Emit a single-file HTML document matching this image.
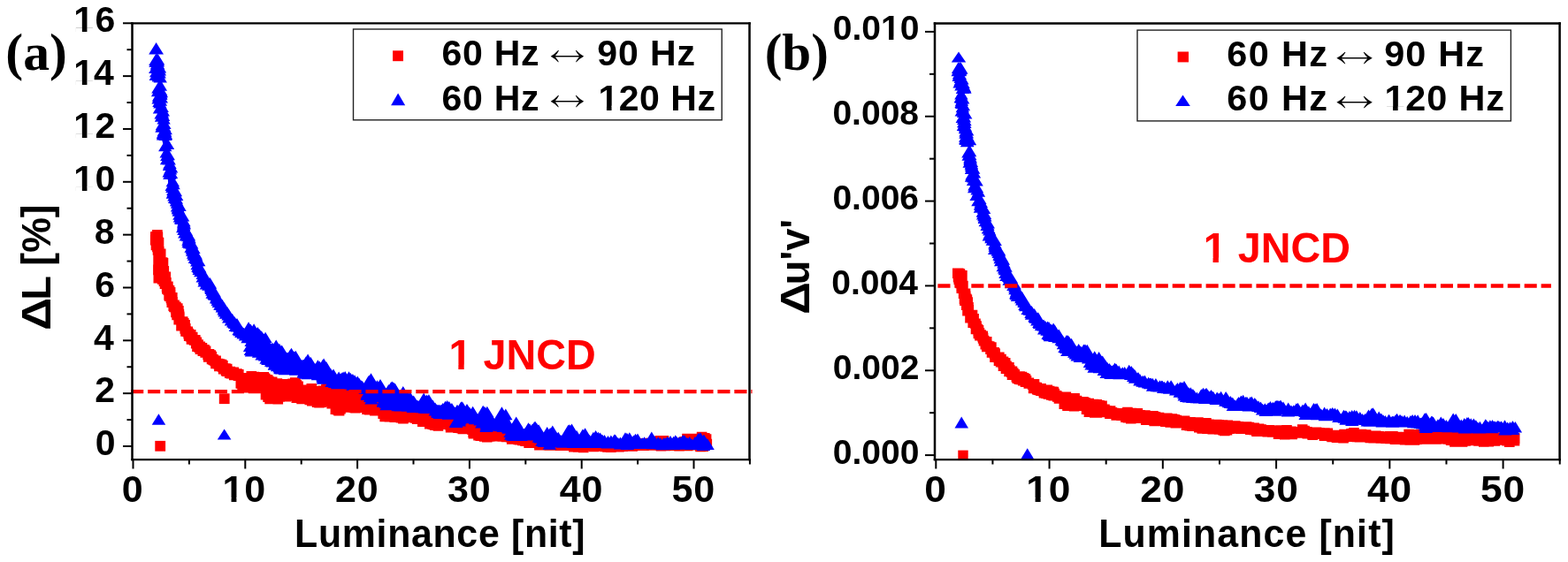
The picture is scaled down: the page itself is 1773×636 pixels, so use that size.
<!DOCTYPE html>
<html><head><meta charset="utf-8"><title>Figure</title>
<style>html,body{margin:0;padding:0;background:#fff;overflow:hidden;}svg{display:block;}</style>
</head><body>
<svg width="1773" height="636" viewBox="0 0 1773 636">
<rect width="100%" height="100%" fill="#fff"/>
<defs><clipPath id="c0"><path clip-rule="evenodd" d="M-2000 -2000H4000V2000H-2000ZM1.79 -4.70H9.23V1.19H1.79ZM14.65 -4.70H21.69V1.19H14.65Z"/></clipPath><clipPath id="c1"><path clip-rule="evenodd" d="M-2000 -2000H4000V2000H-2000ZM1.79 -4.70H9.23V1.19H1.79ZM14.65 -4.70H21.69V1.19H14.65Z"/></clipPath><clipPath id="c2"><path clip-rule="evenodd" d="M-2000 -2000H4000V2000H-2000ZM1.79 -4.70H9.23V1.19H1.79ZM14.65 -4.70H21.69V1.19H14.65Z"/></clipPath><clipPath id="c3"><path clip-rule="evenodd" d="M-2000 -2000H4000V2000H-2000ZM1.79 -4.70H9.23V1.19H1.79ZM14.65 -4.70H21.69V1.19H14.65Z"/></clipPath><clipPath id="c4"><path clip-rule="evenodd" d="M-2000 -2000H4000V2000H-2000ZM1.88 -4.93H9.70V1.25H1.88ZM15.38 -4.93H22.78V1.25H15.38Z"/></clipPath><clipPath id="c5"><path clip-rule="evenodd" d="M-2000 -2000H4000V2000H-2000ZM2.16 -5.66H11.14V1.44H2.16ZM17.66 -5.66H26.16V1.44H17.66Z"/></clipPath><clipPath id="c6"><path clip-rule="evenodd" d="M-2000 -2000H4000V2000H-2000ZM1.84 -4.84H9.51V1.23H1.84ZM15.09 -4.84H22.35V1.23H15.09Z"/></clipPath><clipPath id="c7"><path clip-rule="evenodd" d="M-2000 -2000H4000V2000H-2000ZM54.53 -4.48H61.64V1.14H54.53ZM66.80 -4.48H73.53V1.14H66.80Z"/></clipPath><clipPath id="c8"><path clip-rule="evenodd" d="M-2000 -2000H4000V2000H-2000ZM1.88 -4.93H9.70V1.25H1.88ZM15.38 -4.93H22.78V1.25H15.38Z"/></clipPath><clipPath id="c9"><path clip-rule="evenodd" d="M-2000 -2000H4000V2000H-2000ZM2.16 -5.66H11.14V1.44H2.16ZM17.66 -5.66H26.16V1.44H17.66Z"/></clipPath><clipPath id="c10"><path clip-rule="evenodd" d="M-2000 -2000H4000V2000H-2000ZM1.86 -4.89H9.60V1.24H1.86ZM15.24 -4.89H22.56V1.24H15.24Z"/></clipPath></defs>
<polygon fill="#ff0000" points="175.1,265.1 175.1,279.9 176.3,280.6 176.6,280.8 176.9,281.1 177.2,281.4 177.5,281.7 177.7,282.0 177.8,282.4 178.0,282.7 178.1,283.1 178.2,283.5 178.2,283.9 178.6,300.0 180.5,301.6 180.8,301.9 181.0,302.2 181.2,302.5 181.4,302.8 181.6,303.2 181.7,303.6 181.8,303.9 181.9,304.3 181.9,304.7 181.9,310.0 181.9,310.4 181.8,310.8 181.7,311.1 181.6,311.5 181.5,311.8 181.3,312.2 181.0,312.5 180.8,312.8 180.5,313.0 180.2,313.3 179.9,313.5 179.5,313.6 179.2,313.8 178.8,313.9 177.2,314.3 177.2,316.8 180.5,317.0 180.9,317.0 181.3,317.1 181.7,317.3 182.1,317.4 182.4,317.6 182.8,317.9 183.1,318.1 183.4,318.4 183.6,318.7 183.8,319.1 184.0,319.5 184.1,319.8 186.4,327.4 186.5,327.8 188.3,336.7 192.8,345.7 197.6,355.1 197.8,355.5 199.3,359.6 199.3,359.9 199.4,360.2 201.4,370.0 207.8,377.4 208.0,377.6 215.0,387.1 215.3,387.5 219.7,395.1 228.6,403.0 228.8,403.2 239.2,413.6 248.2,420.3 258.4,426.0 267.5,429.4 267.9,429.5 268.2,429.7 268.5,429.9 268.8,430.2 269.1,430.4 269.3,430.7 269.5,431.1 269.7,431.4 269.9,431.8 272.8,440.0 277.0,440.0 277.5,440.0 296.4,442.5 296.8,442.6 297.2,442.7 297.6,442.9 297.9,443.1 298.3,443.3 298.6,443.5 298.9,443.8 299.1,444.2 299.4,444.5 299.5,444.9 299.7,445.2 299.8,445.6 299.9,446.0 300.7,453.0 314.5,454.8 325.5,451.6 325.9,451.5 326.3,451.4 326.7,451.4 327.1,451.4 327.6,451.5 344.1,455.6 353.1,457.8 370.3,459.0 370.6,459.1 371.0,459.1 371.4,459.2 371.7,459.4 375.9,461.4 376.3,461.6 376.6,461.8 376.9,462.1 377.2,462.4 377.5,462.7 377.7,463.0 377.9,463.4 379.6,467.4 384.3,467.4 384.3,466.4 384.3,466.0 384.4,465.6 384.5,465.2 384.6,464.8 384.8,464.5 385.0,464.1 385.2,463.8 385.5,463.5 385.8,463.3 386.1,463.0 386.5,462.8 386.9,462.7 387.2,462.5 387.6,462.5 388.0,462.4 388.4,462.4 388.8,462.4 410.0,465.2 410.2,465.3 427.2,468.2 427.6,468.2 427.9,468.4 428.3,468.5 428.6,468.7 429.0,468.9 429.3,469.2 429.5,469.5 429.8,469.8 430.0,470.1 430.2,470.5 430.3,470.8 431.0,472.9 439.8,475.1 452.3,476.0 452.4,476.0 460.4,476.8 460.9,476.9 473.6,479.8 491.6,483.9 502.5,483.9 502.9,483.9 503.2,484.0 503.6,484.1 503.9,484.2 504.3,484.3 508.0,486.2 527.2,489.7 527.6,489.8 528.0,489.9 528.4,490.1 528.7,490.3 529.0,490.5 532.7,493.5 542.7,496.7 553.4,496.7 571.2,496.4 571.6,496.4 572.0,496.5 572.3,496.5 572.7,496.6 585.8,501.4 597.7,501.4 598.0,501.4 598.4,501.5 598.7,501.5 599.1,501.6 607.3,504.6 629.3,505.8 650.5,506.4 678.1,505.8 678.3,505.8 702.4,506.5 778.3,506.5 782.6,505.6 783.0,505.5 783.4,505.5 791.0,505.5 791.3,505.5 799.7,506.2 799.7,503.6 799.0,494.7 773.9,494.7 761.7,500.6 761.4,500.7 761.0,500.9 760.7,500.9 760.3,501.0 759.9,501.0 759.5,501.0 759.1,500.9 758.8,500.8 758.4,500.7 758.1,500.5 751.7,497.0 741.2,497.0 700.6,503.0 700.2,503.0 699.9,503.0 619.9,500.0 619.5,500.0 619.2,499.9 579.2,491.9 578.7,491.8 548.9,481.8 489.1,465.9 459.2,459.9 459.0,459.9 429.0,451.9 428.5,451.7 399.0,439.9 370.3,436.1 358.3,439.3 358.0,439.3 357.6,439.4 357.2,439.4 356.8,439.4 356.5,439.3 348.3,437.5 346.3,440.2 346.0,440.5 345.8,440.8 345.4,441.0 345.1,441.2 344.8,441.4 344.4,441.6 344.1,441.7 343.7,441.8 343.3,441.8 342.9,441.8 342.5,441.8 342.1,441.7 341.8,441.6 341.4,441.4 341.1,441.3 340.8,441.0 340.5,440.8 340.2,440.5 339.9,440.2 339.7,439.9 339.5,439.6 339.4,439.2 339.2,438.9 337.6,432.9 334.5,432.3 319.5,432.3 319.1,432.3 318.7,432.2 318.3,432.1 317.9,432.0 309.8,428.5 298.7,424.1 280.0,424.1 279.6,424.1 279.2,424.0 278.8,423.9 278.5,423.8 275.6,422.6 275.2,422.4 274.9,422.2 274.6,422.0 272.2,420.0 269.1,418.7 268.7,418.4 261.6,414.2 261.2,414.0 253.2,408.1 249.7,405.9 249.2,405.6 243.4,400.8 243.4,400.8 236.4,394.9 236.0,394.5 226.6,384.0 217.3,374.6 217.0,374.3 216.8,374.0 216.5,373.6 213.1,366.9 208.5,359.0 203.8,351.4 203.5,350.9 200.8,344.6 197.7,339.9 197.5,339.6 197.3,339.2 197.2,338.9 197.1,338.5 194.9,327.9 191.7,320.8 191.6,320.4 189.2,312.9 187.4,308.0 187.3,307.7 187.2,307.4 185.3,298.0 185.3,297.9 183.5,288.5 180.6,274.6 178.8,268.1 178.7,267.7 178.6,267.3 178.5,265.1"/>
<path fill="#ff0000" d="M172.1 260.0L183.7 260.0L183.7 271.6L172.1 271.6ZM172.5 262.2L184.1 262.2L184.1 273.8L172.5 273.8ZM172.2 264.6L183.8 264.6L183.8 276.2L172.2 276.2ZM173.2 268.4L184.8 268.4L184.8 280.0L173.2 280.0ZM171.6 270.5L183.2 270.5L183.2 282.1L171.6 282.1ZM173.3 273.5L184.9 273.5L184.9 285.1L173.3 285.1ZM171.1 270.4L182.7 270.4L182.7 282.0L171.1 282.0ZM175.9 281.6L187.5 281.6L187.5 293.2L175.9 293.2ZM174.5 283.7L186.1 283.7L186.1 295.3L174.5 295.3ZM174.6 287.4L186.2 287.4L186.2 299.0L174.6 299.0ZM174.9 289.8L186.5 289.8L186.5 301.4L174.9 301.4ZM175.6 292.5L187.2 292.5L187.2 304.1L175.6 304.1ZM177.9 291.2L189.5 291.2L189.5 302.8L177.9 302.8ZM178.7 291.9L190.3 291.9L190.3 303.5L178.7 303.5ZM179.5 300.9L191.1 300.9L191.1 312.5L179.5 312.5ZM179.4 307.8L191.0 307.8L191.0 319.4L179.4 319.4ZM176.5 306.8L188.1 306.8L188.1 318.4L176.5 318.4ZM173.5 308.9L185.1 308.9L185.1 320.5L173.5 320.5ZM181.3 311.8L192.9 311.8L192.9 323.4L181.3 323.4ZM173.1 299.6L184.7 299.6L184.7 311.2L173.1 311.2ZM181.5 307.4L193.1 307.4L193.1 319.0L181.5 319.0ZM182.1 314.1L193.7 314.1L193.7 325.7L182.1 325.7ZM184.1 318.6L195.7 318.6L195.7 330.2L184.1 330.2ZM184.5 322.4L196.1 322.4L196.1 334.0L184.5 334.0ZM185.5 323.7L197.1 323.7L197.1 335.3L185.5 335.3ZM185.3 328.1L196.9 328.1L196.9 339.7L185.3 339.7ZM185.9 329.4L197.5 329.4L197.5 341.0L185.9 341.0ZM189.0 331.1L200.6 331.1L200.6 342.7L189.0 342.7ZM188.2 333.1L199.8 333.1L199.8 344.7L188.2 344.7ZM189.3 335.9L200.9 335.9L200.9 347.5L189.3 347.5ZM191.3 339.6L202.9 339.6L202.9 351.2L191.3 351.2ZM193.1 341.5L204.7 341.5L204.7 353.1L193.1 353.1ZM195.0 343.2L206.6 343.2L206.6 354.8L195.0 354.8ZM196.1 346.1L207.7 346.1L207.7 357.7L196.1 357.7ZM196.6 350.1L208.2 350.1L208.2 361.7L196.6 361.7ZM197.1 354.1L208.7 354.1L208.7 365.7L197.1 365.7ZM199.5 358.4L211.1 358.4L211.1 370.0L199.5 370.0ZM200.2 360.1L211.8 360.1L211.8 371.7L200.2 371.7ZM199.2 362.9L210.8 362.9L210.8 374.5L199.2 374.5ZM201.1 361.8L212.7 361.8L212.7 373.4L201.1 373.4ZM203.3 362.1L214.9 362.1L214.9 373.7L203.3 373.7ZM203.4 366.2L215.0 366.2L215.0 377.8L203.4 377.8ZM206.4 369.6L218.0 369.6L218.0 381.2L206.4 381.2ZM207.4 371.8L219.0 371.8L219.0 383.4L207.4 383.4ZM209.9 373.1L221.5 373.1L221.5 384.7L209.9 384.7ZM211.9 375.7L223.5 375.7L223.5 387.3L211.9 387.3ZM213.7 379.2L225.3 379.2L225.3 390.8L213.7 390.8ZM215.9 383.0L227.5 383.0L227.5 394.6L215.9 394.6ZM218.3 384.3L229.9 384.3L229.9 395.9L218.3 395.9ZM217.2 386.5L228.8 386.5L228.8 398.1L217.2 398.1ZM220.5 386.6L232.1 386.6L232.1 398.2L220.5 398.2ZM220.6 389.3L232.2 389.3L232.2 400.9L220.6 400.9ZM225.2 390.0L236.8 390.0L236.8 401.6L225.2 401.6ZM226.8 391.4L238.4 391.4L238.4 403.0L226.8 403.0ZM229.3 395.7L240.9 395.7L240.9 407.3L229.3 407.3ZM229.9 398.1L241.5 398.1L241.5 409.7L229.9 409.7ZM233.5 397.8L245.1 397.8L245.1 409.4L233.5 409.4ZM235.1 401.0L246.7 401.0L246.7 412.6L235.1 412.6ZM237.3 402.6L248.9 402.6L248.9 414.2L237.3 414.2ZM238.2 405.6L249.8 405.6L249.8 417.2L238.2 417.2ZM240.8 405.8L252.4 405.8L252.4 417.4L240.8 417.4ZM242.1 408.7L253.7 408.7L253.7 420.3L242.1 420.3ZM245.8 409.1L257.4 409.1L257.4 420.7L245.8 420.7ZM246.8 412.0L258.4 412.0L258.4 423.6L246.8 423.6ZM249.8 413.9L261.4 413.9L261.4 425.5L249.8 425.5ZM251.1 414.4L262.7 414.4L262.7 426.0L251.1 426.0ZM253.9 416.5L265.5 416.5L265.5 428.1L253.9 428.1ZM255.6 416.9L267.2 416.9L267.2 428.5L255.6 428.5ZM258.9 418.7L270.5 418.7L270.5 430.3L258.9 430.3ZM262.2 417.3L273.8 417.3L273.8 428.9L262.2 428.9ZM269.6 426.5L281.2 426.5L281.2 438.1L269.6 438.1ZM270.2 428.9L281.8 428.9L281.8 440.5L270.2 440.5ZM269.6 431.3L281.2 431.3L281.2 442.9L269.6 442.9ZM273.0 433.0L284.6 433.0L284.6 444.6L273.0 444.6ZM266.5 428.1L278.1 428.1L278.1 439.7L266.5 439.7ZM268.3 430.9L279.9 430.9L279.9 442.5L268.3 442.5ZM273.0 430.1L284.6 430.1L284.6 441.7L273.0 441.7ZM276.0 429.2L287.6 429.2L287.6 440.8L276.0 440.8ZM278.3 431.4L289.9 431.4L289.9 443.0L278.3 443.0ZM282.7 430.6L294.3 430.6L294.3 442.2L282.7 442.2ZM285.5 431.7L297.1 431.7L297.1 443.3L285.5 443.3ZM288.7 431.3L300.3 431.3L300.3 442.9L288.7 442.9ZM295.1 432.5L306.7 432.5L306.7 444.1L295.1 444.1ZM299.4 443.2L311.0 443.2L311.0 454.8L299.4 454.8ZM299.3 445.4L310.9 445.4L310.9 457.0L299.3 457.0ZM299.3 445.7L310.9 445.7L310.9 457.3L299.3 457.3ZM294.7 440.8L306.3 440.8L306.3 452.4L294.7 452.4ZM297.3 443.5L308.9 443.5L308.9 455.1L297.3 455.1ZM299.4 443.7L311.0 443.7L311.0 455.3L299.4 455.3ZM304.1 443.3L315.7 443.3L315.7 454.9L304.1 454.9ZM306.4 445.4L318.0 445.4L318.0 457.0L306.4 457.0ZM308.5 445.8L320.1 445.8L320.1 457.4L308.5 457.4ZM308.1 443.5L319.7 443.5L319.7 455.1L308.1 455.1ZM310.4 443.1L322.0 443.1L322.0 454.7L310.4 454.7ZM313.4 442.8L325.0 442.8L325.0 454.4L313.4 454.4ZM317.4 442.8L329.0 442.8L329.0 454.4L317.4 454.4ZM324.7 442.2L336.3 442.2L336.3 453.8L324.7 453.8ZM327.8 441.4L339.4 441.4L339.4 453.0L327.8 453.0ZM329.5 444.5L341.1 444.5L341.1 456.1L329.5 456.1ZM332.9 443.6L344.5 443.6L344.5 455.2L332.9 455.2ZM335.3 445.7L346.9 445.7L346.9 457.3L335.3 457.3ZM339.7 445.4L351.3 445.4L351.3 457.0L339.7 457.0ZM342.0 445.0L353.6 445.0L353.6 456.6L342.0 456.6ZM344.5 446.6L356.1 446.6L356.1 458.2L344.5 458.2ZM347.0 448.0L358.6 448.0L358.6 459.6L347.0 459.6ZM349.8 447.4L361.4 447.4L361.4 459.0L349.8 459.0ZM352.8 449.5L364.4 449.5L364.4 461.1L352.8 461.1ZM355.2 449.9L366.8 449.9L366.8 461.5L355.2 461.5ZM357.5 449.5L369.1 449.5L369.1 461.1L357.5 461.1ZM361.8 448.5L373.4 448.5L373.4 460.1L361.8 460.1ZM366.2 447.7L377.8 447.7L377.8 459.3L366.2 459.3ZM369.4 450.9L381.0 450.9L381.0 462.5L369.4 462.5ZM375.7 455.0L387.3 455.0L387.3 466.6L375.7 466.6ZM377.4 458.8L389.0 458.8L389.0 470.4L377.4 470.4ZM376.2 458.0L387.8 458.0L387.8 469.6L376.2 469.6ZM373.6 457.5L385.2 457.5L385.2 469.1L373.6 469.1ZM377.8 458.9L389.4 458.9L389.4 470.5L377.8 470.5ZM379.2 456.8L390.8 456.8L390.8 468.4L379.2 468.4ZM383.5 452.8L395.1 452.8L395.1 464.4L383.5 464.4ZM386.9 454.5L398.5 454.5L398.5 466.1L386.9 466.1ZM390.7 455.1L402.3 455.1L402.3 466.7L390.7 466.7ZM394.4 455.3L406.0 455.3L406.0 466.9L394.4 466.9ZM396.1 455.8L407.7 455.8L407.7 467.4L396.1 467.4ZM400.0 455.4L411.6 455.4L411.6 467.0L400.0 467.0ZM403.1 455.2L414.7 455.2L414.7 466.8L403.1 466.8ZM406.9 454.3L418.5 454.3L418.5 465.9L406.9 465.9ZM409.2 457.3L420.8 457.3L420.8 468.9L409.2 468.9ZM411.8 457.8L423.4 457.8L423.4 469.4L411.8 469.4ZM414.1 457.4L425.7 457.4L425.7 469.0L414.1 469.0ZM418.1 458.8L429.7 458.8L429.7 470.4L418.1 470.4ZM420.4 458.8L432.0 458.8L432.0 470.4L420.4 470.4ZM429.4 465.7L441.0 465.7L441.0 477.3L429.4 477.3ZM427.6 462.1L439.2 462.1L439.2 473.7L427.6 473.7ZM427.4 462.4L439.0 462.4L439.0 474.0L427.4 474.0ZM430.7 465.3L442.3 465.3L442.3 476.9L430.7 476.9ZM434.1 464.4L445.7 464.4L445.7 476.0L434.1 476.0ZM434.6 465.9L446.2 465.9L446.2 477.5L434.6 477.5ZM438.0 464.8L449.6 464.8L449.6 476.4L438.0 476.4ZM440.5 466.3L452.1 466.3L452.1 477.9L440.5 477.9ZM444.4 465.7L456.0 465.7L456.0 477.3L444.4 477.3ZM447.6 467.0L459.2 467.0L459.2 478.6L447.6 478.6ZM450.1 467.9L461.7 467.9L461.7 479.5L450.1 479.5ZM453.4 466.3L465.0 466.3L465.0 477.9L453.4 477.9ZM457.1 466.7L468.7 466.7L468.7 478.3L457.1 478.3ZM459.6 466.5L471.2 466.5L471.2 478.1L459.6 478.1ZM464.0 467.1L475.6 467.1L475.6 478.7L464.0 478.7ZM465.9 468.4L477.5 468.4L477.5 480.0L465.9 480.0ZM468.6 468.5L480.2 468.5L480.2 480.1L468.6 480.1ZM472.0 471.3L483.6 471.3L483.6 482.9L472.0 482.9ZM473.6 471.4L485.2 471.4L485.2 483.0L473.6 483.0ZM477.6 471.2L489.2 471.2L489.2 482.8L477.6 482.8ZM480.0 473.8L491.6 473.8L491.6 485.4L480.0 485.4ZM483.5 474.5L495.1 474.5L495.1 486.1L483.5 486.1ZM485.8 475.3L497.4 475.3L497.4 486.9L485.8 486.9ZM487.0 474.2L498.6 474.2L498.6 485.8L487.0 485.8ZM489.7 476.1L501.3 476.1L501.3 487.7L489.7 487.7ZM493.3 474.5L504.9 474.5L504.9 486.1L493.3 486.1ZM499.2 473.7L510.8 473.7L510.8 485.3L499.2 485.3ZM503.5 475.7L515.1 475.7L515.1 487.3L503.5 487.3ZM503.8 477.8L515.4 477.8L515.4 489.4L503.8 489.4ZM505.7 477.0L517.3 477.0L517.3 488.6L505.7 488.6ZM508.9 476.9L520.5 476.9L520.5 488.5L508.9 488.5ZM512.3 478.3L523.9 478.3L523.9 489.9L512.3 489.9ZM515.6 478.7L527.2 478.7L527.2 490.3L515.6 490.3ZM517.5 479.7L529.1 479.7L529.1 491.3L517.5 491.3ZM523.3 478.3L534.9 478.3L534.9 489.9L523.3 489.9ZM528.0 480.2L539.6 480.2L539.6 491.8L528.0 491.8ZM529.3 483.4L540.9 483.4L540.9 495.0L529.3 495.0ZM529.6 484.8L541.2 484.8L541.2 496.4L529.6 496.4ZM532.6 484.9L544.2 484.9L544.2 496.5L532.6 496.5ZM535.2 486.9L546.8 486.9L546.8 498.5L535.2 498.5ZM537.5 487.3L549.1 487.3L549.1 498.9L537.5 498.9ZM538.5 486.9L550.1 486.9L550.1 498.5L538.5 498.5ZM541.8 488.1L553.4 488.1L553.4 499.7L541.8 499.7ZM545.0 489.0L556.6 489.0L556.6 500.6L545.0 500.6ZM547.7 488.2L559.3 488.2L559.3 499.8L547.7 499.8ZM551.4 486.3L563.0 486.3L563.0 497.9L551.4 497.9ZM553.1 487.9L564.7 487.9L564.7 499.5L553.1 499.5ZM555.9 488.0L567.5 488.0L567.5 499.6L555.9 499.6ZM560.1 486.2L571.7 486.2L571.7 497.8L560.1 497.8ZM562.5 488.2L574.1 488.2L574.1 499.8L562.5 499.8ZM566.1 486.8L577.7 486.8L577.7 498.4L566.1 498.4ZM571.8 488.8L583.4 488.8L583.4 500.4L571.8 500.4ZM574.3 489.9L585.9 489.9L585.9 501.5L574.3 501.5ZM576.3 490.2L587.9 490.2L587.9 501.8L576.3 501.8ZM580.0 491.4L591.6 491.4L591.6 503.0L580.0 503.0ZM580.7 491.6L592.3 491.6L592.3 503.2L580.7 503.2ZM582.1 491.9L593.7 491.9L593.7 503.5L582.1 503.5ZM585.1 492.7L596.7 492.7L596.7 504.3L585.1 504.3ZM588.3 493.5L599.9 493.5L599.9 505.1L588.3 505.1ZM593.1 492.1L604.7 492.1L604.7 503.7L593.1 503.7ZM597.2 492.8L608.8 492.8L608.8 504.4L597.2 504.4ZM600.1 494.5L611.7 494.5L611.7 506.1L600.1 506.1ZM602.3 494.1L613.9 494.1L613.9 505.7L602.3 505.7ZM603.9 495.7L615.5 495.7L615.5 507.3L603.9 507.3ZM607.3 495.6L618.9 495.6L618.9 507.2L607.3 507.2ZM610.2 496.9L621.8 496.9L621.8 508.5L610.2 508.5ZM613.1 495.2L624.7 495.2L624.7 506.8L613.1 506.8ZM616.3 497.0L627.9 497.0L627.9 508.6L616.3 508.6ZM618.3 495.0L629.9 495.0L629.9 506.6L618.3 506.6ZM621.2 494.8L632.8 494.8L632.8 506.4L621.2 506.4ZM625.1 497.9L636.7 497.9L636.7 509.5L625.1 509.5ZM627.0 496.3L638.6 496.3L638.6 507.9L627.0 507.9ZM629.9 498.1L641.5 498.1L641.5 509.7L629.9 509.7ZM634.0 497.5L645.6 497.5L645.6 509.1L634.0 509.1ZM636.9 498.3L648.5 498.3L648.5 509.9L636.9 509.9ZM639.2 496.8L650.8 496.8L650.8 508.4L639.2 508.4ZM641.5 498.3L653.1 498.3L653.1 509.9L641.5 509.9ZM645.4 496.1L657.0 496.1L657.0 507.7L645.4 507.7ZM648.9 498.5L660.5 498.5L660.5 510.1L648.9 510.1ZM651.0 496.6L662.6 496.6L662.6 508.2L651.0 508.2ZM654.0 496.8L665.6 496.8L665.6 508.4L654.0 508.4ZM656.5 498.4L668.1 498.4L668.1 510.0L656.5 510.0ZM659.4 498.3L671.0 498.3L671.0 509.9L659.4 509.9ZM663.1 497.2L674.7 497.2L674.7 508.8L663.1 508.8ZM666.2 498.0L677.8 498.0L677.8 509.6L666.2 509.6ZM668.5 497.9L680.1 497.9L680.1 509.5L668.5 509.5ZM676.1 498.1L687.7 498.1L687.7 509.7L676.1 509.7ZM684.1 497.4L695.7 497.4L695.7 509.0L684.1 509.0ZM687.4 497.6L699.0 497.6L699.0 509.2L687.4 509.2ZM690.5 498.6L702.1 498.6L702.1 510.2L690.5 510.2ZM695.8 497.8L707.4 497.8L707.4 509.4L695.8 509.4ZM699.6 498.1L711.2 498.1L711.2 509.7L699.6 509.7ZM701.6 498.7L713.2 498.7L713.2 510.3L701.6 510.3ZM705.2 498.9L716.8 498.9L716.8 510.5L705.2 510.5ZM708.9 496.7L720.5 496.7L720.5 508.3L708.9 508.3ZM711.5 496.5L723.1 496.5L723.1 508.1L711.5 508.1ZM714.4 498.1L726.0 498.1L726.0 509.7L714.4 509.7ZM717.4 497.8L729.0 497.8L729.0 509.4L717.4 509.4ZM721.0 496.7L732.6 496.7L732.6 508.3L721.0 508.3ZM722.7 496.3L734.3 496.3L734.3 507.9L722.7 507.9ZM726.6 496.8L738.2 496.8L738.2 508.4L726.6 508.4ZM729.7 498.1L741.3 498.1L741.3 509.7L729.7 509.7ZM732.9 496.4L744.5 496.4L744.5 508.0L732.9 508.0ZM735.5 496.9L747.1 496.9L747.1 508.5L735.5 508.5ZM738.7 498.1L750.3 498.1L750.3 509.7L738.7 509.7ZM741.6 498.8L753.2 498.8L753.2 510.4L741.6 510.4ZM743.9 497.9L755.5 497.9L755.5 509.5L743.9 509.5ZM746.3 498.3L757.9 498.3L757.9 509.9L746.3 509.9ZM750.4 497.4L762.0 497.4L762.0 509.0L750.4 509.0ZM752.7 496.1L764.3 496.1L764.3 507.7L752.7 507.7ZM756.5 498.3L768.1 498.3L768.1 509.9L756.5 509.9ZM759.5 497.6L771.1 497.6L771.1 509.2L759.5 509.2ZM762.2 498.2L773.8 498.2L773.8 509.8L762.2 509.8ZM766.1 497.4L777.7 497.4L777.7 509.0L766.1 509.0ZM768.5 496.9L780.1 496.9L780.1 508.5L768.5 508.5ZM771.8 498.6L783.4 498.6L783.4 510.2L771.8 510.2ZM772.5 495.8L784.1 495.8L784.1 507.4L772.5 507.4ZM775.4 496.5L787.0 496.5L787.0 508.1L775.4 508.1ZM779.3 497.6L790.9 497.6L790.9 509.2L779.3 509.2ZM782.8 497.8L794.4 497.8L794.4 509.4L782.8 509.4ZM786.1 495.1L797.7 495.1L797.7 506.7L786.1 506.7ZM789.7 496.7L801.3 496.7L801.3 508.3L789.7 508.3ZM793.5 496.8L805.1 496.8L805.1 508.4L793.5 508.4ZM786.2 499.6L797.8 499.6L797.8 511.2L786.2 511.2ZM789.4 499.4L801.0 499.4L801.0 511.0L789.4 511.0ZM790.6 496.7L802.2 496.7L802.2 508.3L790.6 508.3ZM790.3 493.7L801.9 493.7L801.9 505.3L790.3 505.3ZM791.0 489.9L802.6 489.9L802.6 501.5L791.0 501.5ZM787.8 488.8L799.4 488.8L799.4 500.4L787.8 500.4ZM792.8 491.2L804.4 491.2L804.4 502.8L792.8 502.8ZM789.3 492.0L800.9 492.0L800.9 503.6L789.3 503.6ZM787.0 492.5L798.6 492.5L798.6 504.1L787.0 504.1ZM784.0 490.7L795.6 490.7L795.6 502.3L784.0 502.3ZM781.1 490.7L792.7 490.7L792.7 502.3L781.1 502.3ZM778.2 492.7L789.8 492.7L789.8 504.3L778.2 504.3ZM774.8 493.3L786.4 493.3L786.4 504.9L774.8 504.9ZM771.2 490.7L782.8 490.7L782.8 502.3L771.2 502.3ZM769.1 494.1L780.7 494.1L780.7 505.7L769.1 505.7ZM769.9 494.7L781.5 494.7L781.5 506.3L769.9 506.3ZM767.0 494.7L778.6 494.7L778.6 506.3L767.0 506.3ZM763.1 495.9L774.7 495.9L774.7 507.5L763.1 507.5ZM762.2 499.0L773.8 499.0L773.8 510.6L762.2 510.6ZM755.6 498.4L767.2 498.4L767.2 510.0L755.6 510.0ZM746.7 498.6L758.3 498.6L758.3 510.2L746.7 510.2ZM745.7 495.6L757.3 495.6L757.3 507.2L745.7 507.2ZM744.9 494.9L756.5 494.9L756.5 506.5L744.9 506.5ZM744.6 493.0L756.2 493.0L756.2 504.6L744.6 504.6ZM741.0 493.1L752.6 493.1L752.6 504.7L741.0 504.7ZM738.2 494.6L749.8 494.6L749.8 506.2L738.2 506.2ZM735.6 493.8L747.2 493.8L747.2 505.4L735.6 505.4ZM733.0 495.0L744.6 495.0L744.6 506.6L733.0 506.6ZM729.8 495.8L741.4 495.8L741.4 507.4L729.8 507.4ZM726.6 497.9L738.2 497.9L738.2 509.5L726.6 509.5ZM723.8 495.9L735.4 495.9L735.4 507.5L723.8 507.5ZM722.2 498.3L733.8 498.3L733.8 509.9L722.2 509.9ZM717.9 497.9L729.5 497.9L729.5 509.5L717.9 509.5ZM715.6 497.1L727.2 497.1L727.2 508.7L715.6 508.7ZM712.1 498.5L723.7 498.5L723.7 510.1L712.1 510.1ZM709.4 499.2L721.0 499.2L721.0 510.8L709.4 510.8ZM705.9 498.4L717.5 498.4L717.5 510.0L705.9 510.0ZM698.3 499.3L709.9 499.3L709.9 510.9L698.3 510.9ZM694.2 500.0L705.8 500.0L705.8 511.6L694.2 511.6ZM690.1 499.2L701.7 499.2L701.7 510.8L690.1 510.8ZM687.2 499.0L698.8 499.0L698.8 510.6L687.2 510.6ZM685.0 500.5L696.6 500.5L696.6 512.1L685.0 512.1ZM681.2 500.2L692.8 500.2L692.8 511.8L681.2 511.8ZM678.5 499.6L690.1 499.6L690.1 511.2L678.5 511.2ZM675.8 499.1L687.4 499.1L687.4 510.7L675.8 510.7ZM670.1 498.4L681.7 498.4L681.7 510.0L670.1 510.0ZM665.7 499.6L677.3 499.6L677.3 511.2L665.7 511.2ZM662.8 498.3L674.4 498.3L674.4 509.9L662.8 509.9ZM660.4 498.3L672.0 498.3L672.0 509.9L660.4 509.9ZM656.7 498.5L668.3 498.5L668.3 510.1L656.7 510.1ZM653.9 500.7L665.5 500.7L665.5 512.3L653.9 512.3ZM651.6 498.8L663.2 498.8L663.2 510.4L651.6 510.4ZM647.8 500.1L659.4 500.1L659.4 511.7L647.8 511.7ZM645.4 498.1L657.0 498.1L657.0 509.7L645.4 509.7ZM643.0 499.8L654.6 499.8L654.6 511.4L643.0 511.4ZM640.1 497.3L651.7 497.3L651.7 508.9L640.1 508.9ZM636.2 498.1L647.8 498.1L647.8 509.7L636.2 509.7ZM633.0 497.4L644.6 497.4L644.6 509.0L633.0 509.0ZM629.8 496.9L641.4 496.9L641.4 508.5L629.8 508.5ZM627.8 498.3L639.4 498.3L639.4 509.9L627.8 509.9ZM625.1 497.1L636.7 497.1L636.7 508.7L625.1 508.7ZM620.9 498.2L632.5 498.2L632.5 509.8L620.9 509.8ZM618.7 496.5L630.3 496.5L630.3 508.1L618.7 508.1ZM615.5 498.1L627.1 498.1L627.1 509.7L615.5 509.7ZM611.5 496.7L623.1 496.7L623.1 508.3L611.5 508.3ZM607.7 497.2L619.3 497.2L619.3 508.8L607.7 508.8ZM604.1 497.9L615.7 497.9L615.7 509.5L604.1 509.5ZM601.5 495.5L613.1 495.5L613.1 507.1L601.5 507.1ZM598.9 494.6L610.5 494.6L610.5 506.2L598.9 506.2ZM596.7 494.4L608.3 494.4L608.3 506.0L596.7 506.0ZM592.3 495.4L603.9 495.4L603.9 507.0L592.3 507.0ZM591.0 493.2L602.6 493.2L602.6 504.8L591.0 504.8ZM587.8 492.6L599.4 492.6L599.4 504.2L587.8 504.2ZM584.8 492.0L596.4 492.0L596.4 503.6L584.8 503.6ZM582.1 492.0L593.7 492.0L593.7 503.6L582.1 503.6ZM578.1 491.2L589.7 491.2L589.7 502.8L578.1 502.8ZM575.1 490.6L586.7 490.6L586.7 502.2L575.1 502.2ZM572.9 491.1L584.5 491.1L584.5 502.7L572.9 502.7ZM568.4 488.5L580.0 488.5L580.0 500.1L568.4 500.1ZM566.8 488.6L578.4 488.6L578.4 500.2L566.8 500.2ZM563.0 487.6L574.6 487.6L574.6 499.2L563.0 499.2ZM559.4 486.6L571.0 486.6L571.0 498.2L559.4 498.2ZM557.3 484.3L568.9 484.3L568.9 495.9L557.3 495.9ZM554.2 485.5L565.8 485.5L565.8 497.1L554.2 497.1ZM552.8 482.9L564.4 482.9L564.4 494.5L552.8 494.5ZM548.1 483.9L559.7 483.9L559.7 495.5L548.1 495.5ZM546.7 482.3L558.3 482.3L558.3 493.9L546.7 493.9ZM543.6 481.8L555.2 481.8L555.2 493.4L543.6 493.4ZM540.8 479.0L552.4 479.0L552.4 490.6L540.8 490.6ZM538.3 480.0L549.9 480.0L549.9 491.6L538.3 491.6ZM534.8 479.1L546.4 479.1L546.4 490.7L534.8 490.7ZM532.5 477.0L544.1 477.0L544.1 488.6L532.5 488.6ZM528.4 477.0L540.0 477.0L540.0 488.6L528.4 488.6ZM526.4 476.0L538.0 476.0L538.0 487.6L526.4 487.6ZM523.0 475.7L534.6 475.7L534.6 487.3L523.0 487.3ZM520.0 473.9L531.6 473.9L531.6 485.5L520.0 485.5ZM517.0 474.0L528.6 474.0L528.6 485.6L517.0 485.6ZM513.9 473.7L525.5 473.7L525.5 485.3L513.9 485.3ZM511.0 473.3L522.6 473.3L522.6 484.9L511.0 484.9ZM508.1 471.5L519.7 471.5L519.7 483.1L508.1 483.1ZM505.9 471.2L517.5 471.2L517.5 482.8L505.9 482.8ZM502.8 469.4L514.4 469.4L514.4 481.0L502.8 481.0ZM500.7 468.1L512.3 468.1L512.3 479.7L500.7 479.7ZM496.5 469.9L508.1 469.9L508.1 481.5L496.5 481.5ZM495.0 466.6L506.6 466.6L506.6 478.2L495.0 478.2ZM492.2 466.5L503.8 466.5L503.8 478.1L492.2 478.1ZM488.6 467.7L500.2 467.7L500.2 479.3L488.6 479.3ZM486.8 464.8L498.4 464.8L498.4 476.4L486.8 476.4ZM483.5 465.0L495.1 465.0L495.1 476.6L483.5 476.6ZM480.3 462.6L491.9 462.6L491.9 474.2L480.3 474.2ZM478.4 463.0L490.0 463.0L490.0 474.6L478.4 474.6ZM474.2 463.8L485.8 463.8L485.8 475.4L474.2 475.4ZM472.8 461.0L484.4 461.0L484.4 472.6L472.8 472.6ZM469.5 460.5L481.1 460.5L481.1 472.1L469.5 472.1ZM466.2 461.4L477.8 461.4L477.8 473.0L466.2 473.0ZM462.9 459.2L474.5 459.2L474.5 470.8L462.9 470.8ZM460.7 458.9L472.3 458.9L472.3 470.5L460.7 470.5ZM457.4 459.8L469.0 459.8L469.0 471.4L457.4 471.4ZM454.4 458.4L466.0 458.4L466.0 470.0L454.4 470.0ZM450.1 457.5L461.7 457.5L461.7 469.1L450.1 469.1ZM447.8 458.4L459.4 458.4L459.4 470.0L447.8 470.0ZM444.2 455.5L455.8 455.5L455.8 467.1L444.2 467.1ZM441.4 457.0L453.0 457.0L453.0 468.6L441.4 468.6ZM439.3 453.9L450.9 453.9L450.9 465.5L439.3 465.5ZM436.5 455.7L448.1 455.7L448.1 467.3L436.5 467.3ZM432.8 452.6L444.4 452.6L444.4 464.2L432.8 464.2ZM430.3 452.3L441.9 452.3L441.9 463.9L430.3 463.9ZM427.3 453.4L438.9 453.4L438.9 465.0L427.3 465.0ZM424.4 450.0L436.0 450.0L436.0 461.6L424.4 461.6ZM422.1 450.2L433.7 450.2L433.7 461.8L422.1 461.8ZM417.6 450.0L429.2 450.0L429.2 461.6L417.6 461.6ZM414.5 448.0L426.1 448.0L426.1 459.6L414.5 459.6ZM413.1 446.1L424.7 446.1L424.7 457.7L413.1 457.7ZM410.0 445.1L421.6 445.1L421.6 456.7L410.0 456.7ZM406.0 444.2L417.6 444.2L417.6 455.8L406.0 455.8ZM402.9 445.0L414.5 445.0L414.5 456.6L402.9 456.6ZM401.4 442.5L413.0 442.5L413.0 454.1L401.4 454.1ZM398.5 442.2L410.1 442.2L410.1 453.8L398.5 453.8ZM395.9 441.4L407.5 441.4L407.5 453.0L395.9 453.0ZM391.9 439.7L403.5 439.7L403.5 451.3L391.9 451.3ZM392.2 437.3L403.8 437.3L403.8 448.9L392.2 448.9ZM388.8 436.1L400.4 436.1L400.4 447.7L388.8 447.7ZM386.1 436.7L397.7 436.7L397.7 448.3L386.1 448.3ZM382.3 436.5L393.9 436.5L393.9 448.1L382.3 448.1ZM379.6 435.3L391.2 435.3L391.2 446.9L379.6 446.9ZM376.7 435.3L388.3 435.3L388.3 446.9L376.7 446.9ZM373.6 434.1L385.2 434.1L385.2 445.7L373.6 445.7ZM370.7 433.9L382.3 433.9L382.3 445.5L370.7 445.5ZM368.2 434.5L379.8 434.5L379.8 446.1L368.2 446.1ZM365.7 435.3L377.3 435.3L377.3 446.9L365.7 446.9ZM364.6 433.3L376.2 433.3L376.2 444.9L364.6 444.9ZM363.1 434.4L374.7 434.4L374.7 446.0L363.1 446.0ZM359.9 436.6L371.5 436.6L371.5 448.2L359.9 448.2ZM357.2 437.2L368.8 437.2L368.8 448.8L357.2 448.8ZM353.7 436.7L365.3 436.7L365.3 448.3L353.7 448.3ZM346.8 438.6L358.4 438.6L358.4 450.2L346.8 450.2ZM343.5 436.5L355.1 436.5L355.1 448.1L343.5 448.1ZM342.2 435.4L353.8 435.4L353.8 447.0L342.2 447.0ZM346.5 434.0L358.1 434.0L358.1 445.6L346.5 445.6ZM345.6 436.0L357.2 436.0L357.2 447.6L345.6 447.6ZM333.9 441.7L345.5 441.7L345.5 453.3L333.9 453.3ZM328.9 429.6L340.5 429.6L340.5 441.2L328.9 441.2ZM328.0 427.3L339.6 427.3L339.6 438.9L328.0 438.9ZM331.3 431.6L342.9 431.6L342.9 443.2L331.3 443.2ZM329.6 430.2L341.2 430.2L341.2 441.8L329.6 441.8ZM327.8 430.1L339.4 430.1L339.4 441.7L327.8 441.7ZM325.2 428.6L336.8 428.6L336.8 440.2L325.2 440.2ZM321.3 428.9L332.9 428.9L332.9 440.5L321.3 440.5ZM317.9 429.6L329.5 429.6L329.5 441.2L317.9 441.2ZM315.3 428.9L326.9 428.9L326.9 440.5L315.3 440.5ZM309.3 429.0L320.9 429.0L320.9 440.6L309.3 440.6ZM307.6 428.3L319.2 428.3L319.2 439.9L307.6 439.9ZM303.3 428.3L314.9 428.3L314.9 439.9L303.3 439.9ZM301.9 426.5L313.5 426.5L313.5 438.1L301.9 438.1ZM297.9 425.6L309.5 425.6L309.5 437.2L297.9 437.2ZM296.7 424.0L308.3 424.0L308.3 435.6L296.7 435.6ZM293.9 422.6L305.5 422.6L305.5 434.2L293.9 434.2ZM292.4 421.0L304.0 421.0L304.0 432.6L292.4 432.6ZM289.6 420.9L301.2 420.9L301.2 432.5L289.6 432.5ZM287.3 421.7L298.9 421.7L298.9 433.3L287.3 433.3ZM283.9 422.3L295.5 422.3L295.5 433.9L283.9 433.9ZM281.6 420.7L293.2 420.7L293.2 432.3L281.6 432.3ZM278.5 420.1L290.1 420.1L290.1 431.7L278.5 431.7ZM275.4 422.0L287.0 422.0L287.0 433.6L275.4 433.6ZM267.0 422.0L278.6 422.0L278.6 433.6L267.0 433.6ZM263.7 419.3L275.3 419.3L275.3 430.9L263.7 430.9ZM264.0 418.0L275.6 418.0L275.6 429.6L264.0 429.6ZM260.8 417.6L272.4 417.6L272.4 429.2L260.8 429.2ZM258.4 415.4L270.0 415.4L270.0 427.0L258.4 427.0ZM254.5 414.7L266.1 414.7L266.1 426.3L254.5 426.3ZM250.9 411.8L262.5 411.8L262.5 423.4L250.9 423.4ZM249.1 411.2L260.7 411.2L260.7 422.8L249.1 422.8ZM246.1 408.0L257.7 408.0L257.7 419.6L246.1 419.6ZM244.8 406.8L256.4 406.8L256.4 418.4L244.8 418.4ZM242.7 406.2L254.3 406.2L254.3 417.8L242.7 417.8ZM238.3 402.4L249.9 402.4L249.9 414.0L238.3 414.0ZM235.6 401.7L247.2 401.7L247.2 413.3L235.6 413.3ZM233.7 400.7L245.3 400.7L245.3 412.3L233.7 412.3ZM232.4 396.3L244.0 396.3L244.0 407.9L232.4 407.9ZM230.7 395.1L242.3 395.1L242.3 406.7L230.7 406.7ZM226.4 393.2L238.0 393.2L238.0 404.8L226.4 404.8ZM223.5 391.4L235.1 391.4L235.1 403.0L223.5 403.0ZM222.7 388.0L234.3 388.0L234.3 399.6L222.7 399.6ZM219.6 387.4L231.2 387.4L231.2 399.0L219.6 399.0ZM217.8 384.9L229.4 384.9L229.4 396.5L217.8 396.5ZM216.5 381.6L228.1 381.6L228.1 393.2L216.5 393.2ZM215.0 378.9L226.6 378.9L226.6 390.5L215.0 390.5ZM210.7 378.2L222.3 378.2L222.3 389.8L210.7 389.8ZM209.8 375.0L221.4 375.0L221.4 386.6L209.8 386.6ZM207.9 374.4L219.5 374.4L219.5 386.0L207.9 386.0ZM204.2 369.1L215.8 369.1L215.8 380.7L204.2 380.7ZM204.0 365.9L215.6 365.9L215.6 377.5L204.0 377.5ZM203.1 362.2L214.7 362.2L214.7 373.8L203.1 373.8ZM202.0 360.0L213.6 360.0L213.6 371.6L202.0 371.6ZM200.9 358.3L212.5 358.3L212.5 369.9L200.9 369.9ZM196.4 355.8L208.0 355.8L208.0 367.4L196.4 367.4ZM197.0 352.6L208.6 352.6L208.6 364.2L197.0 364.2ZM194.3 350.7L205.9 350.7L205.9 362.3L194.3 362.3ZM193.2 347.7L204.8 347.7L204.8 359.3L193.2 359.3ZM192.9 343.1L204.5 343.1L204.5 354.7L192.9 354.7ZM191.2 341.7L202.8 341.7L202.8 353.3L191.2 353.3ZM190.4 340.5L202.0 340.5L202.0 352.1L190.4 352.1ZM188.5 336.4L200.1 336.4L200.1 348.0L188.5 348.0ZM187.6 331.3L199.2 331.3L199.2 342.9L187.6 342.9ZM186.9 328.3L198.5 328.3L198.5 339.9L186.9 339.9ZM186.8 325.1L198.4 325.1L198.4 336.7L186.8 336.7ZM185.7 323.1L197.3 323.1L197.3 334.7L185.7 334.7ZM183.1 321.2L194.7 321.2L194.7 332.8L183.1 332.8ZM182.8 319.0L194.4 319.0L194.4 330.6L182.8 330.6ZM180.7 315.5L192.3 315.5L192.3 327.1L180.7 327.1ZM179.6 312.3L191.2 312.3L191.2 323.9L179.6 323.9ZM177.8 310.2L189.4 310.2L189.4 321.8L177.8 321.8ZM177.2 307.2L188.8 307.2L188.8 318.8L177.2 318.8ZM177.8 304.2L189.4 304.2L189.4 315.8L177.8 315.8ZM175.6 300.3L187.2 300.3L187.2 311.9L175.6 311.9ZM176.4 297.1L188.0 297.1L188.0 308.7L176.4 308.7ZM176.4 291.3L188.0 291.3L188.0 302.9L176.4 302.9ZM173.3 288.1L184.9 288.1L184.9 299.7L173.3 299.7ZM173.9 284.9L185.5 284.9L185.5 296.5L173.9 296.5ZM174.1 281.9L185.7 281.9L185.7 293.5L174.1 293.5ZM174.0 279.1L185.6 279.1L185.6 290.7L174.0 290.7ZM172.7 277.2L184.3 277.2L184.3 288.8L172.7 288.8ZM172.1 273.6L183.7 273.6L183.7 285.2L172.1 285.2ZM170.7 271.6L182.3 271.6L182.3 283.2L170.7 283.2ZM171.0 268.2L182.6 268.2L182.6 279.8L171.0 279.8ZM169.9 265.8L181.5 265.8L181.5 277.4L169.9 277.4ZM170.2 261.9L181.8 261.9L181.8 273.5L170.2 273.5ZM173.7 269.0L185.3 269.0L185.3 280.6L173.7 280.6ZM172.6 263.3L184.2 263.3L184.2 274.9L172.6 274.9ZM170.0 263.0L181.6 263.0L181.6 274.6L170.0 274.6Z"/>
<rect fill="#ff0000" x="175.3" y="498.9" width="11.8" height="11.8"/>
<rect fill="#ff0000" x="247.8" y="445.3" width="11.8" height="11.8"/>
<polygon fill="#0000ff" points="176.5,65.4 174.6,66.6 173.4,68.0 173.4,74.8 174.4,84.6 174.4,84.8 174.6,87.9 179.1,88.5 179.2,88.6 179.5,88.5 183.3,88.1 182.7,86.4 182.6,85.8 181.1,78.8 181.1,78.7 180.1,72.8 178.9,68.2 177.5,66.2"/>
<polygon fill="#0000ff" points="179.4,99.0 176.0,105.0 177.2,113.0 177.2,113.4 177.7,122.6 179.1,131.9 180.5,141.3 180.5,141.5 180.8,144.6 180.8,144.6 181.6,153.6 184.4,162.7 184.5,163.1 184.6,163.4 184.6,163.7 185.0,172.9 186.5,182.1 186.5,182.1 187.8,191.5 189.4,199.7 189.5,200.1 190.3,208.9 191.6,218.0 194.4,227.1 194.5,227.5 196.4,236.8 198.6,246.1 199.6,248.7 199.7,248.9 201.4,255.3 202.4,257.9 202.5,258.3 205.3,267.6 209.0,276.8 209.1,277.2 211.9,286.4 215.4,295.1 217.4,297.3 217.6,297.6 217.8,297.9 218.0,298.2 218.1,298.6 218.3,298.9 218.3,299.3 219.4,305.1 221.6,308.6 221.8,308.9 227.0,319.5 233.3,330.0 233.5,330.3 238.7,340.7 246.1,351.1 246.2,351.2 250.4,357.8 258.5,369.3 266.4,378.4 278.0,387.9 278.3,388.2 278.6,388.4 278.8,388.8 279.0,389.1 279.2,389.4 279.3,389.8 279.4,390.2 279.5,390.6 279.5,391.0 279.5,391.4 278.9,397.7 289.6,403.6 290.0,403.8 290.3,404.1 298.4,411.1 307.3,417.8 315.7,420.9 329.3,422.0 329.7,422.1 336.7,423.3 337.0,423.3 337.4,423.4 337.7,423.6 342.2,425.7 360.6,430.3 360.9,430.4 361.3,430.6 361.6,430.8 362.0,431.0 362.3,431.2 362.6,431.5 362.7,431.7 369.2,432.8 369.6,432.8 369.9,433.0 370.3,433.1 370.7,433.3 371.0,433.6 371.3,433.9 374.4,437.0 388.5,437.6 388.9,437.6 389.3,437.7 394.8,439.2 410.0,441.2 410.4,441.3 410.8,441.4 411.1,441.6 411.5,441.7 411.8,441.9 412.1,442.2 412.4,442.4 412.6,442.7 412.9,443.0 413.1,443.4 413.2,443.7 413.3,444.1 413.4,444.4 413.5,444.8 413.5,445.2 413.5,451.4 426.8,452.5 427.2,452.6 427.6,452.6 427.9,452.8 428.3,452.9 428.6,453.1 428.9,453.3 429.2,453.6 429.5,453.9 429.7,454.2 430.0,454.5 430.1,454.8 430.3,455.2 430.4,455.5 431.2,459.0 438.5,461.0 456.5,462.4 456.9,462.5 457.2,462.5 460.7,463.4 487.2,465.5 487.6,465.6 488.0,465.6 488.4,465.8 488.7,465.9 489.1,466.1 489.4,466.4 489.7,466.6 489.9,466.9 490.2,467.2 490.4,467.5 490.6,467.9 490.7,468.3 491.3,470.1 511.3,471.9 511.6,472.0 512.0,472.1 512.4,472.2 512.7,472.3 513.1,472.5 513.4,472.8 513.7,473.0 513.9,473.3 514.2,473.6 514.4,473.9 514.5,474.3 514.7,474.6 514.8,475.0 514.9,475.4 514.9,475.7 514.9,476.1 514.9,476.5 514.2,481.1 519.3,481.1 519.8,479.0 520.0,478.6 520.1,478.3 520.3,477.9 520.6,477.6 520.8,477.3 521.1,477.0 521.5,476.8 521.8,476.6 522.2,476.4 522.5,476.3 522.9,476.2 523.3,476.1 523.7,476.1 524.1,476.1 524.5,476.2 541.5,479.8 541.9,479.9 542.3,480.0 542.6,480.2 543.0,480.4 543.3,480.6 543.6,480.9 543.8,481.2 544.1,481.5 544.3,481.9 544.4,482.2 544.5,482.6 545.1,484.7 573.3,485.3 573.7,485.3 574.1,485.4 574.4,485.5 574.8,485.6 575.1,485.8 575.5,486.0 575.8,486.2 576.1,486.5 576.3,486.8 576.6,487.1 576.7,487.4 576.9,487.8 577.0,488.2 577.1,488.5 577.2,488.9 577.2,489.3 577.2,489.7 577.1,490.1 577.0,490.5 575.7,494.9 580.1,495.2 605.6,495.0 606.0,495.0 606.4,495.1 606.8,495.2 607.1,495.3 607.5,495.5 607.8,495.7 608.2,495.9 608.4,496.2 608.7,496.5 608.9,496.8 609.2,497.2 609.3,497.5 609.4,497.9 609.5,498.3 609.6,498.7 609.9,502.6 640.0,503.0 670.0,503.3 670.1,503.3 700.1,503.9 760.0,505.0 798.6,505.1 792.3,494.5 786.1,497.6 785.7,497.7 785.3,497.9 784.9,498.0 784.5,498.0 784.1,498.0 783.6,497.9 772.6,496.1 764.0,495.6 758.9,496.9 758.5,497.0 743.4,499.4 743.0,499.4 742.7,499.4 742.3,499.4 741.9,499.3 741.5,499.2 741.2,499.1 740.8,498.9 740.5,498.7 740.2,498.4 739.9,498.2 739.7,497.9 737.2,494.7 735.6,494.7 730.0,498.7 729.7,498.9 729.3,499.1 729.0,499.2 728.6,499.3 728.2,499.4 727.8,499.4 727.4,499.4 727.0,499.3 726.6,499.2 726.2,499.1 725.9,499.0 720.5,496.2 718.7,495.5 716.7,497.9 716.5,498.2 716.2,498.5 715.9,498.7 715.5,498.9 715.2,499.1 714.8,499.2 714.4,499.3 714.0,499.4 713.6,499.4 713.3,499.4 712.9,499.3 712.5,499.2 712.1,499.1 711.8,499.0 711.4,498.8 711.1,498.5 710.8,498.3 710.6,498.0 710.3,497.7 708.7,495.3 705.0,498.7 704.8,499.0 704.4,499.2 704.1,499.4 703.8,499.5 703.4,499.6 703.0,499.7 702.6,499.8 702.3,499.8 701.9,499.8 701.5,499.7 701.1,499.6 700.8,499.5 700.4,499.3 700.1,499.1 699.8,498.9 696.5,496.3 691.7,498.5 691.3,498.7 690.9,498.8 690.5,498.9 690.2,498.9 689.8,498.9 689.4,498.8 689.0,498.8 688.6,498.6 688.2,498.5 677.1,493.0 672.3,492.6 670.0,495.4 669.7,495.7 669.4,495.9 669.1,496.2 668.7,496.4 668.4,496.5 668.0,496.6 667.6,496.7 667.2,496.8 666.8,496.8 666.5,496.8 666.1,496.7 665.7,496.6 665.3,496.5 665.0,496.3 664.6,496.1 664.3,495.9 664.0,495.6 663.8,495.3 659.4,489.8 655.7,493.3 655.4,493.5 655.1,493.7 654.8,493.9 654.4,494.0 654.0,494.2 653.7,494.2 653.3,494.3 652.9,494.3 652.5,494.3 652.1,494.2 651.8,494.1 651.4,494.0 651.1,493.8 650.8,493.6 650.4,493.4 650.2,493.1 649.9,492.8 644.3,486.0 639.8,491.6 639.6,491.9 639.3,492.2 639.0,492.4 638.6,492.6 638.3,492.8 637.9,492.9 637.5,493.0 637.1,493.1 636.7,493.1 636.3,493.1 635.9,493.0 629.6,491.7 629.2,491.6 628.8,491.5 628.4,491.3 628.1,491.1 622.0,486.7 618.1,490.6 617.8,490.9 617.5,491.1 617.2,491.3 616.8,491.5 616.4,491.6 616.0,491.7 615.6,491.8 615.2,491.8 614.8,491.8 614.4,491.7 614.0,491.6 613.7,491.4 613.3,491.3 613.0,491.0 612.6,490.8 612.4,490.5 612.1,490.2 605.7,481.7 601.8,481.7 596.8,482.8 593.6,484.8 593.3,485.0 592.9,485.2 592.5,485.3 592.1,485.4 591.7,485.5 591.3,485.5 590.9,485.5 590.5,485.4 590.2,485.3 589.8,485.2 589.4,485.0 589.1,484.8 588.8,484.5 588.5,484.2 588.2,483.9 583.8,478.2 579.1,480.2 578.7,480.3 578.3,480.4 577.9,480.5 577.5,480.5 577.2,480.5 576.8,480.4 576.4,480.3 576.0,480.2 575.7,480.1 575.4,479.9 575.0,479.7 574.7,479.4 574.5,479.1 574.2,478.8 574.0,478.5 567.8,467.7 561.5,472.7 561.1,472.9 560.8,473.1 560.4,473.2 560.1,473.4 559.7,473.4 559.3,473.5 558.9,473.5 558.5,473.5 558.1,473.4 557.7,473.3 557.4,473.1 557.0,473.0 556.7,472.8 556.4,472.5 547.9,465.1 545.0,468.1 544.7,468.4 544.4,468.6 544.0,468.8 543.7,469.0 543.3,469.1 543.0,469.2 542.6,469.3 542.2,469.3 541.8,469.3 541.4,469.2 541.1,469.2 540.7,469.0 540.3,468.9 540.0,468.7 539.7,468.5 534.3,464.4 522.5,458.6 518.7,460.9 518.4,461.1 518.0,461.2 517.6,461.4 517.2,461.4 516.9,461.5 516.5,461.5 516.1,461.5 515.7,461.4 515.3,461.3 515.0,461.1 514.6,461.0 506.2,456.1 497.9,458.5 497.5,458.6 497.2,458.7 496.8,458.7 496.4,458.7 496.0,458.6 495.6,458.5 495.2,458.4 486.7,454.8 486.4,454.6 486.1,454.4 485.8,454.2 481.3,450.7 478.2,453.4 477.9,453.7 477.6,453.9 477.2,454.1 476.9,454.2 476.5,454.3 476.1,454.4 475.7,454.4 475.3,454.4 474.9,454.3 474.5,454.2 474.1,454.1 467.0,451.3 466.7,451.2 466.4,451.0 466.1,450.8 465.8,450.5 457.3,442.7 457.1,442.6 452.8,443.4 452.4,443.5 452.0,443.5 451.6,443.5 451.1,443.4 450.8,443.3 450.4,443.2 450.0,443.0 449.7,442.7 449.3,442.5 449.0,442.2 444.1,436.8 435.6,441.6 435.2,441.8 434.8,441.9 434.5,442.0 434.1,442.1 433.7,442.1 433.3,442.1 432.9,442.0 432.5,441.9 432.1,441.8 431.7,441.6 431.4,441.4 431.1,441.2 430.8,440.9 430.5,440.6 430.3,440.3 426.8,435.2 426.0,435.8 425.6,436.0 425.3,436.2 425.0,436.3 424.6,436.4 424.2,436.5 423.8,436.5 423.4,436.5 423.1,436.5 422.7,436.4 422.3,436.3 422.0,436.1 421.6,435.9 421.3,435.7 421.0,435.5 420.8,435.2 420.5,434.9 420.3,434.6 417.6,430.2 415.5,432.8 415.3,433.1 415.0,433.4 414.7,433.6 414.4,433.8 414.0,434.0 413.6,434.1 413.3,434.2 412.9,434.3 412.5,434.3 412.1,434.3 411.7,434.2 411.4,434.2 411.0,434.0 410.6,433.9 410.3,433.7 404.6,430.2 404.5,430.2 395.4,424.3 385.9,423.1 382.4,424.2 382.0,424.3 381.6,424.4 381.2,424.4 380.8,424.4 380.4,424.3 380.0,424.2 379.6,424.1 379.3,423.9 378.9,423.7 371.9,418.8 371.6,418.5 371.3,418.2 371.0,417.9 365.8,411.0 360.4,411.0 356.8,411.6 356.4,411.7 356.0,411.7 355.6,411.7 355.2,411.6 354.8,411.5 354.4,411.3 354.1,411.2 353.7,410.9 353.4,410.7 353.1,410.4 348.9,405.7 341.8,407.5 341.4,407.6 341.0,407.6 340.6,407.6 340.3,407.6 339.9,407.5 339.5,407.4 339.1,407.2 338.8,407.1 338.5,406.9 338.2,406.6 337.9,406.3 337.6,406.1 337.4,405.7 334.9,401.8 330.3,398.4 326.1,399.2 325.8,399.3 325.4,399.3 325.0,399.3 324.7,399.2 324.3,399.2 324.0,399.0 321.1,397.9 320.7,397.8 320.4,397.6 320.1,397.4 319.8,397.2 319.6,396.9 312.9,389.7 304.5,388.8 304.1,388.7 303.7,388.6 303.3,388.5 303.0,388.3 302.6,388.1 302.3,387.9 302.0,387.6 301.8,387.3 301.5,387.0 301.3,386.6 301.2,386.3 299.6,382.3 294.0,377.2 287.0,371.4 283.4,368.7 282.2,370.5 282.0,370.9 281.7,371.1 281.4,371.4 281.1,371.6 280.8,371.8 280.5,372.0 280.1,372.1 279.7,372.2 279.4,372.3 279.0,372.3 278.6,372.3 278.2,372.2 277.8,372.2 277.5,372.0 277.1,371.9 270.0,368.4 269.7,368.2 269.4,368.0 269.1,367.7 268.8,367.5 268.6,367.2 268.4,366.8 268.2,366.5 267.2,364.4 260.6,358.2 260.3,357.9 260.1,357.6 251.1,345.1 251.0,345.1 243.7,334.4 243.6,334.2 237.2,323.5 237.0,323.2 231.7,312.5 231.6,312.2 229.9,308.1 229.9,308.1 227.3,301.5 226.1,298.8 226.0,298.3 223.2,289.0 219.5,279.8 215.7,270.4 215.7,270.4 212.0,260.9 211.9,260.8 209.3,253.5 207.2,248.9 207.0,248.5 206.9,248.1 204.6,238.7 202.2,229.4 199.5,220.0 199.4,219.9 197.0,210.4 196.9,209.9 195.9,202.1 195.9,201.8 195.4,192.8 193.2,183.6 193.1,183.1 192.2,174.0 189.9,164.9 189.8,164.5 189.8,164.1 189.3,154.8 187.9,145.6 187.9,145.4 187.6,142.4 186.2,133.1 186.2,132.9 185.2,123.4 185.2,123.4 184.3,114.0 183.5,105.5"/>
<path fill="#0000ff" d="M177.2 62.8L184.9 75.4L169.5 75.4ZM176.9 60.6L184.6 73.2L169.2 73.2ZM175.9 61.4L183.6 74.0L168.2 74.0ZM176.0 63.5L183.7 76.1L168.3 76.1ZM178.5 63.0L186.2 75.6L170.8 75.6ZM178.7 65.8L186.4 78.4L171.0 78.4ZM178.1 67.8L185.8 80.4L170.4 80.4ZM180.5 70.0L188.2 82.6L172.8 82.6ZM180.4 72.8L188.1 85.4L172.7 85.4ZM180.2 75.9L187.9 88.5L172.5 88.5ZM179.3 79.8L187.0 92.4L171.6 92.4ZM176.7 74.7L184.4 87.3L169.0 87.3ZM176.3 78.4L184.0 91.0L168.6 91.0ZM181.3 90.1L189.0 102.7L173.6 102.7ZM179.5 92.6L187.2 105.2L171.8 105.2ZM178.6 96.6L186.3 109.2L170.9 109.2ZM180.2 100.9L187.9 113.5L172.5 113.5ZM181.6 98.9L189.3 111.5L173.9 111.5ZM181.7 100.5L189.4 113.1L174.0 113.1ZM182.3 103.8L190.0 116.4L174.6 116.4ZM181.4 107.1L189.1 119.7L173.7 119.7ZM183.2 114.4L190.9 127.0L175.5 127.0ZM182.6 115.9L190.3 128.5L174.9 128.5ZM184.3 118.8L192.0 131.4L176.6 131.4ZM183.3 121.0L191.0 133.6L175.6 133.6ZM184.6 124.3L192.3 136.9L176.9 136.9ZM185.1 128.0L192.8 140.6L177.4 140.6ZM185.9 133.4L193.6 146.0L178.2 146.0ZM185.7 136.4L193.4 149.0L178.0 149.0ZM187.2 139.6L194.9 152.2L179.5 152.2ZM186.7 142.2L194.4 154.8L179.0 154.8ZM187.5 145.2L195.2 157.8L179.8 157.8ZM187.1 146.5L194.8 159.1L179.4 159.1ZM189.5 156.4L197.2 169.0L181.8 169.0ZM190.2 168.6L197.9 181.2L182.5 181.2ZM191.2 173.9L198.9 186.5L183.5 186.5ZM192.0 178.3L199.7 190.9L184.3 190.9ZM191.7 180.4L199.4 193.0L184.0 193.0ZM193.6 182.8L201.3 195.4L185.9 195.4ZM193.5 189.3L201.2 201.9L185.8 201.9ZM195.3 198.6L203.0 211.2L187.6 211.2ZM196.1 201.7L203.8 214.3L188.4 214.3ZM195.9 208.3L203.6 220.9L188.2 220.9ZM198.4 209.6L206.1 222.2L190.7 222.2ZM199.7 214.4L207.4 227.0L192.0 227.0ZM199.3 218.1L207.0 230.7L191.6 230.7ZM199.8 221.0L207.5 233.6L192.1 233.6ZM201.9 224.5L209.6 237.1L194.2 237.1ZM203.0 226.3L210.7 238.9L195.3 238.9ZM201.7 229.9L209.4 242.5L194.0 242.5ZM204.3 235.6L212.0 248.2L196.6 248.2ZM206.6 237.8L214.3 250.4L198.9 250.4ZM205.5 241.3L213.2 253.9L197.8 253.9ZM207.9 243.7L215.6 256.3L200.2 256.3ZM207.6 246.8L215.3 259.4L199.9 259.4ZM207.7 248.5L215.4 261.1L200.0 261.1ZM209.4 252.6L217.1 265.2L201.7 265.2ZM210.4 254.1L218.1 266.7L202.7 266.7ZM212.1 258.3L219.8 270.9L204.4 270.9ZM213.5 259.9L221.2 272.5L205.8 272.5ZM213.9 262.3L221.6 274.9L206.2 274.9ZM213.0 265.5L220.7 278.1L205.3 278.1ZM214.6 268.6L222.3 281.2L206.9 281.2ZM216.9 272.6L224.6 285.2L209.2 285.2ZM217.3 274.9L225.0 287.5L209.6 287.5ZM217.6 277.1L225.3 289.7L209.9 289.7ZM218.6 280.1L226.3 292.7L210.9 292.7ZM219.4 282.1L227.1 294.7L211.7 294.7ZM221.5 284.7L229.2 297.3L213.8 297.3ZM220.4 285.5L228.1 298.1L212.7 298.1ZM224.7 288.7L232.4 301.3L217.0 301.3ZM225.2 295.6L232.9 308.2L217.5 308.2ZM225.2 296.4L232.9 309.0L217.5 309.0ZM225.8 296.0L233.5 308.6L218.1 308.6ZM227.3 300.3L235.0 312.9L219.6 312.9ZM229.2 303.5L236.9 316.1L221.5 316.1ZM230.2 305.5L237.9 318.1L222.5 318.1ZM231.6 309.5L239.3 322.1L223.9 322.1ZM232.7 310.6L240.4 323.2L225.0 323.2ZM234.4 312.4L242.1 325.0L226.7 325.0ZM237.5 314.1L245.2 326.7L229.8 326.7ZM238.5 317.6L246.2 330.2L230.8 330.2ZM239.2 320.4L246.9 333.0L231.5 333.0ZM242.2 323.6L249.9 336.2L234.5 336.2ZM242.1 326.3L249.8 338.9L234.4 338.9ZM245.1 329.3L252.8 341.9L237.4 341.9ZM244.7 330.8L252.4 343.4L237.0 343.4ZM246.2 333.5L253.9 346.1L238.5 346.1ZM248.6 335.3L256.3 347.9L240.9 347.9ZM250.3 338.4L258.0 351.0L242.6 351.0ZM251.3 340.9L259.0 353.5L243.6 353.5ZM253.1 343.8L260.8 356.4L245.4 356.4ZM254.6 345.9L262.3 358.5L246.9 358.5ZM255.5 348.2L263.2 360.8L247.8 360.8ZM258.0 349.8L265.7 362.4L250.3 362.4ZM258.7 353.0L266.4 365.6L251.0 365.6ZM261.4 356.0L269.1 368.6L253.7 368.6ZM263.9 358.0L271.6 370.6L256.2 370.6ZM265.4 358.3L273.1 370.9L257.7 370.9ZM266.4 362.3L274.1 374.9L258.7 374.9ZM268.2 362.8L275.9 375.4L260.5 375.4ZM270.9 366.1L278.6 378.7L263.2 378.7ZM271.3 367.6L279.0 380.2L263.6 380.2ZM272.9 369.5L280.6 382.1L265.2 382.1ZM275.1 370.9L282.8 383.5L267.4 383.5ZM277.5 372.8L285.2 385.4L269.8 385.4ZM280.0 375.6L287.7 388.2L272.3 388.2ZM284.1 379.4L291.8 392.0L276.4 392.0ZM283.4 389.4L291.1 402.0L275.7 402.0ZM284.4 390.9L292.1 403.5L276.7 403.5ZM283.5 385.1L291.2 397.7L275.8 397.7ZM282.6 385.3L290.3 397.9L274.9 397.9ZM284.3 388.3L292.0 400.9L276.6 400.9ZM288.8 388.3L296.5 400.9L281.1 400.9ZM290.5 389.0L298.2 401.6L282.8 401.6ZM292.6 392.2L300.3 404.8L284.9 404.8ZM296.1 394.8L303.8 407.4L288.4 407.4ZM299.6 395.8L307.3 408.4L291.9 408.4ZM301.1 399.1L308.8 411.7L293.4 411.7ZM302.9 400.4L310.6 413.0L295.2 413.0ZM306.6 402.1L314.3 414.7L298.9 414.7ZM308.1 402.9L315.8 415.5L300.4 415.5ZM310.5 405.7L318.2 418.3L302.8 418.3ZM310.5 406.1L318.2 418.7L302.8 418.7ZM313.6 407.7L321.3 420.3L305.9 420.3ZM316.1 408.8L323.8 421.4L308.4 421.4ZM316.8 410.6L324.5 423.2L309.1 423.2ZM318.9 410.8L326.6 423.4L311.2 423.4ZM322.4 411.7L330.1 424.3L314.7 424.3ZM325.8 411.4L333.5 424.0L318.1 424.0ZM328.8 410.9L336.5 423.5L321.1 423.5ZM332.7 411.0L340.4 423.6L325.0 423.6ZM334.6 412.2L342.3 424.8L326.9 424.8ZM340.0 411.2L347.7 423.8L332.3 423.8ZM343.4 414.3L351.1 426.9L335.7 426.9ZM343.8 415.1L351.5 427.7L336.1 427.7ZM345.8 416.2L353.5 428.8L338.1 428.8ZM348.7 416.6L356.4 429.2L341.0 429.2ZM352.1 416.0L359.8 428.6L344.4 428.6ZM356.2 415.9L363.9 428.5L348.5 428.5ZM359.5 417.6L367.2 430.2L351.8 430.2ZM365.1 420.3L372.8 432.9L357.4 432.9ZM364.9 418.6L372.6 431.2L357.2 431.2ZM365.5 422.1L373.2 434.7L357.8 434.7ZM370.5 421.5L378.2 434.1L362.8 434.1ZM377.2 424.3L384.9 436.9L369.5 436.9ZM378.6 426.4L386.3 439.0L370.9 439.0ZM375.1 425.3L382.8 437.9L367.4 437.9ZM378.8 426.2L386.5 438.8L371.1 438.8ZM381.6 427.7L389.3 440.3L373.9 440.3ZM383.6 425.8L391.3 438.4L375.9 438.4ZM387.1 427.0L394.8 439.6L379.4 439.6ZM390.0 427.6L397.7 440.2L382.3 440.2ZM394.9 426.8L402.6 439.4L387.2 439.4ZM397.1 427.9L404.8 440.5L389.4 440.5ZM399.1 429.4L406.8 442.0L391.4 442.0ZM403.3 427.7L411.0 440.3L395.6 440.3ZM405.2 430.7L412.9 443.3L397.5 443.3ZM408.5 430.2L416.2 442.8L400.8 442.8ZM418.4 434.7L426.1 447.3L410.7 447.3ZM418.6 442.4L426.3 455.0L410.9 455.0ZM419.9 444.9L427.6 457.5L412.2 457.5ZM415.2 439.0L422.9 451.6L407.5 451.6ZM413.1 433.3L420.8 445.9L405.4 445.9ZM415.3 440.4L423.0 453.0L407.6 453.0ZM419.1 442.4L426.8 455.0L411.4 455.0ZM422.0 441.5L429.7 454.1L414.3 454.1ZM425.0 442.4L432.7 455.0L417.3 455.0ZM434.7 443.8L442.4 456.4L427.0 456.4ZM437.0 451.7L444.7 464.3L429.3 464.3ZM433.4 447.2L441.1 459.8L425.7 459.8ZM433.5 448.2L441.2 460.8L425.8 460.8ZM436.3 449.2L444.0 461.8L428.6 461.8ZM439.0 450.3L446.7 462.9L431.3 462.9ZM441.7 451.6L449.4 464.2L434.0 464.2ZM443.7 450.7L451.4 463.3L436.0 463.3ZM446.7 451.4L454.4 464.0L439.0 464.0ZM450.1 452.7L457.8 465.3L442.4 465.3ZM453.1 452.9L460.8 465.5L445.4 465.5ZM455.6 450.9L463.3 463.5L447.9 463.5ZM461.2 451.6L468.9 464.2L453.5 464.2ZM461.7 453.1L469.4 465.7L454.0 465.7ZM464.5 452.2L472.2 464.8L456.8 464.8ZM467.2 454.5L474.9 467.1L459.5 467.1ZM471.0 453.5L478.7 466.1L463.3 466.1ZM473.9 454.3L481.6 466.9L466.2 466.9ZM477.6 454.6L485.3 467.2L469.9 467.2ZM480.5 455.1L488.2 467.7L472.8 467.7ZM482.6 455.3L490.3 467.9L474.9 467.9ZM486.4 454.1L494.1 466.7L478.7 466.7ZM496.3 457.7L504.0 470.3L488.6 470.3ZM494.8 458.9L502.5 471.5L487.1 471.5ZM492.2 457.9L499.9 470.5L484.5 470.5ZM495.0 460.5L502.7 473.1L487.3 473.1ZM497.2 461.3L504.9 473.9L489.5 473.9ZM501.5 459.6L509.2 472.2L493.8 472.2ZM503.6 459.0L511.3 471.6L495.9 471.6ZM507.3 462.1L515.0 474.7L499.6 474.7ZM510.4 461.5L518.1 474.1L502.7 474.1ZM519.9 468.0L527.6 480.6L512.2 480.6ZM515.5 470.8L523.2 483.4L507.8 483.4ZM512.5 462.2L520.2 474.8L504.8 474.8ZM515.9 471.5L523.6 484.1L508.2 484.1ZM519.3 469.8L527.0 482.4L511.6 482.4ZM518.8 469.2L526.5 481.8L511.1 481.8ZM526.8 465.5L534.5 478.1L519.1 478.1ZM528.7 466.7L536.4 479.3L521.0 479.3ZM533.0 465.8L540.7 478.4L525.3 478.4ZM535.3 466.2L543.0 478.8L527.6 478.8ZM537.5 467.6L545.2 480.2L529.8 480.2ZM543.0 469.0L550.7 481.6L535.3 481.6ZM550.1 476.3L557.8 488.9L542.4 488.9ZM550.4 473.2L558.1 485.8L542.7 485.8ZM544.8 472.0L552.5 484.6L537.1 484.6ZM546.7 471.9L554.4 484.5L539.0 484.5ZM550.2 475.2L557.9 487.8L542.5 487.8ZM552.7 473.4L560.4 486.0L545.0 486.0ZM556.5 474.9L564.2 487.5L548.8 487.5ZM560.1 473.7L567.8 486.3L552.4 486.3ZM562.6 475.1L570.3 487.7L554.9 487.7ZM566.1 475.7L573.8 488.3L558.4 488.3ZM569.2 476.4L576.9 489.0L561.5 489.0ZM572.3 475.1L580.0 487.7L564.6 487.7ZM581.6 486.3L589.3 498.9L573.9 498.9ZM577.0 482.5L584.7 495.1L569.3 495.1ZM575.2 478.2L582.9 490.8L567.5 490.8ZM577.7 485.2L585.4 497.8L570.0 497.8ZM579.8 486.1L587.5 498.7L572.1 498.7ZM582.1 486.5L589.8 499.1L574.4 499.1ZM586.7 486.3L594.4 498.9L579.0 498.9ZM589.0 486.3L596.7 498.9L581.3 498.9ZM592.6 485.3L600.3 497.9L584.9 497.9ZM594.2 484.2L601.9 496.8L586.5 496.8ZM598.4 483.5L606.1 496.1L590.7 496.1ZM600.3 485.6L608.0 498.2L592.6 498.2ZM604.2 485.9L611.9 498.5L596.5 498.5ZM615.8 492.8L623.5 505.4L608.1 505.4ZM621.3 496.2L629.0 508.8L613.6 508.8ZM612.9 492.5L620.6 505.1L605.2 505.1ZM609.4 488.1L617.1 500.7L601.7 500.7ZM611.4 489.0L619.1 501.6L603.7 501.6ZM615.1 493.4L622.8 506.0L607.4 506.0ZM617.2 493.0L624.9 505.6L609.5 505.6ZM620.8 493.5L628.5 506.1L613.1 506.1ZM624.0 492.9L631.7 505.5L616.3 505.5ZM627.0 491.2L634.7 503.8L619.3 503.8ZM630.6 493.7L638.3 506.3L622.9 506.3ZM633.6 493.7L641.3 506.3L625.9 506.3ZM636.7 494.2L644.4 506.8L629.0 506.8ZM638.6 491.6L646.3 504.2L630.9 504.2ZM642.2 492.6L649.9 505.2L634.5 505.2ZM644.4 494.2L652.1 506.8L636.7 506.8ZM648.7 494.4L656.4 507.0L641.0 507.0ZM650.3 493.6L658.0 506.2L642.6 506.2ZM654.5 492.8L662.2 505.4L646.8 505.4ZM657.8 492.4L665.5 505.0L650.1 505.0ZM659.8 491.9L667.5 504.5L652.1 504.5ZM662.6 494.5L670.3 507.1L654.9 507.1ZM666.7 492.1L674.4 504.7L659.0 504.7ZM669.2 493.6L676.9 506.2L661.5 506.2ZM671.4 494.3L679.1 506.9L663.7 506.9ZM674.2 494.5L681.9 507.1L666.5 507.1ZM678.0 492.2L685.7 504.8L670.3 504.8ZM681.7 493.7L689.4 506.3L674.0 506.3ZM684.3 493.9L692.0 506.5L676.6 506.5ZM687.5 493.1L695.2 505.7L679.8 505.7ZM690.9 492.6L698.6 505.2L683.2 505.2ZM693.3 493.7L701.0 506.3L685.6 506.3ZM695.4 494.1L703.1 506.7L687.7 506.7ZM698.9 494.9L706.6 507.5L691.2 507.5ZM701.4 494.4L709.1 507.0L693.7 507.0ZM704.4 493.8L712.1 506.4L696.7 506.4ZM707.7 492.4L715.4 505.0L700.0 505.0ZM711.3 494.3L719.0 506.9L703.6 506.9ZM713.8 494.7L721.5 507.3L706.1 507.3ZM716.4 492.6L724.1 505.2L708.7 505.2ZM720.7 494.0L728.4 506.6L713.0 506.6ZM723.2 495.4L730.9 508.0L715.5 508.0ZM726.0 495.4L733.7 508.0L718.3 508.0ZM728.6 494.3L736.3 506.9L720.9 506.9ZM731.3 495.4L739.0 508.0L723.6 508.0ZM735.4 494.8L743.1 507.4L727.7 507.4ZM738.6 495.7L746.3 508.3L730.9 508.3ZM740.2 493.2L747.9 505.8L732.5 505.8ZM744.2 494.2L751.9 506.8L736.5 506.8ZM747.0 495.8L754.7 508.4L739.3 508.4ZM750.8 495.0L758.5 507.6L743.1 507.6ZM753.7 496.0L761.4 508.6L746.0 508.6ZM755.5 495.0L763.2 507.6L747.8 507.6ZM758.5 493.8L766.2 506.4L750.8 506.4ZM761.4 496.3L769.1 508.9L753.7 508.9ZM764.2 496.0L771.9 508.6L756.5 508.6ZM768.6 493.9L776.3 506.5L760.9 506.5ZM771.1 495.6L778.8 508.2L763.4 508.2ZM773.0 494.1L780.7 506.7L765.3 506.7ZM776.1 496.2L783.8 508.8L768.4 508.8ZM779.7 494.0L787.4 506.6L772.0 506.6ZM782.2 496.4L789.9 509.0L774.5 509.0ZM786.5 496.4L794.2 509.0L778.8 509.0ZM789.2 496.3L796.9 508.9L781.5 508.9ZM791.5 496.2L799.2 508.8L783.8 508.8ZM794.7 493.8L802.4 506.4L787.0 506.4ZM798.4 495.3L806.1 507.9L790.7 507.9ZM800.1 496.3L807.8 508.9L792.4 508.9ZM795.5 497.4L803.2 510.0L787.8 510.0ZM794.6 494.5L802.3 507.1L786.9 507.1ZM793.4 492.0L801.1 504.6L785.7 504.6ZM792.0 489.2L799.7 501.8L784.3 501.8ZM789.8 489.8L797.5 502.4L782.1 502.4ZM795.9 491.4L803.6 504.0L788.2 504.0ZM793.2 492.6L800.9 505.2L785.5 505.2ZM789.8 494.6L797.5 507.2L782.1 507.2ZM785.9 494.0L793.6 506.6L778.2 506.6ZM779.1 495.7L786.8 508.3L771.4 508.3ZM777.0 494.8L784.7 507.4L769.3 507.4ZM774.0 492.3L781.7 504.9L766.3 504.9ZM772.1 492.0L779.8 504.6L764.4 504.6ZM769.1 494.6L776.8 507.2L761.4 507.2ZM765.3 494.1L773.0 506.7L757.6 506.7ZM763.8 492.3L771.5 504.9L756.1 504.9ZM761.6 493.7L769.3 506.3L753.9 506.3ZM758.0 493.1L765.7 505.7L750.3 505.7ZM754.6 493.7L762.3 506.3L746.9 506.3ZM752.6 495.6L760.3 508.2L744.9 508.2ZM749.2 496.7L756.9 509.3L741.5 509.3ZM746.8 495.3L754.5 507.9L739.1 507.9ZM739.2 492.3L746.9 504.9L731.5 504.9ZM736.8 488.6L744.5 501.2L729.1 501.2ZM736.5 490.3L744.2 502.9L728.8 502.9ZM735.9 490.9L743.6 503.5L728.2 503.5ZM736.2 489.8L743.9 502.4L728.5 502.4ZM734.9 492.1L742.6 504.7L727.2 504.7ZM726.8 495.2L734.5 507.8L719.1 507.8ZM722.7 493.5L730.4 506.1L715.0 506.1ZM720.3 492.3L728.0 504.9L712.6 504.9ZM718.3 491.9L726.0 504.5L710.6 504.5ZM718.5 490.7L726.2 503.3L710.8 503.3ZM721.0 490.5L728.7 503.1L713.3 503.1ZM709.4 496.3L717.1 508.9L701.7 508.9ZM707.0 489.2L714.7 501.8L699.3 501.8ZM711.8 489.2L719.5 501.8L704.1 501.8ZM708.9 489.8L716.6 502.4L701.2 502.4ZM707.4 492.7L715.1 505.3L699.7 505.3ZM701.6 495.9L709.3 508.5L693.9 508.5ZM694.6 491.4L702.3 504.0L686.9 504.0ZM695.6 491.4L703.3 504.0L687.9 504.0ZM696.4 492.6L704.1 505.2L688.7 505.2ZM693.9 493.2L701.6 505.8L686.2 505.8ZM687.3 495.0L695.0 507.6L679.6 507.6ZM683.5 492.0L691.2 504.6L675.8 504.6ZM681.0 491.5L688.7 504.1L673.3 504.1ZM678.7 489.4L686.4 502.0L671.0 502.0ZM676.5 488.7L684.2 501.3L668.8 501.3ZM673.7 490.7L681.4 503.3L666.0 503.3ZM672.2 491.2L679.9 503.8L664.5 503.8ZM673.6 486.9L681.3 499.5L665.9 499.5ZM670.9 488.8L678.6 501.4L663.2 501.4ZM662.2 487.0L669.9 499.6L654.5 499.6ZM658.9 485.5L666.6 498.1L651.2 498.1ZM652.1 487.1L659.8 499.7L644.4 499.7ZM661.3 486.8L669.0 499.4L653.6 499.4ZM661.6 484.3L669.3 496.9L653.9 496.9ZM659.3 485.9L667.0 498.5L651.6 498.5ZM652.7 491.6L660.4 504.2L645.0 504.2ZM647.8 485.2L655.5 497.8L640.1 497.8ZM645.3 483.1L653.0 495.7L637.6 495.7ZM642.5 480.8L650.2 493.4L634.8 493.4ZM644.2 480.6L651.9 493.2L636.5 493.2ZM646.5 479.6L654.2 492.2L638.8 492.2ZM643.9 480.3L651.6 492.9L636.2 492.9ZM642.9 483.6L650.6 496.2L635.2 496.2ZM639.8 488.9L647.5 501.5L632.1 501.5ZM631.3 488.8L639.0 501.4L623.6 501.4ZM628.5 488.5L636.2 501.1L620.8 501.1ZM624.7 484.8L632.4 497.4L617.0 497.4ZM622.1 483.9L629.8 496.5L614.4 496.5ZM618.7 483.0L626.4 495.6L611.0 495.6ZM624.8 481.4L632.5 494.0L617.1 494.0ZM623.4 483.9L631.1 496.5L615.7 496.5ZM622.2 484.7L629.9 497.3L614.5 497.3ZM611.5 488.8L619.2 501.4L603.8 501.4ZM609.1 480.2L616.8 492.8L601.4 492.8ZM606.7 478.5L614.4 491.1L599.0 491.1ZM605.0 476.6L612.7 489.2L597.3 489.2ZM604.9 478.7L612.6 491.3L597.2 491.3ZM603.8 477.7L611.5 490.3L596.1 490.3ZM602.0 479.4L609.7 492.0L594.3 492.0ZM599.1 479.4L606.8 492.0L591.4 492.0ZM597.5 478.2L605.2 490.8L589.8 490.8ZM597.5 480.5L605.2 493.1L589.8 493.1ZM587.0 481.7L594.7 494.3L579.3 494.3ZM585.5 475.0L593.2 487.6L577.8 487.6ZM583.7 471.5L591.4 484.1L576.0 484.1ZM582.8 474.9L590.5 487.5L575.1 487.5ZM584.8 473.7L592.5 486.3L577.1 486.3ZM583.6 476.9L591.3 489.5L575.9 489.5ZM574.7 477.1L582.4 489.7L567.0 489.7ZM572.0 468.7L579.7 481.3L564.3 481.3ZM569.5 466.8L577.2 479.4L561.8 479.4ZM569.5 464.1L577.2 476.7L561.8 476.7ZM567.4 460.3L575.1 472.9L559.7 472.9ZM571.8 462.6L579.5 475.2L564.1 475.2ZM568.9 463.7L576.6 476.3L561.2 476.3ZM566.0 464.2L573.7 476.8L558.3 476.8ZM564.0 466.7L571.7 479.3L556.3 479.3ZM554.3 466.3L562.0 478.9L546.6 478.9ZM552.9 465.1L560.6 477.7L545.2 477.7ZM549.4 462.5L557.1 475.1L541.7 475.1ZM548.1 460.0L555.8 472.6L540.4 472.6ZM546.2 458.8L553.9 471.4L538.5 471.4ZM550.8 459.7L558.5 472.3L543.1 472.3ZM547.9 460.2L555.6 472.8L540.2 472.8ZM546.8 461.0L554.5 473.6L539.1 473.6ZM536.6 462.9L544.3 475.5L528.9 475.5ZM534.6 459.7L542.3 472.3L526.9 472.3ZM531.3 461.1L539.0 473.7L523.6 473.7ZM529.7 459.4L537.4 472.0L522.0 472.0ZM528.0 457.0L535.7 469.6L520.3 469.6ZM524.6 458.3L532.3 470.9L516.9 470.9ZM521.3 454.5L529.0 467.1L513.6 467.1ZM523.2 455.0L530.9 467.6L515.5 467.6ZM522.2 454.2L529.9 466.8L514.5 466.8ZM517.0 457.7L524.7 470.3L509.3 470.3ZM510.9 455.9L518.6 468.5L503.2 468.5ZM507.9 454.1L515.6 466.7L500.2 466.7ZM505.9 453.9L513.6 466.5L498.2 466.5ZM505.6 453.0L513.3 465.6L497.9 465.6ZM505.8 455.1L513.5 467.7L498.1 467.7ZM503.5 453.7L511.2 466.3L495.8 466.3ZM500.7 456.0L508.4 468.6L493.0 468.6ZM492.1 455.5L499.8 468.1L484.4 468.1ZM489.4 452.4L497.1 465.0L481.7 465.0ZM486.1 451.9L493.8 464.5L478.4 464.5ZM484.4 449.0L492.1 461.6L476.7 461.6ZM480.8 448.1L488.5 460.7L473.1 460.7ZM479.2 444.6L486.9 457.2L471.5 457.2ZM484.9 446.2L492.6 458.8L477.2 458.8ZM482.6 446.6L490.3 459.2L474.9 459.2ZM478.8 451.3L486.5 463.9L471.1 463.9ZM469.5 450.2L477.2 462.8L461.8 462.8ZM467.7 447.4L475.4 460.0L460.0 460.0ZM463.8 443.4L471.5 456.0L456.1 456.0ZM460.1 443.7L467.8 456.3L452.4 456.3ZM459.6 440.8L467.3 453.4L451.9 453.4ZM456.4 438.2L464.1 450.8L448.7 450.8ZM455.8 436.9L463.5 449.5L448.1 449.5ZM457.1 440.3L464.8 452.9L449.4 452.9ZM455.4 440.5L463.1 453.1L447.7 453.1ZM446.2 435.3L453.9 447.9L438.5 447.9ZM444.9 432.3L452.6 444.9L437.2 444.9ZM442.1 432.2L449.8 444.8L434.4 444.8ZM443.3 431.5L451.0 444.1L435.6 444.1ZM446.6 433.6L454.3 446.2L438.9 446.2ZM441.8 433.7L449.5 446.3L434.1 446.3ZM439.4 435.1L447.1 447.7L431.7 447.7ZM434.8 437.7L442.5 450.3L427.1 450.3ZM427.8 432.9L435.5 445.5L420.1 445.5ZM426.5 430.3L434.2 442.9L418.8 442.9ZM423.2 429.7L430.9 442.3L415.5 442.3ZM430.0 429.0L437.7 441.6L422.3 441.6ZM426.2 433.0L433.9 445.6L418.5 445.6ZM418.0 426.9L425.7 439.5L410.3 439.5ZM416.6 425.3L424.3 437.9L408.9 437.9ZM419.9 423.8L427.6 436.4L412.2 436.4ZM419.5 422.3L427.2 434.9L411.8 434.9ZM417.7 424.4L425.4 437.0L410.0 437.0ZM409.8 430.9L417.5 443.5L402.1 443.5ZM406.2 427.8L413.9 440.4L398.5 440.4ZM404.3 425.6L412.0 438.2L396.6 438.2ZM401.1 424.3L408.8 436.9L393.4 436.9ZM398.9 423.1L406.6 435.7L391.2 435.7ZM396.5 422.1L404.2 434.7L388.8 434.7ZM394.5 420.3L402.2 432.9L386.8 432.9ZM393.7 422.9L401.4 435.5L386.0 435.5ZM390.2 420.1L397.9 432.7L382.5 432.7ZM388.1 420.6L395.8 433.2L380.4 433.2ZM386.3 421.6L394.0 434.2L378.6 434.2ZM383.1 420.4L390.8 433.0L375.4 433.0ZM377.0 417.5L384.7 430.1L369.3 430.1ZM374.1 417.0L381.8 429.6L366.4 429.6ZM370.6 413.3L378.3 425.9L362.9 425.9ZM369.1 409.3L376.8 421.9L361.4 421.9ZM366.7 409.3L374.4 421.9L359.0 421.9ZM366.1 405.4L373.8 418.0L358.4 418.0ZM365.0 407.7L372.7 420.3L357.3 420.3ZM364.8 407.1L372.5 419.7L357.1 419.7ZM361.3 408.6L369.0 421.2L353.6 421.2ZM359.4 407.3L367.1 419.9L351.7 419.9ZM351.4 404.0L359.1 416.6L343.7 416.6ZM348.6 403.1L356.3 415.7L340.9 415.7ZM348.1 400.5L355.8 413.1L340.4 413.1ZM349.6 402.9L357.3 415.5L341.9 415.5ZM348.4 402.0L356.1 414.6L340.7 414.6ZM345.8 403.6L353.5 416.2L338.1 416.2ZM338.1 405.5L345.8 418.1L330.4 418.1ZM334.3 396.8L342.0 409.4L326.6 409.4ZM332.7 397.4L340.4 410.0L325.0 410.0ZM330.5 396.2L338.2 408.8L322.8 408.8ZM329.5 393.8L337.2 406.4L321.8 406.4ZM330.8 396.9L338.5 409.5L323.1 409.5ZM328.1 395.4L335.8 408.0L320.4 408.0ZM322.6 397.1L330.3 409.7L314.9 409.7ZM318.7 390.5L326.4 403.1L311.0 403.1ZM316.0 388.8L323.7 401.4L308.3 401.4ZM312.1 386.8L319.8 399.4L304.4 399.4ZM312.2 384.4L319.9 397.0L304.5 397.0ZM310.9 387.9L318.6 400.5L303.2 400.5ZM308.1 387.7L315.8 400.3L300.4 400.3ZM304.2 386.3L311.9 398.9L296.5 398.9ZM299.7 378.7L307.4 391.3L292.0 391.3ZM300.1 375.7L307.8 388.3L292.4 388.3ZM297.5 376.8L305.2 389.4L289.8 389.4ZM295.7 374.2L303.4 386.8L288.0 386.8ZM293.5 372.2L301.2 384.8L285.8 384.8ZM291.4 369.9L299.1 382.5L283.7 382.5ZM288.5 369.5L296.2 382.1L280.8 382.1ZM287.1 366.3L294.8 378.9L279.4 378.9ZM283.1 366.8L290.8 379.4L275.4 379.4ZM281.1 364.3L288.8 376.9L273.4 376.9ZM280.3 365.6L288.0 378.2L272.6 378.2ZM283.7 367.1L291.4 379.7L276.0 379.7ZM273.5 368.7L281.2 381.3L265.8 381.3ZM270.0 366.7L277.7 379.3L262.3 379.3ZM268.0 359.9L275.7 372.5L260.3 372.5ZM265.6 359.3L273.3 371.9L257.9 371.9ZM263.8 357.6L271.5 370.2L256.1 370.2ZM262.8 354.9L270.5 367.5L255.1 367.5ZM260.6 352.5L268.3 365.1L252.9 365.1ZM258.7 349.5L266.4 362.1L251.0 362.1ZM257.0 346.9L264.7 359.5L249.3 359.5ZM254.0 345.9L261.7 358.5L246.3 358.5ZM253.6 342.0L261.3 354.6L245.9 354.6ZM251.5 338.9L259.2 351.5L243.8 351.5ZM248.9 338.2L256.6 350.8L241.2 350.8ZM247.3 335.3L255.0 347.9L239.6 347.9ZM246.5 331.5L254.2 344.1L238.8 344.1ZM245.0 329.8L252.7 342.4L237.3 342.4ZM242.9 327.1L250.6 339.7L235.2 339.7ZM240.2 325.1L247.9 337.7L232.5 337.7ZM239.9 322.1L247.6 334.7L232.2 334.7ZM238.8 319.1L246.5 331.7L231.1 331.7ZM235.9 316.2L243.6 328.8L228.2 328.8ZM233.3 314.9L241.0 327.5L225.6 327.5ZM231.1 312.0L238.8 324.6L223.4 324.6ZM231.5 308.7L239.2 321.3L223.8 321.3ZM229.2 306.8L236.9 319.4L221.5 319.4ZM229.5 302.8L237.2 315.4L221.8 315.4ZM226.8 300.7L234.5 313.3L219.1 313.3ZM225.2 298.5L232.9 311.1L217.5 311.1ZM223.9 295.2L231.6 307.8L216.2 307.8ZM223.1 292.6L230.8 305.2L215.4 305.2ZM222.7 288.8L230.4 301.4L215.0 301.4ZM222.5 286.3L230.2 298.9L214.8 298.9ZM221.7 282.8L229.4 295.4L214.0 295.4ZM221.2 280.8L228.9 293.4L213.5 293.4ZM219.3 278.0L227.0 290.6L211.6 290.6ZM218.9 274.3L226.6 286.9L211.2 286.9ZM216.1 273.2L223.8 285.8L208.4 285.8ZM216.7 268.8L224.4 281.4L209.0 281.4ZM213.1 267.7L220.8 280.3L205.4 280.3ZM213.8 263.1L221.5 275.7L206.1 275.7ZM212.8 260.7L220.5 273.3L205.1 273.3ZM210.3 259.8L218.0 272.4L202.6 272.4ZM208.8 257.0L216.5 269.6L201.1 269.6ZM207.9 253.4L215.6 266.0L200.2 266.0ZM206.7 250.6L214.4 263.2L199.0 263.2ZM208.3 246.6L216.0 259.2L200.6 259.2ZM207.7 245.1L215.4 257.7L200.0 257.7ZM204.5 240.9L212.2 253.5L196.8 253.5ZM203.4 239.0L211.1 251.6L195.7 251.6ZM202.9 236.1L210.6 248.7L195.2 248.7ZM202.2 232.2L209.9 244.8L194.5 244.8ZM201.4 229.0L209.1 241.6L193.7 241.6ZM200.5 226.9L208.2 239.5L192.8 239.5ZM200.5 223.1L208.2 235.7L192.8 235.7ZM199.7 220.3L207.4 232.9L192.0 232.9ZM197.6 217.5L205.3 230.1L189.9 230.1ZM196.9 214.9L204.6 227.5L189.2 227.5ZM195.3 212.2L203.0 224.8L187.6 224.8ZM196.2 209.8L203.9 222.4L188.5 222.4ZM194.9 205.5L202.6 218.1L187.2 218.1ZM194.2 203.3L201.9 215.9L186.5 215.9ZM191.9 190.3L199.6 202.9L184.2 202.9ZM191.2 187.8L198.9 200.4L183.5 200.4ZM192.6 185.0L200.3 197.6L184.9 197.6ZM191.7 180.0L199.4 192.6L184.0 192.6ZM188.6 173.6L196.3 186.2L180.9 186.2ZM188.8 169.4L196.5 182.0L181.1 182.0ZM189.8 167.8L197.5 180.4L182.1 180.4ZM188.2 165.8L195.9 178.4L180.5 178.4ZM186.8 158.7L194.5 171.3L179.1 171.3ZM184.5 145.9L192.2 158.5L176.8 158.5ZM184.4 144.1L192.1 156.7L176.7 156.7ZM185.4 141.3L193.1 153.9L177.7 153.9ZM183.0 137.1L190.7 149.7L175.3 149.7ZM183.4 134.6L191.1 147.2L175.7 147.2ZM182.5 125.1L190.2 137.7L174.8 137.7ZM182.1 122.0L189.8 134.6L174.4 134.6ZM180.5 115.8L188.2 128.4L172.8 128.4ZM181.7 114.1L189.4 126.7L174.0 126.7ZM180.9 110.0L188.6 122.6L173.2 122.6ZM180.0 108.3L187.7 120.9L172.3 120.9ZM179.1 104.9L186.8 117.5L171.4 117.5ZM179.6 102.2L187.3 114.8L171.9 114.8ZM181.7 99.8L189.4 112.4L174.0 112.4ZM182.4 97.7L190.1 110.3L174.7 110.3ZM181.6 95.3L189.3 107.9L173.9 107.9ZM178.9 93.0L186.6 105.6L171.2 105.6ZM177.7 77.6L185.4 90.2L170.0 90.2ZM181.2 80.8L188.9 93.4L173.5 93.4ZM178.3 76.0L186.0 88.6L170.6 88.6ZM178.8 73.6L186.5 86.2L171.1 86.2ZM175.8 70.3L183.5 82.9L168.1 82.9ZM177.4 68.0L185.1 80.6L169.7 80.6ZM177.4 65.8L185.1 78.4L169.7 78.4ZM177.4 62.7L185.1 75.3L169.7 75.3ZM178.6 60.9L186.3 73.5L170.9 73.5Z"/>
<polygon fill="#0000ff" points="176.6,48.0 168.2,61.4 185.0,61.4"/>
<polygon fill="#0000ff" points="177.6,60.9 169.9,73.5 185.3,73.5"/>
<polygon fill="#0000ff" points="179.4,468.3 171.7,480.7 187.2,480.7"/>
<polygon fill="#0000ff" points="253.6,485.4 245.8,497.5 261.4,497.5"/>
<line x1="148.15" y1="443.2" x2="850.5" y2="443.2" stroke="#ff0000" stroke-width="4.3" stroke-dasharray="14.1 4.85"/>
<line x1="149.50" y1="25.15" x2="149.50" y2="521.25" stroke="#000" stroke-width="2.50"/>
<line x1="847.50" y1="25.15" x2="847.50" y2="521.25" stroke="#000" stroke-width="2.50"/>
<line x1="148.25" y1="26.30" x2="848.75" y2="26.30" stroke="#000" stroke-width="2.30"/>
<line x1="148.25" y1="520.10" x2="848.75" y2="520.10" stroke="#000" stroke-width="2.30"/>
<line x1="139.00" y1="505.00" x2="149.50" y2="505.00" stroke="#000" stroke-width="2.00"/>
<line x1="143.50" y1="475.08" x2="149.50" y2="475.08" stroke="#000" stroke-width="2.00"/>
<line x1="139.00" y1="445.16" x2="149.50" y2="445.16" stroke="#000" stroke-width="2.00"/>
<line x1="143.50" y1="415.24" x2="149.50" y2="415.24" stroke="#000" stroke-width="2.00"/>
<line x1="139.00" y1="385.32" x2="149.50" y2="385.32" stroke="#000" stroke-width="2.00"/>
<line x1="143.50" y1="355.40" x2="149.50" y2="355.40" stroke="#000" stroke-width="2.00"/>
<line x1="139.00" y1="325.48" x2="149.50" y2="325.48" stroke="#000" stroke-width="2.00"/>
<line x1="143.50" y1="295.56" x2="149.50" y2="295.56" stroke="#000" stroke-width="2.00"/>
<line x1="139.00" y1="265.64" x2="149.50" y2="265.64" stroke="#000" stroke-width="2.00"/>
<line x1="143.50" y1="235.72" x2="149.50" y2="235.72" stroke="#000" stroke-width="2.00"/>
<line x1="139.00" y1="205.80" x2="149.50" y2="205.80" stroke="#000" stroke-width="2.00"/>
<line x1="143.50" y1="175.88" x2="149.50" y2="175.88" stroke="#000" stroke-width="2.00"/>
<line x1="139.00" y1="145.96" x2="149.50" y2="145.96" stroke="#000" stroke-width="2.00"/>
<line x1="143.50" y1="116.04" x2="149.50" y2="116.04" stroke="#000" stroke-width="2.00"/>
<line x1="139.00" y1="86.12" x2="149.50" y2="86.12" stroke="#000" stroke-width="2.00"/>
<line x1="143.50" y1="56.20" x2="149.50" y2="56.20" stroke="#000" stroke-width="2.00"/>
<line x1="139.00" y1="26.28" x2="149.50" y2="26.28" stroke="#000" stroke-width="2.00"/>
<line x1="150.50" y1="520.00" x2="150.50" y2="530.50" stroke="#000" stroke-width="2.00"/>
<line x1="213.90" y1="520.00" x2="213.90" y2="525.50" stroke="#000" stroke-width="2.00"/>
<line x1="277.30" y1="520.00" x2="277.30" y2="530.50" stroke="#000" stroke-width="2.00"/>
<line x1="340.70" y1="520.00" x2="340.70" y2="525.50" stroke="#000" stroke-width="2.00"/>
<line x1="404.10" y1="520.00" x2="404.10" y2="530.50" stroke="#000" stroke-width="2.00"/>
<line x1="467.50" y1="520.00" x2="467.50" y2="525.50" stroke="#000" stroke-width="2.00"/>
<line x1="530.90" y1="520.00" x2="530.90" y2="530.50" stroke="#000" stroke-width="2.00"/>
<line x1="594.30" y1="520.00" x2="594.30" y2="525.50" stroke="#000" stroke-width="2.00"/>
<line x1="657.70" y1="520.00" x2="657.70" y2="530.50" stroke="#000" stroke-width="2.00"/>
<line x1="721.10" y1="520.00" x2="721.10" y2="525.50" stroke="#000" stroke-width="2.00"/>
<line x1="784.50" y1="520.00" x2="784.50" y2="530.50" stroke="#000" stroke-width="2.00"/>
<line x1="847.90" y1="520.00" x2="847.90" y2="525.50" stroke="#000" stroke-width="2.00"/>
<text transform="translate(107.69,515.20) scale(1.0300,1)" font-family="'Liberation Sans', Arial, Helvetica, sans-serif" font-size="39.80" font-weight="bold" fill="#000">0</text>
<text transform="translate(107.28,455.36) scale(1.0300,1)" font-family="'Liberation Sans', Arial, Helvetica, sans-serif" font-size="39.80" font-weight="bold" fill="#000">2</text>
<text transform="translate(106.05,395.52) scale(1.0300,1)" font-family="'Liberation Sans', Arial, Helvetica, sans-serif" font-size="39.80" font-weight="bold" fill="#000">4</text>
<text transform="translate(107.28,335.68) scale(1.0300,1)" font-family="'Liberation Sans', Arial, Helvetica, sans-serif" font-size="39.80" font-weight="bold" fill="#000">6</text>
<text transform="translate(106.87,275.84) scale(1.0300,1)" font-family="'Liberation Sans', Arial, Helvetica, sans-serif" font-size="39.80" font-weight="bold" fill="#000">8</text>
<text transform="translate(83.34,216.00) scale(1.0300,1)" font-family="'Liberation Sans', Arial, Helvetica, sans-serif" font-size="39.80" font-weight="bold" fill="#000" clip-path="url(#c0)" letter-spacing="1.355">10</text>
<text transform="translate(83.34,156.16) scale(1.0300,1)" font-family="'Liberation Sans', Arial, Helvetica, sans-serif" font-size="39.80" font-weight="bold" fill="#000" clip-path="url(#c1)" letter-spacing="1.355">12</text>
<text transform="translate(83.34,96.32) scale(1.0300,1)" font-family="'Liberation Sans', Arial, Helvetica, sans-serif" font-size="39.80" font-weight="bold" fill="#000" clip-path="url(#c2)" letter-spacing="-0.237">14</text>
<text transform="translate(83.34,36.48) scale(1.0300,1)" font-family="'Liberation Sans', Arial, Helvetica, sans-serif" font-size="39.80" font-weight="bold" fill="#000" clip-path="url(#c3)" letter-spacing="1.355">16</text>
<text transform="translate(137.66,567.90) scale(1.0300,1)" font-family="'Liberation Sans', Arial, Helvetica, sans-serif" font-size="41.80" font-weight="bold" fill="#000">0</text>
<text transform="translate(251.57,567.90) scale(1.0300,1)" font-family="'Liberation Sans', Arial, Helvetica, sans-serif" font-size="41.80" font-weight="bold" fill="#000" clip-path="url(#c4)" letter-spacing="0.777">10</text>
<text transform="translate(379.02,567.90) scale(1.0300,1)" font-family="'Liberation Sans', Arial, Helvetica, sans-serif" font-size="41.80" font-weight="bold" fill="#000" letter-spacing="0.777">20</text>
<text transform="translate(506.04,567.90) scale(1.0300,1)" font-family="'Liberation Sans', Arial, Helvetica, sans-serif" font-size="41.80" font-weight="bold" fill="#000" letter-spacing="0.777">30</text>
<text transform="translate(632.84,567.90) scale(1.0300,1)" font-family="'Liberation Sans', Arial, Helvetica, sans-serif" font-size="41.80" font-weight="bold" fill="#000" letter-spacing="0.777">40</text>
<text transform="translate(759.42,567.90) scale(1.0300,1)" font-family="'Liberation Sans', Arial, Helvetica, sans-serif" font-size="41.80" font-weight="bold" fill="#000" letter-spacing="0.777">50</text>
<text transform="translate(333.10,618.60) scale(0.9850,1)" font-family="'Liberation Sans', Arial, Helvetica, sans-serif" font-size="43.50" font-weight="bold" fill="#000" letter-spacing="0.700">Luminance [nit]</text>
<text transform="translate(57.10,373.74) rotate(-90) scale(1.0920,1)" font-family="'Liberation Sans', Arial, Helvetica, sans-serif" font-size="46.80" font-weight="bold" fill="#000">&#916;</text>
<text transform="translate(57.10,339.60) rotate(-90) scale(0.9690,1)" font-family="'Liberation Sans', Arial, Helvetica, sans-serif" font-size="46.10" font-weight="bold" fill="#000">L [%]</text>
<text transform="translate(6.36,78.90) scale(1.0250,1)" font-family="'Liberation Serif', 'Times New Roman', serif" font-size="58.20" font-weight="bold" fill="#000">(a)</text>
<text transform="translate(507.49,418.30) scale(0.9740,1)" font-family="'Liberation Sans', Arial, Helvetica, sans-serif" font-size="48.00" font-weight="bold" fill="#ff0000" clip-path="url(#c5)">1 JNCD</text>
<rect x="399.5" y="33" width="416.7" height="102.8" fill="#fff" stroke="#222" stroke-width="1.4"/>
<rect fill="#ff0000" x="444.1" y="57.3" width="11.9" height="11.9"/>
<polygon fill="#0000ff" points="450.1,105.6 442.1,119.3 458.2,119.3"/>
<text transform="translate(499.56,73.60)" font-family="'Liberation Sans', Arial, Helvetica, sans-serif" font-size="41.00" font-weight="bold" fill="#000" letter-spacing="0.690">60 Hz</text>
<text transform="translate(609.24,74.40) scale(1.0450,1)" font-family="'Liberation Serif', 'Times New Roman', serif" font-size="62.00" font-weight="normal" fill="#000" stroke="#fff" stroke-width="1.2">&#8596;</text>
<text transform="translate(675.26,73.60)" font-family="'Liberation Sans', Arial, Helvetica, sans-serif" font-size="41.00" font-weight="bold" fill="#000" letter-spacing="0.890">90 Hz</text>
<text transform="translate(499.56,124.60)" font-family="'Liberation Sans', Arial, Helvetica, sans-serif" font-size="41.00" font-weight="bold" fill="#000" letter-spacing="0.690">60 Hz</text>
<text transform="translate(609.24,125.00) scale(1.0450,1)" font-family="'Liberation Serif', 'Times New Roman', serif" font-size="62.00" font-weight="normal" fill="#000" stroke="#fff" stroke-width="1.2">&#8596;</text>
<text transform="translate(676.44,124.60)" font-family="'Liberation Sans', Arial, Helvetica, sans-serif" font-size="41.00" font-weight="bold" fill="#000" clip-path="url(#c6)" letter-spacing="0.506">120 Hz</text>
<polygon fill="#ff0000" points="1082.3,307.3 1082.3,317.1 1083.6,319.9 1083.8,320.3 1083.9,320.8 1085.7,329.2 1085.7,329.2 1088.1,340.7 1092.0,352.2 1096.7,363.8 1101.9,375.4 1108.3,387.1 1113.0,395.6 1115.8,397.5 1116.1,397.7 1116.4,397.9 1116.6,398.2 1116.9,398.5 1117.1,398.8 1120.2,404.2 1126.7,409.4 1127.0,409.7 1134.0,416.8 1134.3,417.0 1141.2,425.3 1150.3,433.1 1160.9,437.1 1161.2,437.2 1161.5,437.4 1161.8,437.5 1162.1,437.8 1171.4,445.7 1184.8,449.8 1185.1,449.9 1199.2,455.5 1199.6,455.7 1199.9,455.9 1200.2,456.1 1200.5,456.4 1200.8,456.7 1201.1,457.0 1201.3,457.4 1203.1,461.1 1220.3,462.4 1220.7,462.5 1221.1,462.6 1221.5,462.7 1221.9,462.9 1222.2,463.1 1222.5,463.3 1222.8,463.6 1227.6,468.3 1246.0,470.9 1258.6,472.3 1259.0,472.4 1277.2,476.0 1330.4,481.5 1330.7,481.6 1331.0,481.6 1347.7,486.2 1387.0,490.0 1406.5,487.7 1407.0,487.7 1407.4,487.7 1407.8,487.8 1408.2,487.9 1417.0,490.7 1449.7,492.1 1452.6,491.6 1453.0,491.5 1453.4,491.5 1453.8,491.5 1454.2,491.6 1454.6,491.7 1454.9,491.9 1455.3,492.0 1455.6,492.3 1456.0,492.5 1458.7,494.9 1467.6,492.3 1468.0,492.2 1468.4,492.1 1468.8,492.1 1469.2,492.1 1486.8,494.3 1486.9,494.3 1519.1,499.2 1530.5,496.6 1530.9,496.5 1531.3,496.5 1531.6,496.5 1569.1,498.7 1569.5,498.7 1580.2,500.4 1599.2,500.7 1627.7,499.1 1628.1,499.1 1628.6,499.2 1643.5,501.7 1701.2,501.7 1714.4,499.7 1714.4,493.4 1649.9,492.0 1649.8,492.0 1602.3,489.8 1591.9,489.8 1586.5,492.0 1586.1,492.1 1585.7,492.2 1585.3,492.3 1584.8,492.3 1559.9,491.3 1559.6,491.3 1543.0,489.1 1531.4,487.5 1514.3,489.7 1513.9,489.7 1513.5,489.7 1513.1,489.6 1503.4,488.0 1485.0,486.9 1484.6,486.9 1484.2,486.8 1483.9,486.7 1473.8,483.2 1450.6,486.9 1450.2,486.9 1449.7,486.9 1449.3,486.8 1421.9,481.8 1382.1,478.7 1381.9,478.7 1348.0,474.1 1329.5,471.8 1329.4,471.8 1310.0,469.0 1290.2,466.2 1289.8,466.1 1289.4,466.0 1289.1,465.8 1287.0,464.8 1266.7,464.8 1266.3,464.8 1265.8,464.7 1265.4,464.6 1265.0,464.4 1247.1,456.1 1232.0,453.3 1231.6,453.2 1231.2,453.1 1219.2,448.4 1200.2,446.3 1199.8,446.2 1199.4,446.1 1199.0,446.0 1198.7,445.8 1198.4,445.6 1198.1,445.4 1197.8,445.1 1192.9,440.2 1176.9,436.3 1176.6,436.2 1176.3,436.1 1176.0,435.9 1175.7,435.7 1167.2,430.0 1166.8,429.8 1166.5,429.5 1161.7,424.6 1151.5,422.1 1151.2,422.0 1150.9,421.8 1150.5,421.7 1150.2,421.5 1149.9,421.3 1149.7,421.0 1141.2,412.5 1140.9,412.3 1140.7,412.0 1137.5,407.3 1137.5,407.2 1135.4,404.1 1127.6,398.9 1127.3,398.7 1127.0,398.5 1126.8,398.2 1126.5,397.9 1126.3,397.6 1120.9,388.0 1118.9,385.8 1118.6,385.4 1118.4,385.1 1113.9,377.1 1106.4,367.9 1106.2,367.7 1106.0,367.4 1105.9,367.0 1100.6,355.2 1100.5,355.1 1095.5,342.5 1095.4,342.2 1095.3,341.9 1092.7,330.9 1089.2,319.3 1089.1,318.9 1089.0,318.5 1087.9,307.8 1087.5,307.3"/>
<path fill="#ff0000" d="M1078.6 303.8L1090.2 303.8L1090.2 315.4L1078.6 315.4ZM1078.6 306.8L1090.2 306.8L1090.2 318.4L1078.6 318.4ZM1078.5 310.7L1090.1 310.7L1090.1 322.3L1078.5 322.3ZM1080.3 310.2L1091.9 310.2L1091.9 321.8L1080.3 321.8ZM1081.9 312.9L1093.5 312.9L1093.5 324.5L1081.9 324.5ZM1083.1 317.8L1094.7 317.8L1094.7 329.4L1083.1 329.4ZM1082.5 319.5L1094.1 319.5L1094.1 331.1L1082.5 331.1ZM1085.7 326.5L1097.3 326.5L1097.3 338.1L1085.7 338.1ZM1086.0 329.5L1097.6 329.5L1097.6 341.1L1086.0 341.1ZM1086.9 332.6L1098.5 332.6L1098.5 344.2L1086.9 344.2ZM1087.6 333.6L1099.2 333.6L1099.2 345.2L1087.6 345.2ZM1088.4 336.3L1100.0 336.3L1100.0 347.9L1088.4 347.9ZM1088.4 339.6L1100.0 339.6L1100.0 351.2L1088.4 351.2ZM1089.2 342.1L1100.8 342.1L1100.8 353.7L1089.2 353.7ZM1089.5 345.0L1101.1 345.0L1101.1 356.6L1089.5 356.6ZM1093.7 350.8L1105.3 350.8L1105.3 362.4L1093.7 362.4ZM1095.3 355.0L1106.9 355.0L1106.9 366.6L1095.3 366.6ZM1095.3 358.5L1106.9 358.5L1106.9 370.1L1095.3 370.1ZM1097.2 360.4L1108.8 360.4L1108.8 372.0L1097.2 372.0ZM1098.3 363.3L1109.9 363.3L1109.9 374.9L1098.3 374.9ZM1099.6 366.7L1111.2 366.7L1111.2 378.3L1099.6 378.3ZM1100.7 368.0L1112.3 368.0L1112.3 379.6L1100.7 379.6ZM1101.6 370.9L1113.2 370.9L1113.2 382.5L1101.6 382.5ZM1103.3 373.3L1114.9 373.3L1114.9 384.9L1103.3 384.9ZM1105.5 375.3L1117.1 375.3L1117.1 386.9L1105.5 386.9ZM1106.9 379.7L1118.5 379.7L1118.5 391.3L1106.9 391.3ZM1109.9 381.0L1121.5 381.0L1121.5 392.6L1109.9 392.6ZM1108.5 383.8L1120.1 383.8L1120.1 395.4L1108.5 395.4ZM1112.4 386.2L1124.0 386.2L1124.0 397.8L1112.4 397.8ZM1110.0 386.6L1121.6 386.6L1121.6 398.2L1110.0 398.2ZM1115.1 387.3L1126.7 387.3L1126.7 398.9L1115.1 398.9ZM1118.3 393.1L1129.9 393.1L1129.9 404.7L1118.3 404.7ZM1119.4 394.6L1131.0 394.6L1131.0 406.2L1119.4 406.2ZM1118.8 394.3L1130.4 394.3L1130.4 405.9L1118.8 405.9ZM1124.0 398.4L1135.6 398.4L1135.6 410.0L1124.0 410.0ZM1126.2 400.8L1137.8 400.8L1137.8 412.4L1126.2 412.4ZM1128.7 403.5L1140.3 403.5L1140.3 415.1L1128.7 415.1ZM1130.9 405.0L1142.5 405.0L1142.5 416.6L1130.9 416.6ZM1132.3 408.5L1143.9 408.5L1143.9 420.1L1132.3 420.1ZM1135.1 410.0L1146.7 410.0L1146.7 421.6L1135.1 421.6ZM1135.9 413.1L1147.5 413.1L1147.5 424.7L1135.9 424.7ZM1138.7 414.6L1150.3 414.6L1150.3 426.2L1138.7 426.2ZM1140.0 416.4L1151.6 416.4L1151.6 428.0L1140.0 428.0ZM1141.4 418.0L1153.0 418.0L1153.0 429.6L1141.4 429.6ZM1143.6 420.9L1155.2 420.9L1155.2 432.5L1143.6 432.5ZM1147.3 420.3L1158.9 420.3L1158.9 431.9L1147.3 431.9ZM1146.7 423.5L1158.3 423.5L1158.3 435.1L1146.7 435.1ZM1148.6 423.7L1160.2 423.7L1160.2 435.3L1148.6 435.3ZM1150.9 425.0L1162.5 425.0L1162.5 436.6L1150.9 436.6ZM1154.7 425.0L1166.3 425.0L1166.3 436.6L1154.7 436.6ZM1157.6 427.5L1169.2 427.5L1169.2 439.1L1157.6 439.1ZM1163.7 429.0L1175.3 429.0L1175.3 440.6L1163.7 440.6ZM1164.8 432.4L1176.4 432.4L1176.4 444.0L1164.8 444.0ZM1166.9 434.9L1178.5 434.9L1178.5 446.5L1166.9 446.5ZM1168.4 435.5L1180.0 435.5L1180.0 447.1L1168.4 447.1ZM1169.5 435.7L1181.1 435.7L1181.1 447.3L1169.5 447.3ZM1171.2 436.5L1182.8 436.5L1182.8 448.1L1171.2 448.1ZM1174.7 438.9L1186.3 438.9L1186.3 450.5L1174.7 450.5ZM1177.2 439.4L1188.8 439.4L1188.8 451.0L1177.2 451.0ZM1179.6 440.2L1191.2 440.2L1191.2 451.8L1179.6 451.8ZM1182.9 441.1L1194.5 441.1L1194.5 452.7L1182.9 452.7ZM1185.5 441.9L1197.1 441.9L1197.1 453.5L1185.5 453.5ZM1188.8 441.9L1200.4 441.9L1200.4 453.5L1188.8 453.5ZM1191.7 445.2L1203.3 445.2L1203.3 456.8L1191.7 456.8ZM1197.8 447.5L1209.4 447.5L1209.4 459.1L1197.8 459.1ZM1201.1 451.6L1212.7 451.6L1212.7 463.2L1201.1 463.2ZM1201.3 453.3L1212.9 453.3L1212.9 464.9L1201.3 464.9ZM1197.5 451.4L1209.1 451.4L1209.1 463.0L1197.5 463.0ZM1201.2 453.2L1212.8 453.2L1212.8 464.8L1201.2 464.8ZM1204.1 453.3L1215.7 453.3L1215.7 464.9L1204.1 464.9ZM1206.2 453.0L1217.8 453.0L1217.8 464.6L1206.2 464.6ZM1208.7 453.8L1220.3 453.8L1220.3 465.4L1208.7 465.4ZM1212.3 453.3L1223.9 453.3L1223.9 464.9L1212.3 464.9ZM1223.1 453.7L1234.7 453.7L1234.7 465.3L1223.1 465.3ZM1222.9 456.1L1234.5 456.1L1234.5 467.7L1222.9 467.7ZM1225.9 457.6L1237.5 457.6L1237.5 469.2L1225.9 469.2ZM1222.8 457.4L1234.4 457.4L1234.4 469.0L1222.8 469.0ZM1225.6 460.3L1237.2 460.3L1237.2 471.9L1225.6 471.9ZM1227.6 460.4L1239.2 460.4L1239.2 472.0L1227.6 472.0ZM1232.1 461.2L1243.7 461.2L1243.7 472.8L1232.1 472.8ZM1234.5 461.1L1246.1 461.1L1246.1 472.7L1234.5 472.7ZM1237.4 460.0L1249.0 460.0L1249.0 471.6L1237.4 471.6ZM1240.0 460.7L1251.6 460.7L1251.6 472.3L1240.0 472.3ZM1243.7 460.4L1255.3 460.4L1255.3 472.0L1243.7 472.0ZM1246.4 460.7L1258.0 460.7L1258.0 472.3L1246.4 472.3ZM1249.1 462.4L1260.7 462.4L1260.7 474.0L1249.1 474.0ZM1252.7 461.7L1264.3 461.7L1264.3 473.3L1252.7 473.3ZM1256.4 464.2L1268.0 464.2L1268.0 475.8L1256.4 475.8ZM1258.2 463.5L1269.8 463.5L1269.8 475.1L1258.2 475.1ZM1262.3 464.3L1273.9 464.3L1273.9 475.9L1262.3 475.9ZM1264.7 463.1L1276.3 463.1L1276.3 474.7L1264.7 474.7ZM1267.1 466.4L1278.7 466.4L1278.7 478.0L1267.1 478.0ZM1269.6 467.0L1281.2 467.0L1281.2 478.6L1269.6 478.6ZM1273.0 467.9L1284.6 467.9L1284.6 479.5L1273.0 479.5ZM1276.2 465.9L1287.8 465.9L1287.8 477.5L1276.2 477.5ZM1279.7 466.5L1291.3 466.5L1291.3 478.1L1279.7 478.1ZM1281.6 467.4L1293.2 467.4L1293.2 479.0L1281.6 479.0ZM1285.3 467.5L1296.9 467.5L1296.9 479.1L1285.3 479.1ZM1287.4 467.5L1299.0 467.5L1299.0 479.1L1287.4 479.1ZM1289.9 469.3L1301.5 469.3L1301.5 480.9L1289.9 480.9ZM1294.5 469.3L1306.1 469.3L1306.1 480.9L1294.5 480.9ZM1296.3 468.3L1307.9 468.3L1307.9 479.9L1296.3 479.9ZM1299.4 470.7L1311.0 470.7L1311.0 482.3L1299.4 482.3ZM1301.7 470.6L1313.3 470.6L1313.3 482.2L1301.7 482.2ZM1305.4 468.6L1317.0 468.6L1317.0 480.2L1305.4 480.2ZM1308.2 469.3L1319.8 469.3L1319.8 480.9L1308.2 480.9ZM1312.1 471.3L1323.7 471.3L1323.7 482.9L1312.1 482.9ZM1315.5 470.4L1327.1 470.4L1327.1 482.0L1315.5 482.0ZM1317.4 472.2L1329.0 472.2L1329.0 483.8L1317.4 483.8ZM1320.6 470.3L1332.2 470.3L1332.2 481.9L1320.6 481.9ZM1323.5 473.0L1335.1 473.0L1335.1 484.6L1323.5 484.6ZM1327.4 472.2L1339.0 472.2L1339.0 483.8L1327.4 483.8ZM1330.2 472.6L1341.8 472.6L1341.8 484.2L1330.2 484.2ZM1333.1 472.4L1344.7 472.4L1344.7 484.0L1333.1 484.0ZM1335.7 475.3L1347.3 475.3L1347.3 486.9L1335.7 486.9ZM1339.4 475.9L1351.0 475.9L1351.0 487.5L1339.4 487.5ZM1342.4 476.4L1354.0 476.4L1354.0 488.0L1342.4 488.0ZM1344.0 475.9L1355.6 475.9L1355.6 487.5L1344.0 487.5ZM1346.4 476.5L1358.0 476.5L1358.0 488.1L1346.4 488.1ZM1350.0 477.9L1361.6 477.9L1361.6 489.5L1350.0 489.5ZM1353.5 479.1L1365.1 479.1L1365.1 490.7L1353.5 490.7ZM1356.3 479.2L1367.9 479.2L1367.9 490.8L1356.3 490.8ZM1359.2 479.5L1370.8 479.5L1370.8 491.1L1359.2 491.1ZM1360.9 478.8L1372.5 478.8L1372.5 490.4L1360.9 490.4ZM1365.4 479.9L1377.0 479.9L1377.0 491.5L1365.4 491.5ZM1367.7 479.1L1379.3 479.1L1379.3 490.7L1367.7 490.7ZM1370.2 479.6L1381.8 479.6L1381.8 491.2L1370.2 491.2ZM1372.8 480.1L1384.4 480.1L1384.4 491.7L1372.8 491.7ZM1377.1 480.8L1388.7 480.8L1388.7 492.4L1377.1 492.4ZM1379.0 481.6L1390.6 481.6L1390.6 493.2L1379.0 493.2ZM1381.7 481.0L1393.3 481.0L1393.3 492.6L1381.7 492.6ZM1384.7 479.4L1396.3 479.4L1396.3 491.0L1384.7 491.0ZM1386.1 478.5L1397.7 478.5L1397.7 490.1L1386.1 490.1ZM1390.6 478.4L1402.2 478.4L1402.2 490.0L1390.6 490.0ZM1393.5 478.6L1405.1 478.6L1405.1 490.2L1393.5 490.2ZM1396.3 478.4L1407.9 478.4L1407.9 490.0L1396.3 490.0ZM1399.4 479.4L1411.0 479.4L1411.0 491.0L1399.4 491.0ZM1404.1 477.6L1415.7 477.6L1415.7 489.2L1404.1 489.2ZM1408.0 480.4L1419.6 480.4L1419.6 492.0L1408.0 492.0ZM1411.3 480.0L1422.9 480.0L1422.9 491.6L1411.3 491.6ZM1412.2 480.6L1423.8 480.6L1423.8 492.2L1412.2 492.2ZM1415.2 482.3L1426.8 482.3L1426.8 493.9L1415.2 493.9ZM1418.1 482.1L1429.7 482.1L1429.7 493.7L1418.1 493.7ZM1420.7 482.5L1432.3 482.5L1432.3 494.1L1420.7 494.1ZM1424.3 482.5L1435.9 482.5L1435.9 494.1L1424.3 494.1ZM1427.4 483.0L1439.0 483.0L1439.0 494.6L1427.4 494.6ZM1429.9 481.0L1441.5 481.0L1441.5 492.6L1429.9 492.6ZM1432.9 483.1L1444.5 483.1L1444.5 494.7L1432.9 494.7ZM1434.8 482.9L1446.4 482.9L1446.4 494.5L1434.8 494.5ZM1438.5 481.8L1450.1 481.8L1450.1 493.4L1438.5 493.4ZM1442.1 481.2L1453.7 481.2L1453.7 492.8L1442.1 492.8ZM1443.7 483.4L1455.3 483.4L1455.3 495.0L1443.7 495.0ZM1449.2 481.1L1460.8 481.1L1460.8 492.7L1449.2 492.7ZM1454.6 484.6L1466.2 484.6L1466.2 496.2L1454.6 496.2ZM1455.4 485.7L1467.0 485.7L1467.0 497.3L1455.4 497.3ZM1451.4 483.2L1463.0 483.2L1463.0 494.8L1451.4 494.8ZM1454.1 482.6L1465.7 482.6L1465.7 494.2L1454.1 494.2ZM1457.8 484.0L1469.4 484.0L1469.4 495.6L1457.8 495.6ZM1464.6 484.1L1476.2 484.1L1476.2 495.7L1464.6 495.7ZM1466.3 484.1L1477.9 484.1L1477.9 495.7L1466.3 495.7ZM1469.3 483.8L1480.9 483.8L1480.9 495.4L1469.3 495.4ZM1472.5 484.8L1484.1 484.8L1484.1 496.4L1472.5 496.4ZM1475.3 483.6L1486.9 483.6L1486.9 495.2L1475.3 495.2ZM1478.2 485.3L1489.8 485.3L1489.8 496.9L1478.2 496.9ZM1482.5 483.6L1494.1 483.6L1494.1 495.2L1482.5 495.2ZM1485.6 484.8L1497.2 484.8L1497.2 496.4L1485.6 496.4ZM1488.7 484.9L1500.3 484.9L1500.3 496.5L1488.7 496.5ZM1491.6 487.3L1503.2 487.3L1503.2 498.9L1491.6 498.9ZM1493.4 486.3L1505.0 486.3L1505.0 497.9L1493.4 497.9ZM1497.1 487.2L1508.7 487.2L1508.7 498.8L1497.1 498.8ZM1500.4 488.6L1512.0 488.6L1512.0 500.2L1500.4 500.2ZM1503.3 488.4L1514.9 488.4L1514.9 500.0L1503.3 500.0ZM1505.7 489.3L1517.3 489.3L1517.3 500.9L1505.7 500.9ZM1508.6 488.7L1520.2 488.7L1520.2 500.3L1508.6 500.3ZM1512.2 488.0L1523.8 488.0L1523.8 499.6L1512.2 499.6ZM1513.2 489.8L1524.8 489.8L1524.8 501.4L1513.2 501.4ZM1514.0 488.6L1525.6 488.6L1525.6 500.2L1514.0 500.2ZM1516.9 487.1L1528.5 487.1L1528.5 498.7L1516.9 498.7ZM1521.7 488.1L1533.3 488.1L1533.3 499.7L1521.7 499.7ZM1525.7 488.3L1537.3 488.3L1537.3 499.9L1525.7 499.9ZM1528.4 488.6L1540.0 488.6L1540.0 500.2L1528.4 500.2ZM1531.7 488.8L1543.3 488.8L1543.3 500.4L1531.7 500.4ZM1535.2 487.8L1546.8 487.8L1546.8 499.4L1535.2 499.4ZM1537.7 487.5L1549.3 487.5L1549.3 499.1L1537.7 499.1ZM1540.3 488.8L1551.9 488.8L1551.9 500.4L1540.3 500.4ZM1543.5 489.6L1555.1 489.6L1555.1 501.2L1543.5 501.2ZM1547.4 489.8L1559.0 489.8L1559.0 501.4L1547.4 501.4ZM1549.1 487.8L1560.7 487.8L1560.7 499.4L1549.1 499.4ZM1553.3 489.3L1564.9 489.3L1564.9 500.9L1553.3 500.9ZM1555.6 490.2L1567.2 490.2L1567.2 501.8L1555.6 501.8ZM1557.9 489.3L1569.5 489.3L1569.5 500.9L1557.9 500.9ZM1561.3 490.5L1572.9 490.5L1572.9 502.1L1561.3 502.1ZM1566.1 490.7L1577.7 490.7L1577.7 502.3L1566.1 502.3ZM1568.4 489.0L1580.0 489.0L1580.0 500.6L1568.4 500.6ZM1571.7 491.4L1583.3 491.4L1583.3 503.0L1571.7 503.0ZM1574.5 490.9L1586.1 490.9L1586.1 502.5L1574.5 502.5ZM1576.6 490.0L1588.2 490.0L1588.2 501.6L1576.6 501.6ZM1579.9 491.4L1591.5 491.4L1591.5 503.0L1579.9 503.0ZM1582.8 491.8L1594.4 491.8L1594.4 503.4L1582.8 503.4ZM1585.4 490.7L1597.0 490.7L1597.0 502.3L1585.4 502.3ZM1588.5 492.2L1600.1 492.2L1600.1 503.8L1588.5 503.8ZM1590.5 490.9L1602.1 490.9L1602.1 502.5L1590.5 502.5ZM1593.7 492.1L1605.3 492.1L1605.3 503.7L1593.7 503.7ZM1596.4 491.4L1608.0 491.4L1608.0 503.0L1596.4 503.0ZM1599.6 490.1L1611.2 490.1L1611.2 501.7L1599.6 501.7ZM1603.0 491.0L1614.6 491.0L1614.6 502.6L1603.0 502.6ZM1606.3 491.2L1617.9 491.2L1617.9 502.8L1606.3 502.8ZM1608.8 490.0L1620.4 490.0L1620.4 501.6L1608.8 501.6ZM1612.1 489.8L1623.7 489.8L1623.7 501.4L1612.1 501.4ZM1615.5 490.3L1627.1 490.3L1627.1 501.9L1615.5 501.9ZM1617.9 491.2L1629.5 491.2L1629.5 502.8L1617.9 502.8ZM1620.4 490.5L1632.0 490.5L1632.0 502.1L1620.4 502.1ZM1625.7 488.5L1637.3 488.5L1637.3 500.1L1625.7 500.1ZM1627.5 490.8L1639.1 490.8L1639.1 502.4L1627.5 502.4ZM1631.8 491.2L1643.4 491.2L1643.4 502.8L1631.8 502.8ZM1634.8 492.5L1646.4 492.5L1646.4 504.1L1634.8 504.1ZM1637.5 492.4L1649.1 492.4L1649.1 504.0L1637.5 504.0ZM1639.1 494.1L1650.7 494.1L1650.7 505.7L1639.1 505.7ZM1641.8 491.9L1653.4 491.9L1653.4 503.5L1641.8 503.5ZM1645.4 492.8L1657.0 492.8L1657.0 504.4L1645.4 504.4ZM1647.8 494.1L1659.4 494.1L1659.4 505.7L1647.8 505.7ZM1651.3 493.2L1662.9 493.2L1662.9 504.8L1651.3 504.8ZM1654.4 492.7L1666.0 492.7L1666.0 504.3L1654.4 504.3ZM1656.8 491.6L1668.4 491.6L1668.4 503.2L1656.8 503.2ZM1659.3 491.3L1670.9 491.3L1670.9 502.9L1659.3 502.9ZM1662.2 491.2L1673.8 491.2L1673.8 502.8L1662.2 502.8ZM1666.1 493.2L1677.7 493.2L1677.7 504.8L1666.1 504.8ZM1669.7 493.0L1681.3 493.0L1681.3 504.6L1669.7 504.6ZM1672.0 494.1L1683.6 494.1L1683.6 505.7L1672.0 505.7ZM1675.5 492.6L1687.1 492.6L1687.1 504.2L1675.5 504.2ZM1677.5 494.0L1689.1 494.0L1689.1 505.6L1677.5 505.6ZM1680.8 491.4L1692.4 491.4L1692.4 503.0L1680.8 503.0ZM1684.6 493.1L1696.2 493.1L1696.2 504.7L1684.6 504.7ZM1686.1 491.8L1697.7 491.8L1697.7 503.4L1686.1 503.4ZM1689.4 492.2L1701.0 492.2L1701.0 503.8L1689.4 503.8ZM1692.9 491.3L1704.5 491.3L1704.5 502.9L1692.9 502.9ZM1694.8 491.7L1706.4 491.7L1706.4 503.3L1694.8 503.3ZM1698.3 492.8L1709.9 492.8L1709.9 504.4L1698.3 504.4ZM1700.9 491.9L1712.5 491.9L1712.5 503.5L1700.9 503.5ZM1703.8 489.1L1715.4 489.1L1715.4 500.7L1703.8 500.7ZM1706.9 490.4L1718.5 490.4L1718.5 502.0L1706.9 502.0ZM1701.0 494.4L1712.6 494.4L1712.6 506.0L1701.0 506.0ZM1706.7 492.8L1718.3 492.8L1718.3 504.4L1706.7 504.4ZM1706.6 490.1L1718.2 490.1L1718.2 501.7L1706.6 501.7ZM1706.5 492.5L1718.1 492.5L1718.1 504.1L1706.5 504.1ZM1704.5 490.9L1716.1 490.9L1716.1 502.5L1704.5 502.5ZM1700.7 489.6L1712.3 489.6L1712.3 501.2L1700.7 501.2ZM1698.6 489.7L1710.2 489.7L1710.2 501.3L1698.6 501.3ZM1694.8 491.3L1706.4 491.3L1706.4 502.9L1694.8 502.9ZM1691.5 490.5L1703.1 490.5L1703.1 502.1L1691.5 502.1ZM1689.6 491.0L1701.2 491.0L1701.2 502.6L1689.6 502.6ZM1685.9 489.3L1697.5 489.3L1697.5 500.9L1685.9 500.9ZM1682.7 489.3L1694.3 489.3L1694.3 500.9L1682.7 500.9ZM1680.3 489.8L1691.9 489.8L1691.9 501.4L1680.3 501.4ZM1676.5 488.9L1688.1 488.9L1688.1 500.5L1676.5 500.5ZM1674.0 489.1L1685.6 489.1L1685.6 500.7L1674.0 500.7ZM1670.6 490.9L1682.2 490.9L1682.2 502.5L1670.6 502.5ZM1668.3 490.5L1679.9 490.5L1679.9 502.1L1668.3 502.1ZM1665.0 488.9L1676.6 488.9L1676.6 500.5L1665.0 500.5ZM1662.3 489.7L1673.9 489.7L1673.9 501.3L1662.3 501.3ZM1658.3 489.8L1669.9 489.8L1669.9 501.4L1658.3 501.4ZM1656.8 490.5L1668.4 490.5L1668.4 502.1L1656.8 502.1ZM1652.8 489.1L1664.4 489.1L1664.4 500.7L1652.8 500.7ZM1650.4 489.1L1662.0 489.1L1662.0 500.7L1650.4 500.7ZM1646.6 488.6L1658.2 488.6L1658.2 500.2L1646.6 500.2ZM1644.5 490.6L1656.1 490.6L1656.1 502.2L1644.5 502.2ZM1640.9 488.2L1652.5 488.2L1652.5 499.8L1640.9 499.8ZM1637.1 488.0L1648.7 488.0L1648.7 499.6L1637.1 499.6ZM1635.0 489.3L1646.6 489.3L1646.6 500.9L1635.0 500.9ZM1631.4 490.2L1643.0 490.2L1643.0 501.8L1631.4 501.8ZM1629.3 488.9L1640.9 488.9L1640.9 500.5L1629.3 500.5ZM1625.1 488.3L1636.7 488.3L1636.7 499.9L1625.1 499.9ZM1622.4 488.2L1634.0 488.2L1634.0 499.8L1622.4 499.8ZM1619.3 489.9L1630.9 489.9L1630.9 501.5L1619.3 501.5ZM1617.0 488.9L1628.6 488.9L1628.6 500.5L1617.0 500.5ZM1614.0 489.4L1625.6 489.4L1625.6 501.0L1614.0 501.0ZM1610.2 489.1L1621.8 489.1L1621.8 500.7L1610.2 500.7ZM1607.1 487.9L1618.7 487.9L1618.7 499.5L1607.1 499.5ZM1604.0 486.6L1615.6 486.6L1615.6 498.2L1604.0 498.2ZM1601.7 486.4L1613.3 486.4L1613.3 498.0L1601.7 498.0ZM1598.6 487.9L1610.2 487.9L1610.2 499.5L1598.6 499.5ZM1596.3 488.1L1607.9 488.1L1607.9 499.7L1596.3 499.7ZM1593.3 486.1L1604.9 486.1L1604.9 497.7L1593.3 497.7ZM1590.7 487.1L1602.3 487.1L1602.3 498.7L1590.7 498.7ZM1587.3 485.8L1598.9 485.8L1598.9 497.4L1587.3 497.4ZM1587.6 490.0L1599.2 490.0L1599.2 501.6L1587.6 501.6ZM1585.0 490.1L1596.6 490.1L1596.6 501.7L1585.0 501.7ZM1579.4 488.9L1591.0 488.9L1591.0 500.5L1579.4 500.5ZM1575.2 488.7L1586.8 488.7L1586.8 500.3L1575.2 500.3ZM1573.0 489.7L1584.6 489.7L1584.6 501.3L1573.0 501.3ZM1569.1 488.1L1580.7 488.1L1580.7 499.7L1569.1 499.7ZM1565.6 488.0L1577.2 488.0L1577.2 499.6L1565.6 499.6ZM1564.0 488.5L1575.6 488.5L1575.6 500.1L1564.0 500.1ZM1559.8 489.7L1571.4 489.7L1571.4 501.3L1559.8 501.3ZM1556.9 488.5L1568.5 488.5L1568.5 500.1L1556.9 500.1ZM1553.3 487.9L1564.9 487.9L1564.9 499.5L1553.3 499.5ZM1550.0 487.5L1561.6 487.5L1561.6 499.1L1550.0 499.1ZM1548.2 489.2L1559.8 489.2L1559.8 500.8L1548.2 500.8ZM1544.1 488.4L1555.7 488.4L1555.7 500.0L1544.1 500.0ZM1542.0 488.9L1553.6 488.9L1553.6 500.5L1542.0 500.5ZM1538.8 486.3L1550.4 486.3L1550.4 497.9L1538.8 497.9ZM1536.3 488.7L1547.9 488.7L1547.9 500.3L1536.3 500.3ZM1533.7 485.7L1545.3 485.7L1545.3 497.3L1533.7 497.3ZM1529.9 487.4L1541.5 487.4L1541.5 499.0L1529.9 499.0ZM1526.1 486.7L1537.7 486.7L1537.7 498.3L1526.1 498.3ZM1525.1 484.0L1536.7 484.0L1536.7 495.6L1525.1 495.6ZM1522.3 484.9L1533.9 484.9L1533.9 496.5L1522.3 496.5ZM1519.3 487.9L1530.9 487.9L1530.9 499.5L1519.3 499.5ZM1517.8 487.1L1529.4 487.1L1529.4 498.7L1517.8 498.7ZM1514.3 485.7L1525.9 485.7L1525.9 497.3L1514.3 497.3ZM1510.1 487.0L1521.7 487.0L1521.7 498.6L1510.1 498.6ZM1506.8 487.3L1518.4 487.3L1518.4 498.9L1506.8 498.9ZM1503.6 486.8L1515.2 486.8L1515.2 498.4L1503.6 498.4ZM1499.3 487.7L1510.9 487.7L1510.9 499.3L1499.3 499.3ZM1497.5 487.3L1509.1 487.3L1509.1 498.9L1497.5 498.9ZM1495.5 484.5L1507.1 484.5L1507.1 496.1L1495.5 496.1ZM1492.1 484.2L1503.7 484.2L1503.7 495.8L1492.1 495.8ZM1489.5 485.4L1501.1 485.4L1501.1 497.0L1489.5 497.0ZM1486.0 483.9L1497.6 483.9L1497.6 495.5L1486.0 495.5ZM1482.8 483.6L1494.4 483.6L1494.4 495.2L1482.8 495.2ZM1478.4 486.5L1490.0 486.5L1490.0 498.1L1478.4 498.1ZM1474.7 484.1L1486.3 484.1L1486.3 495.7L1474.7 495.7ZM1472.0 483.1L1483.6 483.1L1483.6 494.7L1472.0 494.7ZM1469.3 481.7L1480.9 481.7L1480.9 493.3L1469.3 493.3ZM1467.3 482.0L1478.9 482.0L1478.9 493.6L1467.3 493.6ZM1466.9 480.3L1478.5 480.3L1478.5 491.9L1466.9 491.9ZM1464.9 482.9L1476.5 482.9L1476.5 494.5L1464.9 494.5ZM1461.6 483.4L1473.2 483.4L1473.2 495.0L1461.6 495.0ZM1458.0 483.1L1469.6 483.1L1469.6 494.7L1458.0 494.7ZM1455.5 483.4L1467.1 483.4L1467.1 495.0L1455.5 495.0ZM1452.4 483.7L1464.0 483.7L1464.0 495.3L1452.4 495.3ZM1448.3 483.3L1459.9 483.3L1459.9 494.9L1448.3 494.9ZM1447.0 485.9L1458.6 485.9L1458.6 497.5L1447.0 497.5ZM1439.8 485.4L1451.4 485.4L1451.4 497.0L1439.8 497.0ZM1437.3 482.8L1448.9 482.8L1448.9 494.4L1437.3 494.4ZM1434.6 482.3L1446.2 482.3L1446.2 493.9L1434.6 493.9ZM1431.3 482.4L1442.9 482.4L1442.9 494.0L1431.3 494.0ZM1428.9 482.3L1440.5 482.3L1440.5 493.9L1428.9 493.9ZM1426.5 482.0L1438.1 482.0L1438.1 493.6L1426.5 493.6ZM1422.4 480.9L1434.0 480.9L1434.0 492.5L1422.4 492.5ZM1420.3 480.2L1431.9 480.2L1431.9 491.8L1420.3 491.8ZM1417.8 479.6L1429.4 479.6L1429.4 491.2L1417.8 491.2ZM1414.3 480.9L1425.9 480.9L1425.9 492.5L1414.3 492.5ZM1412.3 478.4L1423.9 478.4L1423.9 490.0L1412.3 490.0ZM1409.2 480.1L1420.8 480.1L1420.8 491.7L1409.2 491.7ZM1406.6 477.7L1418.2 477.7L1418.2 489.3L1406.6 489.3ZM1403.5 477.3L1415.1 477.3L1415.1 488.9L1403.5 488.9ZM1400.8 477.4L1412.4 477.4L1412.4 489.0L1400.8 489.0ZM1396.7 479.4L1408.3 479.4L1408.3 491.0L1396.7 491.0ZM1394.6 477.0L1406.2 477.0L1406.2 488.6L1394.6 488.6ZM1391.0 476.3L1402.6 476.3L1402.6 487.9L1391.0 487.9ZM1388.8 477.4L1400.4 477.4L1400.4 489.0L1388.8 489.0ZM1385.2 476.4L1396.8 476.4L1396.8 488.0L1385.2 488.0ZM1382.4 475.6L1394.0 475.6L1394.0 487.2L1382.4 487.2ZM1379.6 475.6L1391.2 475.6L1391.2 487.2L1379.6 487.2ZM1376.6 475.3L1388.2 475.3L1388.2 486.9L1376.6 486.9ZM1372.3 474.9L1383.9 474.9L1383.9 486.5L1372.3 486.5ZM1370.0 474.8L1381.6 474.8L1381.6 486.4L1370.0 486.4ZM1367.2 476.2L1378.8 476.2L1378.8 487.8L1367.2 487.8ZM1362.7 476.5L1374.3 476.5L1374.3 488.1L1362.7 488.1ZM1361.1 474.6L1372.7 474.6L1372.7 486.2L1361.1 486.2ZM1358.1 473.0L1369.7 473.0L1369.7 484.6L1358.1 484.6ZM1355.0 474.0L1366.6 474.0L1366.6 485.6L1355.0 485.6ZM1352.0 474.2L1363.6 474.2L1363.6 485.8L1352.0 485.8ZM1349.1 472.2L1360.7 472.2L1360.7 483.8L1349.1 483.8ZM1345.2 472.5L1356.8 472.5L1356.8 484.1L1345.2 484.1ZM1343.2 473.6L1354.8 473.6L1354.8 485.2L1343.2 485.2ZM1340.1 471.9L1351.7 471.9L1351.7 483.5L1340.1 483.5ZM1337.0 472.5L1348.6 472.5L1348.6 484.1L1337.0 484.1ZM1333.8 470.6L1345.4 470.6L1345.4 482.2L1333.8 482.2ZM1331.3 471.5L1342.9 471.5L1342.9 483.1L1331.3 483.1ZM1327.6 470.4L1339.2 470.4L1339.2 482.0L1327.6 482.0ZM1324.5 469.7L1336.1 469.7L1336.1 481.3L1324.5 481.3ZM1322.3 468.9L1333.9 468.9L1333.9 480.5L1322.3 480.5ZM1319.7 468.2L1331.3 468.2L1331.3 479.8L1319.7 479.8ZM1315.4 468.6L1327.0 468.6L1327.0 480.2L1315.4 480.2ZM1314.0 467.5L1325.6 467.5L1325.6 479.1L1314.0 479.1ZM1310.2 468.8L1321.8 468.8L1321.8 480.4L1310.2 480.4ZM1306.5 468.1L1318.1 468.1L1318.1 479.7L1306.5 479.7ZM1304.7 466.7L1316.3 466.7L1316.3 478.3L1304.7 478.3ZM1300.6 466.0L1312.2 466.0L1312.2 477.6L1300.6 477.6ZM1298.2 464.9L1309.8 464.9L1309.8 476.5L1298.2 476.5ZM1295.4 465.6L1307.0 465.6L1307.0 477.2L1295.4 477.2ZM1291.4 466.8L1303.0 466.8L1303.0 478.4L1291.4 478.4ZM1289.1 464.2L1300.7 464.2L1300.7 475.8L1289.1 475.8ZM1285.6 465.8L1297.2 465.8L1297.2 477.4L1285.6 477.4ZM1283.3 464.1L1294.9 464.1L1294.9 475.7L1283.3 475.7ZM1280.5 462.1L1292.1 462.1L1292.1 473.7L1280.5 473.7ZM1279.4 462.9L1291.0 462.9L1291.0 474.5L1279.4 474.5ZM1276.4 462.0L1288.0 462.0L1288.0 473.6L1276.4 473.6ZM1273.8 461.7L1285.4 461.7L1285.4 473.3L1273.8 473.3ZM1269.1 460.8L1280.7 460.8L1280.7 472.4L1269.1 472.4ZM1267.6 463.4L1279.2 463.4L1279.2 475.0L1267.6 475.0ZM1263.1 461.9L1274.7 461.9L1274.7 473.5L1263.1 473.5ZM1260.1 462.1L1271.7 462.1L1271.7 473.7L1260.1 473.7ZM1254.0 461.8L1265.6 461.8L1265.6 473.4L1254.0 473.4ZM1251.6 461.1L1263.2 461.1L1263.2 472.7L1251.6 472.7ZM1249.8 459.2L1261.4 459.2L1261.4 470.8L1249.8 470.8ZM1245.1 459.0L1256.7 459.0L1256.7 470.6L1245.1 470.6ZM1243.2 457.6L1254.8 457.6L1254.8 469.2L1243.2 469.2ZM1240.2 455.2L1251.8 455.2L1251.8 466.8L1240.2 466.8ZM1240.2 453.5L1251.8 453.5L1251.8 465.1L1240.2 465.1ZM1237.2 453.0L1248.8 453.0L1248.8 464.6L1237.2 464.6ZM1234.6 451.9L1246.2 451.9L1246.2 463.5L1234.6 463.5ZM1230.8 451.7L1242.4 451.7L1242.4 463.3L1230.8 463.3ZM1228.2 452.2L1239.8 452.2L1239.8 463.8L1228.2 463.8ZM1225.4 450.8L1237.0 450.8L1237.0 462.4L1225.4 462.4ZM1221.2 450.0L1232.8 450.0L1232.8 461.6L1221.2 461.6ZM1219.3 448.9L1230.9 448.9L1230.9 460.5L1219.3 460.5ZM1215.7 450.0L1227.3 450.0L1227.3 461.6L1215.7 461.6ZM1212.6 448.9L1224.2 448.9L1224.2 460.5L1212.6 460.5ZM1211.7 447.7L1223.3 447.7L1223.3 459.3L1211.7 459.3ZM1209.3 445.0L1220.9 445.0L1220.9 456.6L1209.3 456.6ZM1206.9 445.8L1218.5 445.8L1218.5 457.4L1206.9 457.4ZM1202.8 445.5L1214.4 445.5L1214.4 457.1L1202.8 457.1ZM1199.6 443.6L1211.2 443.6L1211.2 455.2L1199.6 455.2ZM1196.9 445.0L1208.5 445.0L1208.5 456.6L1196.9 456.6ZM1189.9 443.2L1201.5 443.2L1201.5 454.8L1189.9 454.8ZM1186.5 439.8L1198.1 439.8L1198.1 451.4L1186.5 451.4ZM1184.4 438.5L1196.0 438.5L1196.0 450.1L1184.4 450.1ZM1185.5 437.8L1197.1 437.8L1197.1 449.4L1185.5 449.4ZM1183.9 437.4L1195.5 437.4L1195.5 449.0L1183.9 449.0ZM1180.8 436.8L1192.4 436.8L1192.4 448.4L1180.8 448.4ZM1178.5 435.6L1190.1 435.6L1190.1 447.2L1178.5 447.2ZM1174.5 437.5L1186.1 437.5L1186.1 449.1L1174.5 449.1ZM1171.3 433.9L1182.9 433.9L1182.9 445.5L1171.3 445.5ZM1166.5 432.7L1178.1 432.7L1178.1 444.3L1166.5 444.3ZM1162.8 433.6L1174.4 433.6L1174.4 445.2L1162.8 445.2ZM1161.9 429.5L1173.5 429.5L1173.5 441.1L1161.9 441.1ZM1157.5 428.2L1169.1 428.2L1169.1 439.8L1157.5 439.8ZM1153.7 426.5L1165.3 426.5L1165.3 438.1L1153.7 438.1ZM1153.1 422.9L1164.7 422.9L1164.7 434.5L1153.1 434.5ZM1153.7 423.3L1165.3 423.3L1165.3 434.9L1153.7 434.9ZM1151.8 422.0L1163.4 422.0L1163.4 433.6L1151.8 433.6ZM1149.7 420.8L1161.3 420.8L1161.3 432.4L1149.7 432.4ZM1144.6 422.4L1156.2 422.4L1156.2 434.0L1144.6 434.0ZM1138.7 418.5L1150.3 418.5L1150.3 430.1L1138.7 430.1ZM1138.0 415.5L1149.6 415.5L1149.6 427.1L1138.0 427.1ZM1135.3 414.6L1146.9 414.6L1146.9 426.2L1135.3 426.2ZM1131.7 411.4L1143.3 411.4L1143.3 423.0L1131.7 423.0ZM1128.7 408.5L1140.3 408.5L1140.3 420.1L1128.7 420.1ZM1128.5 405.5L1140.1 405.5L1140.1 417.1L1128.5 417.1ZM1125.8 403.9L1137.4 403.9L1137.4 415.5L1125.8 415.5ZM1125.9 402.1L1137.5 402.1L1137.5 413.7L1125.9 413.7ZM1123.7 402.3L1135.3 402.3L1135.3 413.9L1123.7 413.9ZM1123.6 399.5L1135.2 399.5L1135.2 411.1L1123.6 411.1ZM1119.2 398.5L1130.8 398.5L1130.8 410.1L1119.2 410.1ZM1115.7 393.1L1127.3 393.1L1127.3 404.7L1115.7 404.7ZM1114.2 389.4L1125.8 389.4L1125.8 401.0L1114.2 401.0ZM1113.1 386.6L1124.7 386.6L1124.7 398.2L1113.1 398.2ZM1110.7 385.7L1122.3 385.7L1122.3 397.3L1110.7 397.3ZM1108.9 383.1L1120.5 383.1L1120.5 394.7L1108.9 394.7ZM1106.7 380.0L1118.3 380.0L1118.3 391.6L1106.7 391.6ZM1105.8 377.1L1117.4 377.1L1117.4 388.7L1105.8 388.7ZM1105.3 374.6L1116.9 374.6L1116.9 386.2L1105.3 386.2ZM1102.1 373.8L1113.7 373.8L1113.7 385.4L1102.1 385.4ZM1100.6 371.7L1112.2 371.7L1112.2 383.3L1100.6 383.3ZM1100.4 368.8L1112.0 368.8L1112.0 380.4L1100.4 380.4ZM1097.7 366.6L1109.3 366.6L1109.3 378.2L1097.7 378.2ZM1094.4 359.3L1106.0 359.3L1106.0 370.9L1094.4 370.9ZM1091.2 353.8L1102.8 353.8L1102.8 365.4L1091.2 365.4ZM1088.2 345.8L1099.8 345.8L1099.8 357.4L1088.2 357.4ZM1087.0 339.5L1098.6 339.5L1098.6 351.1L1087.0 351.1ZM1085.1 334.4L1096.7 334.4L1096.7 346.0L1085.1 346.0ZM1084.7 332.4L1096.3 332.4L1096.3 344.0L1084.7 344.0ZM1084.9 329.6L1096.5 329.6L1096.5 341.2L1084.9 341.2ZM1083.8 326.4L1095.4 326.4L1095.4 338.0L1083.8 338.0ZM1081.5 320.3L1093.1 320.3L1093.1 331.9L1081.5 331.9ZM1081.4 318.5L1093.0 318.5L1093.0 330.1L1081.4 330.1ZM1080.4 314.7L1092.0 314.7L1092.0 326.3L1080.4 326.3ZM1077.8 308.0L1089.4 308.0L1089.4 319.6L1077.8 319.6ZM1079.9 305.4L1091.5 305.4L1091.5 317.0L1079.9 317.0ZM1077.5 303.4L1089.1 303.4L1089.1 315.0L1077.5 315.0ZM1077.7 304.8L1089.3 304.8L1089.3 316.4L1077.7 316.4ZM1082.1 305.9L1093.7 305.9L1093.7 317.5L1082.1 317.5ZM1079.6 304.2L1091.2 304.2L1091.2 315.8L1079.6 315.8ZM1077.0 303.4L1088.6 303.4L1088.6 315.0L1077.0 315.0Z"/>
<rect fill="#ff0000" x="1083.3" y="509.6" width="11.4" height="11.4"/>
<polygon fill="#0000ff" points="1084.7,74.5 1082.7,76.1 1081.3,79.2 1081.3,87.5 1082.1,96.1 1083.1,98.1 1085.9,102.6 1086.1,102.9 1086.2,103.3 1086.4,103.6 1086.4,104.0 1086.5,104.4 1086.5,104.7 1086.5,105.1 1086.4,105.5 1086.3,105.8 1086.2,106.2 1084.6,110.3 1084.1,118.9 1084.6,127.8 1086.4,136.9 1086.5,137.3 1087.4,146.7 1088.8,156.0 1088.8,156.2 1089.4,161.9 1092.7,163.8 1093.1,164.0 1093.4,164.3 1093.7,164.5 1093.9,164.8 1094.2,165.1 1094.4,165.5 1094.5,165.8 1094.6,166.2 1094.7,166.5 1094.8,166.3 1095.0,166.0 1095.2,165.7 1095.5,165.4 1095.8,165.1 1096.1,164.9 1096.4,164.7 1096.8,164.5 1098.2,163.9 1096.4,157.0 1096.3,156.6 1095.0,147.8 1093.5,138.3 1093.5,137.9 1093.1,130.7 1091.8,124.4 1091.7,124.2 1090.3,115.1 1088.1,107.8 1088.0,107.4 1087.9,107.0 1087.9,106.6 1087.9,106.2 1088.0,105.8 1088.1,105.4 1088.2,105.0 1088.4,104.6 1088.6,104.3 1088.9,104.0 1089.2,103.7 1089.5,103.4 1089.8,103.2 1090.2,103.0 1090.5,102.8 1091.9,102.3 1090.5,98.6 1090.4,98.3 1090.3,97.9 1088.5,88.4 1088.4,88.1 1088.4,87.7 1088.4,79.1 1087.2,76.2"/>
<polygon fill="#0000ff" points="1094.4,169.1 1092.0,174.5 1092.9,182.8 1094.2,191.7 1096.4,198.0 1096.5,198.4 1096.6,198.9 1096.6,199.3 1096.6,205.7 1098.0,207.8 1098.1,208.2 1098.3,208.5 1098.4,208.8 1098.5,209.2 1100.4,218.5 1102.8,227.9 1102.8,227.9 1105.1,237.3 1107.4,246.5 1110.6,255.7 1114.2,263.9 1114.3,264.3 1118.0,275.4 1122.7,287.1 1122.7,287.1 1127.4,298.9 1132.1,310.6 1137.8,322.0 1141.7,327.7 1141.9,328.1 1142.1,328.4 1142.2,328.8 1142.3,329.2 1142.4,329.6 1142.9,334.4 1146.4,339.5 1153.2,348.6 1158.6,355.4 1166.5,364.3 1166.6,364.5 1175.7,375.4 1182.1,383.1 1192.4,387.1 1192.8,387.2 1193.1,387.4 1193.4,387.6 1193.7,387.9 1194.0,388.2 1194.3,388.5 1194.5,388.8 1199.8,398.1 1202.1,400.1 1208.2,402.6 1208.5,402.8 1208.8,402.9 1213.9,406.3 1220.5,407.9 1220.9,408.0 1227.1,410.3 1227.4,410.5 1227.8,410.7 1228.1,410.9 1228.4,411.1 1228.6,411.4 1228.9,411.7 1229.1,412.0 1229.3,412.3 1229.4,412.6 1231.4,417.6 1244.8,420.1 1245.2,420.2 1245.6,420.3 1245.9,420.4 1246.3,420.6 1246.6,420.9 1246.9,421.1 1247.1,421.4 1247.4,421.7 1247.6,422.0 1247.8,422.4 1247.9,422.7 1248.5,424.5 1272.8,427.0 1273.2,427.1 1273.6,427.2 1274.0,427.3 1274.3,427.5 1274.7,427.7 1275.0,427.9 1275.3,428.2 1278.8,431.8 1290.5,435.7 1305.7,439.9 1325.3,442.6 1325.7,442.7 1326.0,442.8 1326.4,443.0 1326.8,443.2 1327.1,443.4 1327.4,443.7 1327.7,443.9 1327.9,444.3 1328.2,444.6 1328.3,445.0 1328.5,445.3 1329.2,447.3 1330.8,447.7 1331.2,447.8 1331.6,447.9 1331.9,448.1 1332.3,448.3 1332.6,448.5 1336.2,451.6 1361.0,453.8 1382.5,454.5 1382.9,454.5 1383.3,454.6 1383.7,454.7 1384.1,454.9 1384.4,455.1 1384.8,455.3 1385.1,455.5 1385.4,455.8 1385.6,456.1 1385.8,456.5 1386.0,456.8 1386.2,457.2 1386.3,457.6 1387.1,460.8 1421.1,462.2 1421.4,462.2 1421.8,462.3 1422.2,462.4 1422.6,462.6 1422.9,462.7 1423.2,462.9 1423.5,463.2 1423.8,463.5 1424.1,463.8 1424.3,464.1 1424.5,464.4 1424.6,464.8 1425.2,466.3 1441.0,467.6 1449.3,467.5 1454.3,465.9 1454.7,465.8 1455.1,465.7 1455.5,465.7 1455.9,465.7 1456.3,465.8 1456.7,465.9 1465.4,468.7 1474.8,471.2 1511.7,472.3 1512.1,472.3 1512.5,472.4 1512.9,472.5 1513.3,472.7 1513.7,472.9 1514.0,473.1 1514.3,473.4 1519.8,478.4 1585.1,479.7 1585.1,479.7 1602.5,480.2 1602.9,480.2 1603.3,480.3 1603.7,480.4 1604.0,480.5 1604.4,480.7 1604.7,480.9 1605.0,481.1 1605.3,481.4 1605.5,481.7 1605.7,482.0 1605.9,482.3 1606.1,482.7 1606.2,483.1 1606.3,483.4 1606.4,483.8 1606.4,484.2 1606.4,484.5 1641.3,486.4 1713.6,486.4 1710.5,481.6 1702.5,481.6 1702.0,481.6 1701.6,481.5 1690.8,479.0 1679.9,478.5 1676.7,480.2 1676.4,480.3 1676.0,480.4 1675.6,480.5 1675.3,480.6 1674.9,480.6 1674.5,480.6 1674.1,480.5 1673.7,480.4 1673.4,480.3 1668.4,478.2 1661.1,475.6 1658.1,475.9 1653.0,480.2 1652.7,480.4 1652.3,480.6 1652.0,480.8 1651.6,480.9 1651.3,481.0 1650.9,481.1 1650.5,481.1 1650.1,481.1 1649.7,481.0 1649.4,481.0 1649.0,480.8 1648.6,480.7 1648.3,480.5 1648.0,480.3 1647.7,480.1 1647.4,479.8 1647.2,479.5 1643.3,474.2 1640.4,478.4 1640.1,478.7 1639.9,479.0 1639.6,479.2 1639.3,479.5 1638.9,479.7 1638.6,479.8 1638.2,479.9 1637.8,480.0 1637.4,480.1 1637.1,480.1 1636.7,480.1 1636.3,480.0 1635.9,479.9 1635.6,479.8 1635.2,479.6 1634.9,479.4 1630.5,476.5 1626.4,478.2 1626.0,478.3 1625.7,478.4 1625.3,478.5 1624.9,478.5 1624.5,478.5 1624.1,478.4 1623.7,478.3 1623.3,478.2 1623.0,478.0 1622.6,477.8 1620.0,476.0 1618.4,477.5 1618.1,477.7 1617.7,477.9 1617.4,478.1 1617.0,478.3 1616.6,478.4 1616.3,478.5 1615.9,478.5 1615.5,478.5 1615.1,478.5 1614.7,478.4 1614.3,478.3 1613.9,478.1 1613.6,477.9 1613.3,477.7 1613.0,477.4 1612.7,477.1 1612.5,476.8 1612.2,476.5 1610.1,472.8 1607.4,474.4 1607.0,474.6 1606.6,474.7 1606.2,474.8 1605.8,474.9 1605.4,474.9 1593.2,474.9 1592.8,474.9 1592.4,474.8 1592.0,474.7 1584.1,472.3 1579.8,471.5 1567.2,473.2 1566.8,473.2 1566.4,473.2 1566.0,473.1 1565.6,473.1 1565.3,472.9 1564.9,472.8 1551.3,466.0 1543.2,470.0 1542.8,470.1 1542.5,470.3 1542.1,470.3 1541.7,470.4 1541.3,470.4 1540.9,470.4 1540.6,470.3 1540.2,470.2 1539.8,470.1 1533.1,467.2 1519.9,469.3 1519.5,469.3 1519.1,469.3 1518.6,469.2 1518.2,469.1 1517.8,469.0 1506.7,464.5 1494.7,466.5 1494.3,466.6 1493.9,466.6 1493.5,466.6 1493.2,466.5 1492.8,466.4 1492.5,466.3 1492.1,466.1 1491.8,466.0 1491.5,465.7 1486.4,461.7 1484.6,463.4 1484.2,463.6 1483.9,463.9 1483.6,464.0 1483.2,464.2 1482.8,464.3 1482.4,464.4 1482.0,464.4 1481.6,464.4 1481.2,464.3 1480.8,464.3 1480.5,464.1 1480.1,464.0 1479.7,463.8 1479.4,463.5 1479.1,463.3 1478.8,463.0 1477.0,460.8 1472.7,461.5 1472.2,461.6 1471.8,461.6 1454.2,460.5 1453.8,460.4 1453.4,460.4 1453.0,460.3 1452.7,460.1 1452.3,459.9 1452.0,459.7 1448.2,456.9 1443.9,455.7 1429.4,458.6 1429.0,458.7 1428.6,458.7 1428.3,458.7 1427.9,458.6 1427.5,458.5 1427.1,458.4 1426.8,458.3 1415.0,452.3 1404.6,450.4 1396.5,454.4 1396.1,454.5 1395.8,454.7 1395.4,454.7 1395.0,454.8 1394.6,454.8 1394.2,454.8 1393.9,454.7 1393.5,454.6 1393.1,454.5 1392.8,454.3 1392.5,454.1 1392.2,453.9 1391.9,453.6 1386.7,448.5 1375.7,447.1 1375.3,447.0 1374.9,446.9 1361.3,442.1 1355.2,445.8 1354.8,446.0 1354.5,446.2 1354.1,446.3 1353.7,446.4 1353.3,446.4 1352.9,446.4 1352.5,446.3 1352.1,446.3 1351.7,446.1 1351.3,446.0 1350.9,445.8 1336.8,436.7 1334.6,438.8 1334.3,439.1 1334.0,439.3 1333.7,439.5 1333.3,439.7 1332.9,439.8 1332.5,439.9 1332.1,440.0 1331.7,440.0 1331.3,440.0 1330.9,439.9 1330.5,439.8 1330.2,439.7 1329.8,439.5 1329.5,439.3 1329.2,439.0 1324.4,434.9 1310.2,433.6 1309.9,433.5 1309.6,433.5 1298.2,430.7 1298.1,430.6 1288.2,427.8 1287.8,427.7 1287.5,427.5 1287.1,427.3 1286.8,427.1 1286.5,426.8 1277.9,418.2 1269.8,418.8 1269.4,418.8 1269.1,418.8 1268.7,418.7 1268.3,418.6 1268.0,418.5 1267.7,418.4 1261.0,414.9 1251.4,412.3 1251.1,412.1 1250.7,412.0 1250.4,411.8 1250.1,411.6 1249.8,411.3 1249.5,411.0 1241.6,402.1 1238.8,403.5 1238.4,403.6 1238.0,403.8 1237.6,403.8 1237.2,403.9 1236.8,403.9 1236.4,403.9 1236.0,403.8 1235.7,403.7 1235.3,403.5 1234.9,403.3 1234.6,403.1 1234.3,402.8 1234.0,402.5 1233.7,402.2 1227.6,393.7 1217.2,391.8 1216.8,391.8 1216.5,391.6 1216.2,391.5 1215.8,391.3 1215.5,391.1 1215.2,390.9 1215.0,390.6 1208.3,383.4 1205.2,384.5 1204.8,384.7 1204.5,384.7 1204.1,384.8 1203.7,384.8 1203.3,384.8 1202.9,384.7 1202.5,384.6 1202.2,384.5 1201.8,384.3 1201.5,384.1 1201.2,383.8 1200.9,383.6 1200.6,383.3 1191.2,371.2 1185.0,367.5 1178.2,364.7 1177.8,364.5 1177.5,364.3 1177.2,364.1 1176.9,363.8 1176.6,363.5 1176.4,363.2 1168.2,351.1 1161.8,346.2 1161.5,346.0 1161.2,345.7 1161.0,345.4 1160.8,345.1 1160.6,344.8 1154.6,332.6 1149.8,326.4 1149.5,326.0 1142.6,314.2 1142.5,314.0 1142.4,313.7 1137.7,302.0 1131.9,290.4 1131.8,290.1 1127.1,278.3 1122.3,266.5 1122.2,266.2 1122.1,265.9 1121.4,262.9 1118.7,253.7 1115.5,244.6 1112.2,238.2 1112.1,237.8 1111.9,237.3 1110.1,230.0 1107.3,220.6 1107.2,220.3 1107.1,220.0 1105.8,210.8 1103.8,203.2 1103.7,202.8 1103.7,202.4 1103.7,202.1 1103.7,201.7 1104.1,198.7 1101.5,189.0 1101.5,189.0 1099.2,179.9 1094.7,169.8 1094.5,169.5 1094.4,169.1"/>
<path fill="#0000ff" d="M1085.6 72.2L1093.3 84.8L1077.9 84.8ZM1086.8 71.2L1094.5 83.8L1079.1 83.8ZM1083.6 70.3L1091.3 82.9L1075.9 82.9ZM1083.8 72.3L1091.5 84.9L1076.1 84.9ZM1084.9 73.6L1092.6 86.2L1077.2 86.2ZM1085.3 77.5L1093.0 90.1L1077.6 90.1ZM1086.1 81.4L1093.8 94.0L1078.4 94.0ZM1087.9 82.8L1095.6 95.4L1080.2 95.4ZM1086.3 86.6L1094.0 99.2L1078.6 99.2ZM1088.4 88.2L1096.1 100.8L1080.7 100.8ZM1089.0 87.3L1096.7 99.9L1081.3 99.9ZM1089.3 89.5L1097.0 102.1L1081.6 102.1ZM1090.9 93.2L1098.6 105.8L1083.2 105.8ZM1086.3 103.7L1094.0 116.3L1078.6 116.3ZM1088.7 105.0L1096.4 117.6L1081.0 117.6ZM1087.7 110.4L1095.4 123.0L1080.0 123.0ZM1089.4 112.7L1097.1 125.3L1081.7 125.3ZM1088.3 114.6L1096.0 127.2L1080.6 127.2ZM1089.6 118.8L1097.3 131.4L1081.9 131.4ZM1089.6 120.3L1097.3 132.9L1081.9 132.9ZM1091.7 121.9L1099.4 134.5L1084.0 134.5ZM1090.4 125.8L1098.1 138.4L1082.7 138.4ZM1091.0 129.6L1098.7 142.2L1083.3 142.2ZM1090.9 132.3L1098.6 144.9L1083.2 144.9ZM1091.4 136.1L1099.1 148.7L1083.7 148.7ZM1091.6 138.7L1099.3 151.3L1083.9 151.3ZM1093.7 140.9L1101.4 153.5L1086.0 153.5ZM1093.4 144.0L1101.1 156.6L1085.7 156.6ZM1093.8 146.9L1101.5 159.5L1086.1 159.5ZM1093.3 150.6L1101.0 163.2L1085.6 163.2ZM1093.8 153.4L1101.5 166.0L1086.1 166.0ZM1096.5 151.7L1104.2 164.3L1088.8 164.3ZM1091.7 150.6L1099.4 163.2L1084.0 163.2ZM1096.6 164.6L1104.3 177.2L1088.9 177.2ZM1095.2 169.1L1102.9 181.7L1087.5 181.7ZM1096.8 168.6L1104.5 181.2L1089.1 181.2ZM1097.1 171.4L1104.8 184.0L1089.4 184.0ZM1097.1 173.3L1104.8 185.9L1089.4 185.9ZM1098.4 176.5L1106.1 189.1L1090.7 189.1ZM1098.5 178.7L1106.2 191.3L1090.8 191.3ZM1098.7 181.3L1106.4 193.9L1091.0 193.9ZM1100.7 184.2L1108.4 196.8L1093.0 196.8ZM1101.4 189.0L1109.1 201.6L1093.7 201.6ZM1100.7 194.0L1108.4 206.6L1093.0 206.6ZM1100.6 197.5L1108.3 210.1L1092.9 210.1ZM1102.1 196.6L1109.8 209.2L1094.4 209.2ZM1104.1 198.0L1111.8 210.6L1096.4 210.6ZM1104.4 205.3L1112.1 217.9L1096.7 217.9ZM1105.1 207.9L1112.8 220.5L1097.4 220.5ZM1106.4 210.2L1114.1 222.8L1098.7 222.8ZM1107.9 218.4L1115.6 231.0L1100.2 231.0ZM1109.3 222.3L1117.0 234.9L1101.6 234.9ZM1109.3 225.1L1117.0 237.7L1101.6 237.7ZM1110.9 228.0L1118.6 240.6L1103.2 240.6ZM1112.6 229.4L1120.3 242.0L1104.9 242.0ZM1111.4 233.1L1119.1 245.7L1103.7 245.7ZM1111.6 235.8L1119.3 248.4L1103.9 248.4ZM1113.9 237.9L1121.6 250.5L1106.2 250.5ZM1113.6 240.4L1121.3 253.0L1105.9 253.0ZM1115.5 243.5L1123.2 256.1L1107.8 256.1ZM1117.3 245.9L1125.0 258.5L1109.6 258.5ZM1116.9 248.2L1124.6 260.8L1109.2 260.8ZM1117.7 251.4L1125.4 264.0L1110.0 264.0ZM1118.8 253.8L1126.5 266.4L1111.1 266.4ZM1120.2 258.4L1127.9 271.0L1112.5 271.0ZM1121.2 261.2L1128.9 273.8L1113.5 273.8ZM1123.4 263.6L1131.1 276.2L1115.7 276.2ZM1125.2 265.5L1132.9 278.1L1117.5 278.1ZM1125.0 268.6L1132.7 281.2L1117.3 281.2ZM1125.3 270.5L1133.0 283.1L1117.6 283.1ZM1126.8 273.6L1134.5 286.2L1119.1 286.2ZM1129.7 276.9L1137.4 289.5L1122.0 289.5ZM1129.5 278.6L1137.2 291.2L1121.8 291.2ZM1130.8 283.0L1138.5 295.6L1123.1 295.6ZM1132.5 284.0L1140.2 296.6L1124.8 296.6ZM1134.3 287.1L1142.0 299.7L1126.6 299.7ZM1135.1 290.9L1142.8 303.5L1127.4 303.5ZM1134.2 294.6L1141.9 307.2L1126.5 307.2ZM1135.6 297.0L1143.3 309.6L1127.9 309.6ZM1136.5 298.6L1144.2 311.2L1128.8 311.2ZM1137.2 302.0L1144.9 314.6L1129.5 314.6ZM1140.2 303.1L1147.9 315.7L1132.5 315.7ZM1140.7 306.3L1148.4 318.9L1133.0 318.9ZM1143.4 307.9L1151.1 320.5L1135.7 320.5ZM1143.7 311.0L1151.4 323.6L1136.0 323.6ZM1143.6 313.7L1151.3 326.3L1135.9 326.3ZM1145.9 316.5L1153.6 329.1L1138.2 329.1ZM1149.6 323.4L1157.3 336.0L1141.9 336.0ZM1149.4 326.7L1157.1 339.3L1141.7 339.3ZM1148.8 325.6L1156.5 338.2L1141.1 338.2ZM1151.3 325.1L1159.0 337.7L1143.6 337.7ZM1150.5 328.5L1158.2 341.1L1142.8 341.1ZM1154.7 330.7L1162.4 343.3L1147.0 343.3ZM1156.7 332.4L1164.4 345.0L1149.0 345.0ZM1157.9 334.8L1165.6 347.4L1150.2 347.4ZM1159.8 336.9L1167.5 349.5L1152.1 349.5ZM1159.8 339.6L1167.5 352.2L1152.1 352.2ZM1163.2 341.9L1170.9 354.5L1155.5 354.5ZM1164.3 344.1L1172.0 356.7L1156.6 356.7ZM1166.0 347.4L1173.7 360.0L1158.3 360.0ZM1166.5 349.1L1174.2 361.7L1158.8 361.7ZM1170.0 351.6L1177.7 364.2L1162.3 364.2ZM1171.6 353.2L1179.3 365.8L1163.9 365.8ZM1172.8 355.8L1180.5 368.4L1165.1 368.4ZM1174.9 358.3L1182.6 370.9L1167.2 370.9ZM1177.5 361.4L1185.2 374.0L1169.8 374.0ZM1180.1 361.4L1187.8 374.0L1172.4 374.0ZM1180.7 365.8L1188.4 378.4L1173.0 378.4ZM1184.0 367.2L1191.7 379.8L1176.3 379.8ZM1186.2 369.3L1193.9 381.9L1178.5 381.9ZM1186.5 372.4L1194.2 385.0L1178.8 385.0ZM1185.1 371.4L1192.8 384.0L1177.4 384.0ZM1187.4 373.6L1195.1 386.2L1179.7 386.2ZM1190.2 373.1L1197.9 385.7L1182.5 385.7ZM1192.9 374.5L1200.6 387.1L1185.2 387.1ZM1201.8 379.5L1209.5 392.1L1194.1 392.1ZM1202.5 382.7L1210.2 395.3L1194.8 395.3ZM1204.0 386.3L1211.7 398.9L1196.3 398.9ZM1205.7 387.4L1213.4 400.0L1198.0 400.0ZM1205.8 386.1L1213.5 398.7L1198.1 398.7ZM1206.2 387.0L1213.9 399.6L1198.5 399.6ZM1206.9 390.4L1214.6 403.0L1199.2 403.0ZM1211.0 390.2L1218.7 402.8L1203.3 402.8ZM1214.7 392.1L1222.4 404.7L1207.0 404.7ZM1217.7 392.6L1225.4 405.2L1210.0 405.2ZM1216.3 394.0L1224.0 406.6L1208.6 406.6ZM1218.2 395.8L1225.9 408.4L1210.5 408.4ZM1221.3 397.4L1229.0 410.0L1213.6 410.0ZM1226.6 396.2L1234.3 408.8L1218.9 408.8ZM1230.6 399.0L1238.3 411.6L1222.9 411.6ZM1236.8 406.2L1244.5 418.8L1229.1 418.8ZM1237.1 409.1L1244.8 421.7L1229.4 421.7ZM1232.4 403.5L1240.1 416.1L1224.7 416.1ZM1234.1 405.8L1241.8 418.4L1226.4 418.4ZM1237.9 408.0L1245.6 420.6L1230.2 420.6ZM1239.1 408.5L1246.8 421.1L1231.4 421.1ZM1243.5 409.6L1251.2 422.2L1235.8 422.2ZM1250.5 408.0L1258.2 420.6L1242.8 420.6ZM1256.0 416.4L1263.7 429.0L1248.3 429.0ZM1248.3 412.5L1256.0 425.1L1240.6 425.1ZM1251.2 415.3L1258.9 427.9L1243.5 427.9ZM1254.6 414.9L1262.3 427.5L1246.9 427.5ZM1257.7 414.1L1265.4 426.7L1250.0 426.7ZM1259.5 414.0L1267.2 426.6L1251.8 426.6ZM1263.6 416.3L1271.3 428.9L1255.9 428.9ZM1266.1 416.7L1273.8 429.3L1258.4 429.3ZM1269.2 415.3L1276.9 427.9L1261.5 427.9ZM1271.9 416.3L1279.6 428.9L1264.2 428.9ZM1281.2 416.3L1288.9 428.9L1273.5 428.9ZM1283.9 419.2L1291.6 431.8L1276.2 431.8ZM1281.7 419.4L1289.4 432.0L1274.0 432.0ZM1283.5 421.1L1291.2 433.7L1275.8 433.7ZM1287.0 420.9L1294.7 433.5L1279.3 433.5ZM1289.1 423.3L1296.8 435.9L1281.4 435.9ZM1292.2 424.7L1299.9 437.3L1284.5 437.3ZM1294.4 424.5L1302.1 437.1L1286.7 437.1ZM1298.6 426.7L1306.3 439.3L1290.9 439.3ZM1301.4 427.5L1309.1 440.1L1293.7 440.1ZM1303.3 427.7L1311.0 440.3L1295.6 440.3ZM1306.9 427.9L1314.6 440.5L1299.2 440.5ZM1308.4 430.6L1316.1 443.2L1300.7 443.2ZM1311.0 431.0L1318.7 443.6L1303.3 443.6ZM1313.4 430.6L1321.1 443.2L1305.7 443.2ZM1316.6 431.7L1324.3 444.3L1308.9 444.3ZM1320.3 430.2L1328.0 442.8L1312.6 442.8ZM1324.1 430.2L1331.8 442.8L1316.4 442.8ZM1331.4 432.9L1339.1 445.5L1323.7 445.5ZM1334.2 437.2L1341.9 449.8L1326.5 449.8ZM1329.6 435.0L1337.3 447.6L1321.9 447.6ZM1337.8 435.7L1345.5 448.3L1330.1 448.3ZM1341.3 438.4L1349.0 451.0L1333.6 451.0ZM1338.8 438.6L1346.5 451.2L1331.1 451.2ZM1339.2 440.9L1346.9 453.5L1331.5 453.5ZM1341.6 442.5L1349.3 455.1L1333.9 455.1ZM1344.6 442.9L1352.3 455.5L1336.9 455.5ZM1348.8 443.3L1356.5 455.9L1341.1 455.9ZM1350.6 442.1L1358.3 454.7L1342.9 454.7ZM1353.4 443.6L1361.1 456.2L1345.7 456.2ZM1356.5 443.8L1364.2 456.4L1348.8 456.4ZM1359.2 442.5L1366.9 455.1L1351.5 455.1ZM1362.8 444.5L1370.5 457.1L1355.1 457.1ZM1366.2 443.9L1373.9 456.5L1358.5 456.5ZM1368.1 442.3L1375.8 454.9L1360.4 454.9ZM1371.1 443.1L1378.8 455.7L1363.4 455.7ZM1375.1 445.4L1382.8 458.0L1367.4 458.0ZM1378.1 444.7L1385.8 457.3L1370.4 457.3ZM1380.6 442.8L1388.3 455.4L1372.9 455.4ZM1391.4 448.0L1399.1 460.6L1383.7 460.6ZM1394.3 452.5L1402.0 465.1L1386.6 465.1ZM1389.4 448.7L1397.1 461.3L1381.7 461.3ZM1388.1 447.5L1395.8 460.1L1380.4 460.1ZM1391.5 449.4L1399.2 462.0L1383.8 462.0ZM1393.8 449.6L1401.5 462.2L1386.1 462.2ZM1396.3 452.2L1404.0 464.8L1388.6 464.8ZM1399.9 452.4L1407.6 465.0L1392.2 465.0ZM1403.5 452.0L1411.2 464.6L1395.8 464.6ZM1405.5 452.2L1413.2 464.8L1397.8 464.8ZM1408.4 451.6L1416.1 464.2L1400.7 464.2ZM1412.2 452.9L1419.9 465.5L1404.5 465.5ZM1414.4 452.7L1422.1 465.3L1406.7 465.3ZM1418.5 452.3L1426.2 464.9L1410.8 464.9ZM1431.2 458.4L1438.9 471.0L1423.5 471.0ZM1425.5 454.5L1433.2 467.1L1417.8 467.1ZM1427.6 456.8L1435.3 469.4L1419.9 469.4ZM1430.3 456.2L1438.0 468.8L1422.6 468.8ZM1433.8 455.9L1441.5 468.5L1426.1 468.5ZM1436.4 455.2L1444.1 467.8L1428.7 467.8ZM1440.2 455.6L1447.9 468.2L1432.5 468.2ZM1442.0 458.1L1449.7 470.7L1434.3 470.7ZM1444.3 456.5L1452.0 469.1L1436.6 469.1ZM1447.5 456.9L1455.2 469.5L1439.8 469.5ZM1448.7 456.8L1456.4 469.4L1441.0 469.4ZM1449.4 454.6L1457.1 467.2L1441.7 467.2ZM1456.7 455.5L1464.4 468.1L1449.0 468.1ZM1465.8 456.2L1473.5 468.8L1458.1 468.8ZM1467.5 455.8L1475.2 468.4L1459.8 468.4ZM1469.3 458.4L1477.0 471.0L1461.6 471.0ZM1474.1 458.1L1481.8 470.7L1466.4 470.7ZM1475.6 458.9L1483.3 471.5L1467.9 471.5ZM1476.1 462.4L1483.8 475.0L1468.4 475.0ZM1479.4 459.8L1487.1 472.4L1471.7 472.4ZM1481.9 462.0L1489.6 474.6L1474.2 474.6ZM1485.7 462.4L1493.4 475.0L1478.0 475.0ZM1489.4 462.7L1497.1 475.3L1481.7 475.3ZM1491.1 459.9L1498.8 472.5L1483.4 472.5ZM1493.9 462.6L1501.6 475.2L1486.2 475.2ZM1497.6 460.6L1505.3 473.2L1489.9 473.2ZM1500.5 461.9L1508.2 474.5L1492.8 474.5ZM1504.3 461.8L1512.0 474.4L1496.6 474.4ZM1507.3 463.3L1515.0 475.9L1499.6 475.9ZM1509.8 463.4L1517.5 476.0L1502.1 476.0ZM1519.4 463.8L1527.1 476.4L1511.7 476.4ZM1521.2 464.3L1528.9 476.9L1513.5 476.9ZM1523.5 467.6L1531.2 480.2L1515.8 480.2ZM1520.3 466.1L1528.0 478.7L1512.6 478.7ZM1522.0 468.2L1529.7 480.8L1514.3 480.8ZM1525.7 467.5L1533.4 480.1L1518.0 480.1ZM1528.8 469.3L1536.5 481.9L1521.1 481.9ZM1530.9 467.1L1538.6 479.7L1523.2 479.7ZM1534.9 467.1L1542.6 479.7L1527.2 479.7ZM1537.1 467.5L1544.8 480.1L1529.4 480.1ZM1540.6 468.0L1548.3 480.6L1532.9 480.6ZM1543.3 468.1L1551.0 480.7L1535.6 480.7ZM1546.3 469.8L1554.0 482.4L1538.6 482.4ZM1549.2 470.2L1556.9 482.8L1541.5 482.8ZM1552.6 469.7L1560.3 482.3L1544.9 482.3ZM1554.7 468.2L1562.4 480.8L1547.0 480.8ZM1558.3 469.9L1566.0 482.5L1550.6 482.5ZM1562.1 467.8L1569.8 480.4L1554.4 480.4ZM1564.1 469.3L1571.8 481.9L1556.4 481.9ZM1566.4 469.9L1574.1 482.5L1558.7 482.5ZM1571.1 469.6L1578.8 482.2L1563.4 482.2ZM1574.1 470.7L1581.8 483.3L1566.4 483.3ZM1575.4 470.7L1583.1 483.3L1567.7 483.3ZM1578.5 468.9L1586.2 481.5L1570.8 481.5ZM1583.2 468.9L1590.9 481.5L1575.5 481.5ZM1585.5 470.2L1593.2 482.8L1577.8 482.8ZM1588.1 470.8L1595.8 483.4L1580.4 483.4ZM1591.1 470.9L1598.8 483.5L1583.4 483.5ZM1594.9 470.0L1602.6 482.6L1587.2 482.6ZM1597.1 468.9L1604.8 481.5L1589.4 481.5ZM1600.0 468.9L1607.7 481.5L1592.3 481.5ZM1612.3 477.5L1620.0 490.1L1604.6 490.1ZM1611.7 475.1L1619.4 487.7L1604.0 487.7ZM1606.3 472.5L1614.0 485.1L1598.6 485.1ZM1608.6 472.8L1616.3 485.4L1600.9 485.4ZM1611.0 473.1L1618.7 485.7L1603.3 485.7ZM1615.1 474.4L1622.8 487.0L1607.4 487.0ZM1616.8 473.5L1624.5 486.1L1609.1 486.1ZM1620.2 475.7L1627.9 488.3L1612.5 488.3ZM1624.2 476.4L1631.9 489.0L1616.5 489.0ZM1626.6 476.3L1634.3 488.9L1618.9 488.9ZM1630.0 476.5L1637.7 489.1L1622.3 489.1ZM1631.7 475.8L1639.4 488.4L1624.0 488.4ZM1635.4 475.1L1643.1 487.7L1627.7 487.7ZM1638.0 476.7L1645.7 489.3L1630.3 489.3ZM1640.9 476.3L1648.6 488.9L1633.2 488.9ZM1643.3 476.5L1651.0 489.1L1635.6 489.1ZM1647.5 476.1L1655.2 488.7L1639.8 488.7ZM1649.5 476.8L1657.2 489.4L1641.8 489.4ZM1652.2 476.8L1659.9 489.4L1644.5 489.4ZM1656.4 477.8L1664.1 490.4L1648.7 490.4ZM1659.2 475.1L1666.9 487.7L1651.5 487.7ZM1661.6 477.3L1669.3 489.9L1653.9 489.9ZM1665.3 477.6L1673.0 490.2L1657.6 490.2ZM1667.5 476.3L1675.2 488.9L1659.8 488.9ZM1671.0 477.6L1678.7 490.2L1663.3 490.2ZM1673.4 476.8L1681.1 489.4L1665.7 489.4ZM1677.6 477.5L1685.3 490.1L1669.9 490.1ZM1680.3 476.6L1688.0 489.2L1672.6 489.2ZM1682.6 477.0L1690.3 489.6L1674.9 489.6ZM1686.5 477.7L1694.2 490.3L1678.8 490.3ZM1689.0 476.8L1696.7 489.4L1681.3 489.4ZM1691.3 477.0L1699.0 489.6L1683.6 489.6ZM1694.4 477.0L1702.1 489.6L1686.7 489.6ZM1697.1 476.5L1704.8 489.1L1689.4 489.1ZM1701.5 475.3L1709.2 487.9L1693.8 487.9ZM1704.7 477.4L1712.4 490.0L1697.0 490.0ZM1707.5 477.2L1715.2 489.8L1699.8 489.8ZM1710.3 476.8L1718.0 489.4L1702.6 489.4ZM1713.4 477.0L1721.1 489.6L1705.7 489.6ZM1710.6 479.3L1718.3 491.9L1702.9 491.9ZM1710.6 476.2L1718.3 488.8L1702.9 488.8ZM1710.1 476.6L1717.8 489.2L1702.4 489.2ZM1706.7 479.4L1714.4 492.0L1699.0 492.0ZM1701.9 479.8L1709.6 492.4L1694.2 492.4ZM1697.9 476.7L1705.6 489.3L1690.2 489.3ZM1694.8 476.0L1702.5 488.6L1687.1 488.6ZM1693.3 475.8L1701.0 488.4L1685.6 488.4ZM1690.0 476.2L1697.7 488.8L1682.3 488.8ZM1687.5 475.1L1695.2 487.7L1679.8 487.7ZM1684.9 475.3L1692.6 487.9L1677.2 487.9ZM1681.0 475.9L1688.7 488.5L1673.3 488.5ZM1680.6 475.1L1688.3 487.7L1672.9 487.7ZM1679.7 474.3L1687.4 486.9L1672.0 486.9ZM1672.7 478.0L1680.4 490.6L1665.0 490.6ZM1668.9 475.2L1676.6 487.8L1661.2 487.8ZM1666.4 473.4L1674.1 486.0L1658.7 486.0ZM1663.2 473.2L1670.9 485.8L1655.5 485.8ZM1660.5 473.5L1668.2 486.1L1652.8 486.1ZM1660.4 472.1L1668.1 484.7L1652.7 484.7ZM1658.9 472.1L1666.6 484.7L1651.2 484.7ZM1659.2 473.5L1666.9 486.1L1651.5 486.1ZM1655.8 472.9L1663.5 485.5L1648.1 485.5ZM1646.3 475.6L1654.0 488.2L1638.6 488.2ZM1645.5 470.5L1653.2 483.1L1637.8 483.1ZM1643.2 467.4L1650.9 480.0L1635.5 480.0ZM1652.3 474.6L1660.0 487.2L1644.6 487.2ZM1646.2 467.9L1653.9 480.5L1638.5 480.5ZM1642.6 468.4L1650.3 481.0L1634.9 481.0ZM1641.5 473.4L1649.2 486.0L1633.8 486.0ZM1632.0 472.9L1639.7 485.5L1624.3 485.5ZM1629.3 471.4L1637.0 484.0L1621.6 484.0ZM1632.5 473.7L1640.2 486.3L1624.8 486.3ZM1629.2 472.8L1636.9 485.4L1621.5 485.4ZM1625.9 474.3L1633.6 486.9L1618.2 486.9ZM1619.3 470.7L1627.0 483.3L1611.6 483.3ZM1618.5 470.8L1626.2 483.4L1610.8 483.4ZM1620.6 471.4L1628.3 484.0L1612.9 484.0ZM1614.0 474.1L1621.7 486.7L1606.3 486.7ZM1611.0 467.3L1618.7 479.9L1603.3 479.9ZM1603.1 469.3L1610.8 481.9L1595.4 481.9ZM1612.6 466.9L1620.3 479.5L1604.9 479.5ZM1611.5 470.2L1619.2 482.8L1603.8 482.8ZM1607.3 472.5L1615.0 485.1L1599.6 485.1ZM1603.0 472.0L1610.7 484.6L1595.3 484.6ZM1598.7 471.7L1606.4 484.3L1591.0 484.3ZM1591.3 470.9L1599.0 483.5L1583.6 483.5ZM1588.1 469.6L1595.8 482.2L1580.4 482.2ZM1584.9 470.3L1592.6 482.9L1577.2 482.9ZM1582.9 468.9L1590.6 481.5L1575.2 481.5ZM1580.0 468.4L1587.7 481.0L1572.3 481.0ZM1579.6 467.7L1587.3 480.3L1571.9 480.3ZM1577.3 469.9L1585.0 482.5L1569.6 482.5ZM1574.6 471.1L1582.3 483.7L1566.9 483.7ZM1570.4 468.8L1578.1 481.4L1562.7 481.4ZM1563.1 471.0L1570.8 483.6L1555.4 483.6ZM1561.4 468.0L1569.1 480.6L1553.7 480.6ZM1559.2 465.6L1566.9 478.2L1551.5 478.2ZM1555.7 466.5L1563.4 479.1L1548.0 479.1ZM1553.8 463.1L1561.5 475.7L1546.1 475.7ZM1551.1 461.9L1558.8 474.5L1543.4 474.5ZM1552.5 461.2L1560.2 473.8L1544.8 473.8ZM1551.0 461.7L1558.7 474.3L1543.3 474.3ZM1547.5 463.5L1555.2 476.1L1539.8 476.1ZM1544.2 468.4L1551.9 481.0L1536.5 481.0ZM1537.8 466.0L1545.5 478.6L1530.1 478.6ZM1533.9 464.3L1541.6 476.9L1526.2 476.9ZM1531.8 465.4L1539.5 478.0L1524.1 478.0ZM1531.5 463.8L1539.2 476.4L1523.8 476.4ZM1528.7 463.9L1536.4 476.5L1521.0 476.5ZM1525.9 464.9L1533.6 477.5L1518.2 477.5ZM1522.6 464.8L1530.3 477.4L1514.9 477.4ZM1520.2 466.0L1527.9 478.6L1512.5 478.6ZM1513.8 465.3L1521.5 477.9L1506.1 477.9ZM1512.3 462.5L1520.0 475.1L1504.6 475.1ZM1509.4 461.4L1517.1 474.0L1501.7 474.0ZM1506.2 461.4L1513.9 474.0L1498.5 474.0ZM1506.8 461.1L1514.5 473.7L1499.1 473.7ZM1504.1 461.8L1511.8 474.4L1496.4 474.4ZM1501.2 462.9L1508.9 475.5L1493.5 475.5ZM1498.4 463.6L1506.1 476.2L1490.7 476.2ZM1489.2 461.8L1496.9 474.4L1481.5 474.4ZM1488.3 459.3L1496.0 471.9L1480.6 471.9ZM1485.5 455.9L1493.2 468.5L1477.8 468.5ZM1487.3 456.6L1495.0 469.2L1479.6 469.2ZM1489.1 456.1L1496.8 468.7L1481.4 468.7ZM1480.1 459.8L1487.8 472.4L1472.4 472.4ZM1476.1 455.6L1483.8 468.2L1468.4 468.2ZM1476.6 459.4L1484.3 472.0L1468.9 472.0ZM1476.0 456.9L1483.7 469.5L1468.3 469.5ZM1472.8 457.7L1480.5 470.3L1465.1 470.3ZM1468.0 457.7L1475.7 470.3L1460.3 470.3ZM1465.4 458.1L1473.1 470.7L1457.7 470.7ZM1462.8 458.2L1470.5 470.8L1455.1 470.8ZM1460.1 458.4L1467.8 471.0L1452.4 471.0ZM1456.5 458.8L1464.2 471.4L1448.8 471.4ZM1451.1 454.6L1458.8 467.2L1443.4 467.2ZM1448.0 452.4L1455.7 465.0L1440.3 465.0ZM1446.6 453.6L1454.3 466.2L1438.9 466.2ZM1445.1 453.1L1452.8 465.7L1437.4 465.7ZM1443.9 452.8L1451.6 465.4L1436.2 465.4ZM1442.3 453.3L1450.0 465.9L1434.6 465.9ZM1439.2 454.7L1446.9 467.3L1431.5 467.3ZM1436.4 454.1L1444.1 466.7L1428.7 466.7ZM1434.2 455.5L1441.9 468.1L1426.5 468.1ZM1430.4 456.9L1438.1 469.5L1422.7 469.5ZM1423.0 453.3L1430.7 465.9L1415.3 465.9ZM1420.5 452.0L1428.2 464.6L1412.8 464.6ZM1418.8 450.0L1426.5 462.6L1411.1 462.6ZM1415.3 448.5L1423.0 461.1L1407.6 461.1ZM1413.7 449.0L1421.4 461.6L1406.0 461.6ZM1410.1 448.9L1417.8 461.5L1402.4 461.5ZM1408.8 448.7L1416.5 461.3L1401.1 461.3ZM1405.6 446.7L1413.3 459.3L1397.9 459.3ZM1405.5 448.6L1413.2 461.2L1397.8 461.2ZM1403.3 447.6L1411.0 460.2L1395.6 460.2ZM1400.6 449.1L1408.3 461.7L1392.9 461.7ZM1399.3 450.5L1407.0 463.1L1391.6 463.1ZM1388.4 446.9L1396.1 459.5L1380.7 459.5ZM1387.5 445.0L1395.2 457.6L1379.8 457.6ZM1386.1 443.1L1393.8 455.7L1378.4 455.7ZM1385.7 447.2L1393.4 459.8L1378.0 459.8ZM1381.8 444.8L1389.5 457.4L1374.1 457.4ZM1378.8 445.2L1386.5 457.8L1371.1 457.8ZM1376.2 443.5L1383.9 456.1L1368.5 456.1ZM1372.0 442.9L1379.7 455.5L1364.3 455.5ZM1369.6 441.1L1377.3 453.7L1361.9 453.7ZM1366.0 441.2L1373.7 453.8L1358.3 453.8ZM1364.3 439.1L1372.0 451.7L1356.6 451.7ZM1359.6 440.4L1367.3 453.0L1351.9 453.0ZM1363.2 439.2L1370.9 451.8L1355.5 451.8ZM1360.5 438.7L1368.2 451.3L1352.8 451.3ZM1358.3 440.3L1366.0 452.9L1350.6 452.9ZM1348.9 439.9L1356.6 452.5L1341.2 452.5ZM1346.3 438.2L1354.0 450.8L1338.6 450.8ZM1344.2 438.3L1351.9 450.9L1336.5 450.9ZM1340.1 437.0L1347.8 449.6L1332.4 449.6ZM1338.3 434.8L1346.0 447.4L1330.6 447.4ZM1336.4 432.3L1344.1 444.9L1328.7 444.9ZM1334.5 432.1L1342.2 444.7L1326.8 444.7ZM1339.0 430.9L1346.7 443.5L1331.3 443.5ZM1337.4 435.2L1345.1 447.8L1329.7 447.8ZM1325.0 431.5L1332.7 444.1L1317.3 444.1ZM1323.3 431.9L1331.0 444.5L1315.6 444.5ZM1322.7 433.2L1330.4 445.8L1315.0 445.8ZM1320.2 432.7L1327.9 445.3L1312.5 445.3ZM1315.7 432.4L1323.4 445.0L1308.0 445.0ZM1314.4 430.7L1322.1 443.3L1306.7 443.3ZM1311.5 430.3L1319.2 442.9L1303.8 442.9ZM1307.1 428.9L1314.8 441.5L1299.4 441.5ZM1303.6 430.2L1311.3 442.8L1295.9 442.8ZM1300.7 427.7L1308.4 440.3L1293.0 440.3ZM1298.8 426.8L1306.5 439.4L1291.1 439.4ZM1294.5 425.9L1302.2 438.5L1286.8 438.5ZM1292.1 425.1L1299.8 437.7L1284.4 437.7ZM1289.0 424.0L1296.7 436.6L1281.3 436.6ZM1284.8 421.0L1292.5 433.6L1277.1 433.6ZM1283.0 418.1L1290.7 430.7L1275.3 430.7ZM1278.8 417.5L1286.5 430.1L1271.1 430.1ZM1279.3 414.0L1287.0 426.6L1271.6 426.6ZM1276.7 412.7L1284.4 425.3L1269.0 425.3ZM1277.0 414.3L1284.7 426.9L1269.3 426.9ZM1275.6 415.5L1283.3 428.1L1267.9 428.1ZM1271.7 414.9L1279.4 427.5L1264.0 427.5ZM1265.2 413.4L1272.9 426.0L1257.5 426.0ZM1262.2 411.4L1269.9 424.0L1254.5 424.0ZM1260.6 410.6L1268.3 423.2L1252.9 423.2ZM1258.5 413.0L1266.2 425.6L1250.8 425.6ZM1254.5 411.0L1262.2 423.6L1246.8 423.6ZM1252.3 410.1L1260.0 422.7L1244.6 422.7ZM1248.9 405.8L1256.6 418.4L1241.2 418.4ZM1246.7 402.5L1254.4 415.1L1239.0 415.1ZM1244.1 400.4L1251.8 413.0L1236.4 413.0ZM1242.6 398.0L1250.3 410.6L1234.9 410.6ZM1237.7 397.2L1245.4 409.8L1230.0 409.8ZM1242.7 398.6L1250.4 411.2L1235.0 411.2ZM1242.8 398.6L1250.5 411.2L1235.1 411.2ZM1233.1 396.4L1240.8 409.0L1225.4 409.0ZM1230.3 393.0L1238.0 405.6L1222.6 405.6ZM1229.3 389.8L1237.0 402.4L1221.6 402.4ZM1227.0 389.5L1234.7 402.1L1219.3 402.1ZM1227.1 389.6L1234.8 402.2L1219.4 402.2ZM1225.4 389.4L1233.1 402.0L1217.7 402.0ZM1221.9 391.6L1229.6 404.2L1214.2 404.2ZM1219.7 388.9L1227.4 401.5L1212.0 401.5ZM1212.1 386.5L1219.8 399.1L1204.4 399.1ZM1211.5 382.8L1219.2 395.4L1203.8 395.4ZM1209.1 381.0L1216.8 393.6L1201.4 393.6ZM1206.0 378.9L1213.7 391.5L1198.3 391.5ZM1207.7 379.3L1215.4 391.9L1200.0 391.9ZM1208.8 380.7L1216.5 393.3L1201.1 393.3ZM1200.3 378.1L1208.0 390.7L1192.6 390.7ZM1197.0 375.6L1204.7 388.2L1189.3 388.2ZM1197.3 372.5L1205.0 385.1L1189.6 385.1ZM1193.2 371.9L1200.9 384.5L1185.5 384.5ZM1192.7 367.5L1200.4 380.1L1185.0 380.1ZM1191.1 365.4L1198.8 378.0L1183.4 378.0ZM1188.6 366.4L1196.3 379.0L1180.9 379.0ZM1186.0 364.0L1193.7 376.6L1178.3 376.6ZM1184.5 363.4L1192.2 376.0L1176.8 376.0ZM1182.0 363.0L1189.7 375.6L1174.3 375.6ZM1179.7 362.0L1187.4 374.6L1172.0 374.6ZM1175.6 359.5L1183.3 372.1L1167.9 372.1ZM1173.9 353.3L1181.6 365.9L1166.2 365.9ZM1170.7 352.6L1178.4 365.2L1163.0 365.2ZM1169.6 348.9L1177.3 361.5L1161.9 361.5ZM1167.2 347.4L1174.9 360.0L1159.5 360.0ZM1166.6 346.1L1174.3 358.7L1158.9 358.7ZM1164.4 343.9L1172.1 356.5L1156.7 356.5ZM1162.1 343.4L1169.8 356.0L1154.4 356.0ZM1159.0 338.3L1166.7 350.9L1151.3 350.9ZM1158.5 335.5L1166.2 348.1L1150.8 348.1ZM1155.7 332.8L1163.4 345.4L1148.0 345.4ZM1155.8 329.9L1163.5 342.5L1148.1 342.5ZM1154.2 328.3L1161.9 340.9L1146.5 340.9ZM1151.5 326.0L1159.2 338.6L1143.8 338.6ZM1151.1 322.9L1158.8 335.5L1143.4 335.5ZM1147.9 320.7L1155.6 333.3L1140.2 333.3ZM1147.8 318.1L1155.5 330.7L1140.1 330.7ZM1147.1 314.9L1154.8 327.5L1139.4 327.5ZM1145.4 312.2L1153.1 324.8L1137.7 324.8ZM1141.1 310.2L1148.8 322.8L1133.4 322.8ZM1141.7 307.3L1149.4 319.9L1134.0 319.9ZM1137.9 305.5L1145.6 318.1L1130.2 318.1ZM1137.1 302.3L1144.8 314.9L1129.4 314.9ZM1137.0 297.8L1144.7 310.4L1129.3 310.4ZM1137.1 295.2L1144.8 307.8L1129.4 307.8ZM1135.2 294.5L1142.9 307.1L1127.5 307.1ZM1134.8 290.8L1142.5 303.4L1127.1 303.4ZM1131.7 288.6L1139.4 301.2L1124.0 301.2ZM1131.1 285.6L1138.8 298.2L1123.4 298.2ZM1130.0 281.8L1137.7 294.4L1122.3 294.4ZM1129.1 279.4L1136.8 292.0L1121.4 292.0ZM1128.1 277.1L1135.8 289.7L1120.4 289.7ZM1124.7 275.3L1132.4 287.9L1117.0 287.9ZM1125.2 272.2L1132.9 284.8L1117.5 284.8ZM1125.0 269.0L1132.7 281.6L1117.3 281.6ZM1122.3 265.2L1130.0 277.8L1114.6 277.8ZM1120.9 262.7L1128.6 275.3L1113.2 275.3ZM1118.3 260.0L1126.0 272.6L1110.6 272.6ZM1119.4 257.5L1127.1 270.1L1111.7 270.1ZM1117.6 251.8L1125.3 264.4L1109.9 264.4ZM1116.1 248.3L1123.8 260.9L1108.4 260.9ZM1116.5 245.0L1124.2 257.6L1108.8 257.6ZM1114.3 243.6L1122.0 256.2L1106.6 256.2ZM1113.3 239.9L1121.0 252.5L1105.6 252.5ZM1112.8 237.6L1120.5 250.2L1105.1 250.2ZM1113.5 235.5L1121.2 248.1L1105.8 248.1ZM1111.7 232.5L1119.4 245.1L1104.0 245.1ZM1108.4 228.2L1116.1 240.8L1100.7 240.8ZM1108.5 224.9L1116.2 237.5L1100.8 237.5ZM1105.9 220.7L1113.6 233.3L1098.2 233.3ZM1104.1 214.4L1111.8 227.0L1096.4 227.0ZM1101.7 205.6L1109.4 218.2L1094.0 218.2ZM1101.9 202.9L1109.6 215.5L1094.2 215.5ZM1098.5 193.2L1106.2 205.8L1090.8 205.8ZM1099.4 192.7L1107.1 205.3L1091.7 205.3ZM1099.1 190.8L1106.8 203.4L1091.4 203.4ZM1101.2 188.5L1108.9 201.1L1093.5 201.1ZM1098.5 184.4L1106.2 197.0L1090.8 197.0ZM1099.1 182.7L1106.8 195.3L1091.4 195.3ZM1098.3 179.7L1106.0 192.3L1090.6 192.3ZM1096.2 177.1L1103.9 189.7L1088.5 189.7ZM1097.2 174.3L1104.9 186.9L1089.5 186.9ZM1097.1 171.8L1104.8 184.4L1089.4 184.4ZM1095.3 168.9L1103.0 181.5L1087.6 181.5ZM1094.9 165.8L1102.6 178.4L1087.2 178.4ZM1092.3 151.4L1100.0 164.0L1084.6 164.0ZM1093.5 153.6L1101.2 166.2L1085.8 166.2ZM1093.0 150.5L1100.7 163.1L1085.3 163.1ZM1091.7 148.2L1099.4 160.8L1084.0 160.8ZM1092.0 144.1L1099.7 156.7L1084.3 156.7ZM1092.0 142.0L1099.7 154.6L1084.3 154.6ZM1091.7 137.8L1099.4 150.4L1084.0 150.4ZM1089.4 135.5L1097.1 148.1L1081.7 148.1ZM1089.7 131.6L1097.4 144.2L1082.0 144.2ZM1089.7 128.5L1097.4 141.1L1082.0 141.1ZM1088.3 126.3L1096.0 138.9L1080.6 138.9ZM1089.4 124.4L1097.1 137.0L1081.7 137.0ZM1090.0 120.5L1097.7 133.1L1082.3 133.1ZM1087.3 118.9L1095.0 131.5L1079.6 131.5ZM1087.1 109.3L1094.8 121.9L1079.4 121.9ZM1087.5 107.2L1095.2 119.8L1079.8 119.8ZM1087.2 104.1L1094.9 116.7L1079.5 116.7ZM1090.5 91.6L1098.2 104.2L1082.8 104.2ZM1086.9 99.8L1094.6 112.4L1079.2 112.4ZM1088.4 93.4L1096.1 106.0L1080.7 106.0ZM1086.9 89.9L1094.6 102.5L1079.2 102.5ZM1085.1 86.9L1092.8 99.5L1077.4 99.5ZM1086.2 84.1L1093.9 96.7L1078.5 96.7ZM1084.2 79.4L1091.9 92.0L1076.5 92.0ZM1084.5 76.8L1092.2 89.4L1076.8 89.4ZM1083.2 73.6L1090.9 86.2L1075.5 86.2ZM1085.4 73.3L1093.1 85.9L1077.7 85.9ZM1086.5 70.5L1094.2 83.1L1078.8 83.1ZM1084.4 73.1L1092.1 85.7L1076.7 85.7Z"/>
<polygon fill="#0000ff" points="1084.0,58.5 1075.8,70.6 1092.2,70.6"/>
<polygon fill="#0000ff" points="1085.2,70.1 1077.5,82.7 1092.9,82.7"/>
<polygon fill="#0000ff" points="1087.2,471.4 1079.5,484.5 1095.0,484.5"/>
<polygon fill="#0000ff" points="1161.7,507.2 1154.0,520.0 1169.5,520.0"/>
<line x1="1060.4" y1="323.5" x2="1753.9" y2="323.5" stroke="#ff0000" stroke-width="4.3" stroke-dasharray="14.1 4.85"/>
<line x1="1057.00" y1="25.35" x2="1057.00" y2="521.25" stroke="#000" stroke-width="2.50"/>
<line x1="1763.60" y1="25.35" x2="1763.60" y2="521.25" stroke="#000" stroke-width="2.50"/>
<line x1="1055.75" y1="26.50" x2="1764.85" y2="26.50" stroke="#000" stroke-width="2.30"/>
<line x1="1055.75" y1="520.10" x2="1764.85" y2="520.10" stroke="#000" stroke-width="2.30"/>
<line x1="1046.00" y1="515.10" x2="1057.00" y2="515.10" stroke="#000" stroke-width="2.00"/>
<line x1="1051.00" y1="467.18" x2="1057.00" y2="467.18" stroke="#000" stroke-width="2.00"/>
<line x1="1046.00" y1="419.26" x2="1057.00" y2="419.26" stroke="#000" stroke-width="2.00"/>
<line x1="1051.00" y1="371.34" x2="1057.00" y2="371.34" stroke="#000" stroke-width="2.00"/>
<line x1="1046.00" y1="323.42" x2="1057.00" y2="323.42" stroke="#000" stroke-width="2.00"/>
<line x1="1051.00" y1="275.50" x2="1057.00" y2="275.50" stroke="#000" stroke-width="2.00"/>
<line x1="1046.00" y1="227.58" x2="1057.00" y2="227.58" stroke="#000" stroke-width="2.00"/>
<line x1="1051.00" y1="179.66" x2="1057.00" y2="179.66" stroke="#000" stroke-width="2.00"/>
<line x1="1046.00" y1="131.74" x2="1057.00" y2="131.74" stroke="#000" stroke-width="2.00"/>
<line x1="1051.00" y1="83.82" x2="1057.00" y2="83.82" stroke="#000" stroke-width="2.00"/>
<line x1="1046.00" y1="35.90" x2="1057.00" y2="35.90" stroke="#000" stroke-width="2.00"/>
<line x1="1058.30" y1="520.00" x2="1058.30" y2="530.50" stroke="#000" stroke-width="2.00"/>
<line x1="1122.43" y1="520.00" x2="1122.43" y2="525.50" stroke="#000" stroke-width="2.00"/>
<line x1="1186.56" y1="520.00" x2="1186.56" y2="530.50" stroke="#000" stroke-width="2.00"/>
<line x1="1250.69" y1="520.00" x2="1250.69" y2="525.50" stroke="#000" stroke-width="2.00"/>
<line x1="1314.82" y1="520.00" x2="1314.82" y2="530.50" stroke="#000" stroke-width="2.00"/>
<line x1="1378.95" y1="520.00" x2="1378.95" y2="525.50" stroke="#000" stroke-width="2.00"/>
<line x1="1443.08" y1="520.00" x2="1443.08" y2="530.50" stroke="#000" stroke-width="2.00"/>
<line x1="1507.21" y1="520.00" x2="1507.21" y2="525.50" stroke="#000" stroke-width="2.00"/>
<line x1="1571.34" y1="520.00" x2="1571.34" y2="530.50" stroke="#000" stroke-width="2.00"/>
<line x1="1635.47" y1="520.00" x2="1635.47" y2="525.50" stroke="#000" stroke-width="2.00"/>
<line x1="1699.60" y1="520.00" x2="1699.60" y2="530.50" stroke="#000" stroke-width="2.00"/>
<line x1="1763.73" y1="520.00" x2="1763.73" y2="525.50" stroke="#000" stroke-width="2.00"/>
<text transform="translate(941.80,524.60) scale(1.0270,1)" font-family="'Liberation Sans', Arial, Helvetica, sans-serif" font-size="38.00" font-weight="bold" fill="#000">0.000</text>
<text transform="translate(941.80,428.76) scale(1.0270,1)" font-family="'Liberation Sans', Arial, Helvetica, sans-serif" font-size="38.00" font-weight="bold" fill="#000">0.002</text>
<text transform="translate(940.23,332.92) scale(1.0270,1)" font-family="'Liberation Sans', Arial, Helvetica, sans-serif" font-size="38.00" font-weight="bold" fill="#000">0.004</text>
<text transform="translate(941.41,237.08) scale(1.0270,1)" font-family="'Liberation Sans', Arial, Helvetica, sans-serif" font-size="38.00" font-weight="bold" fill="#000">0.006</text>
<text transform="translate(941.41,141.24) scale(1.0270,1)" font-family="'Liberation Sans', Arial, Helvetica, sans-serif" font-size="38.00" font-weight="bold" fill="#000">0.008</text>
<text transform="translate(941.80,45.40) scale(1.0270,1)" font-family="'Liberation Sans', Arial, Helvetica, sans-serif" font-size="38.00" font-weight="bold" fill="#000" clip-path="url(#c7)">0.010</text>
<text transform="translate(1045.32,567.90) scale(1.0600,1)" font-family="'Liberation Sans', Arial, Helvetica, sans-serif" font-size="41.80" font-weight="bold" fill="#000">0</text>
<text transform="translate(1160.33,567.90) scale(1.0600,1)" font-family="'Liberation Sans', Arial, Helvetica, sans-serif" font-size="41.80" font-weight="bold" fill="#000" clip-path="url(#c8)" letter-spacing="0.755">10</text>
<text transform="translate(1289.25,567.90) scale(1.0600,1)" font-family="'Liberation Sans', Arial, Helvetica, sans-serif" font-size="41.80" font-weight="bold" fill="#000" letter-spacing="0.755">20</text>
<text transform="translate(1417.73,567.90) scale(1.0600,1)" font-family="'Liberation Sans', Arial, Helvetica, sans-serif" font-size="41.80" font-weight="bold" fill="#000" letter-spacing="0.755">30</text>
<text transform="translate(1545.99,567.90) scale(1.0600,1)" font-family="'Liberation Sans', Arial, Helvetica, sans-serif" font-size="41.80" font-weight="bold" fill="#000" letter-spacing="0.755">40</text>
<text transform="translate(1674.03,567.90) scale(1.0600,1)" font-family="'Liberation Sans', Arial, Helvetica, sans-serif" font-size="41.80" font-weight="bold" fill="#000" letter-spacing="0.755">50</text>
<text transform="translate(1242.30,618.60) scale(0.9850,1)" font-family="'Liberation Sans', Arial, Helvetica, sans-serif" font-size="43.50" font-weight="bold" fill="#000" letter-spacing="1.135">Luminance [nit]</text>
<text transform="translate(914.90,355.84) rotate(-90) scale(1.1130,1)" font-family="'Liberation Sans', Arial, Helvetica, sans-serif" font-size="45.90" font-weight="bold" fill="#000">&#916;</text>
<text transform="translate(914.90,322.20) rotate(-90) scale(0.9930,1)" font-family="'Liberation Sans', Arial, Helvetica, sans-serif" font-size="45.50" font-weight="bold" fill="#000">u'v'</text>
<text transform="translate(864.63,78.90) scale(1.0160,1)" font-family="'Liberation Serif', 'Times New Roman', serif" font-size="58.20" font-weight="bold" fill="#000">(b)</text>
<text transform="translate(1360.69,297.10) scale(0.9740,1)" font-family="'Liberation Sans', Arial, Helvetica, sans-serif" font-size="48.00" font-weight="bold" fill="#ff0000" clip-path="url(#c9)">1 JNCD</text>
<rect x="1286" y="34.1" width="422.4" height="102.8" fill="#fff" stroke="#222" stroke-width="1.4"/>
<rect fill="#ff0000" x="1331.6" y="58.5" width="12.4" height="11.9"/>
<polygon fill="#0000ff" points="1337.5,107.4 1329.2,120.0 1345.8,120.0"/>
<text transform="translate(1387.24,75.35)" font-family="'Liberation Sans', Arial, Helvetica, sans-serif" font-size="41.40" font-weight="bold" fill="#000" letter-spacing="1.386">60 Hz</text>
<text transform="translate(1497.07,75.65) scale(1.1230,1)" font-family="'Liberation Serif', 'Times New Roman', serif" font-size="62.00" font-weight="normal" fill="#000" stroke="#fff" stroke-width="1.2">&#8596;</text>
<text transform="translate(1565.14,75.35)" font-family="'Liberation Sans', Arial, Helvetica, sans-serif" font-size="41.40" font-weight="bold" fill="#000" letter-spacing="1.161">90 Hz</text>
<text transform="translate(1387.24,125.45)" font-family="'Liberation Sans', Arial, Helvetica, sans-serif" font-size="41.40" font-weight="bold" fill="#000" letter-spacing="1.386">60 Hz</text>
<text transform="translate(1497.07,126.30) scale(1.1230,1)" font-family="'Liberation Serif', 'Times New Roman', serif" font-size="62.00" font-weight="normal" fill="#000" stroke="#fff" stroke-width="1.2">&#8596;</text>
<text transform="translate(1565.42,125.45)" font-family="'Liberation Sans', Arial, Helvetica, sans-serif" font-size="41.40" font-weight="bold" fill="#000" clip-path="url(#c10)" letter-spacing="0.900">120 Hz</text>
</svg>
</body></html>
